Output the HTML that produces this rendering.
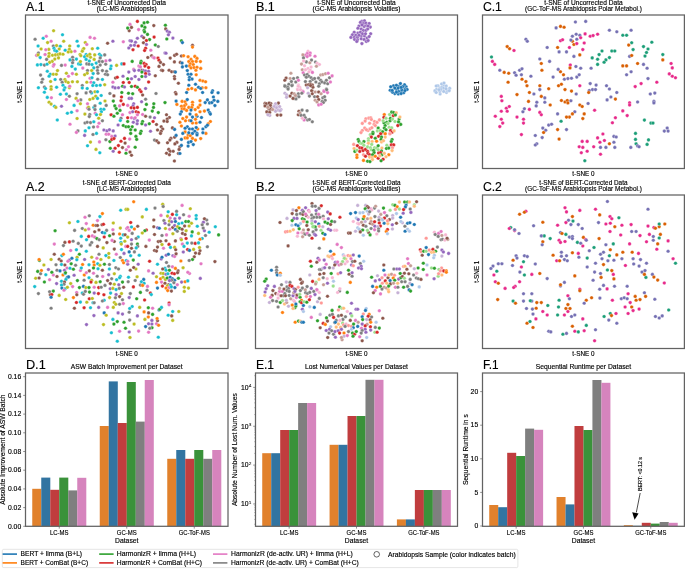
<!DOCTYPE html><html><head><meta charset="utf-8"><style>
html,body{margin:0;padding:0;background:#fff;}
svg{display:block;font-family:"Liberation Sans", sans-serif;will-change:transform;}
</style></head><body>
<svg width="685" height="569" viewBox="0 0 685 569">
<rect width="685" height="569" fill="#fff"/>
<g stroke="#fff" stroke-width="0.3">
<circle cx="53.6" cy="30.7" r="1.78" fill="#bcbd22"/>
<circle cx="62.5" cy="34.8" r="1.78" fill="#17becf"/>
<circle cx="35.1" cy="39.3" r="1.78" fill="#7f7f7f"/>
<circle cx="43.2" cy="38.3" r="1.78" fill="#17becf"/>
<circle cx="46.3" cy="36.3" r="1.78" fill="#e377c2"/>
<circle cx="51.1" cy="41.2" r="1.78" fill="#e377c2"/>
<circle cx="47.6" cy="42.6" r="1.78" fill="#bcbd22"/>
<circle cx="63.7" cy="41.2" r="1.78" fill="#bcbd22"/>
<circle cx="77.1" cy="41.2" r="1.78" fill="#17becf"/>
<circle cx="85.3" cy="42.6" r="1.78" fill="#bcbd22"/>
<circle cx="86.8" cy="44.5" r="1.78" fill="#e377c2"/>
<circle cx="90.1" cy="37.4" r="1.78" fill="#e377c2"/>
<circle cx="94.5" cy="38.3" r="1.78" fill="#e377c2"/>
<circle cx="107.6" cy="43.3" r="1.78" fill="#8c564b"/>
<circle cx="112.9" cy="41.2" r="1.78" fill="#9467bd"/>
<circle cx="123.3" cy="41.8" r="1.78" fill="#e377c2"/>
<circle cx="38.1" cy="46.0" r="1.78" fill="#17becf"/>
<circle cx="41.1" cy="49.0" r="1.78" fill="#bcbd22"/>
<circle cx="53.3" cy="46.0" r="1.78" fill="#7f7f7f"/>
<circle cx="56.6" cy="45.6" r="1.78" fill="#bcbd22"/>
<circle cx="60.3" cy="46.3" r="1.78" fill="#17becf"/>
<circle cx="54.0" cy="48.2" r="1.78" fill="#17becf"/>
<circle cx="48.8" cy="49.4" r="1.78" fill="#bcbd22"/>
<circle cx="45.8" cy="49.7" r="1.78" fill="#e377c2"/>
<circle cx="59.2" cy="49.0" r="1.78" fill="#bcbd22"/>
<circle cx="54.8" cy="50.5" r="1.78" fill="#17becf"/>
<circle cx="56.6" cy="51.2" r="1.78" fill="#17becf"/>
<circle cx="65.2" cy="50.2" r="1.78" fill="#17becf"/>
<circle cx="69.7" cy="46.0" r="1.78" fill="#bcbd22"/>
<circle cx="69.4" cy="49.3" r="1.78" fill="#bcbd22"/>
<circle cx="71.2" cy="51.7" r="1.78" fill="#bcbd22"/>
<circle cx="68.2" cy="52.0" r="1.78" fill="#bcbd22"/>
<circle cx="74.9" cy="51.2" r="1.78" fill="#e377c2"/>
<circle cx="78.3" cy="46.0" r="1.78" fill="#17becf"/>
<circle cx="82.8" cy="49.7" r="1.78" fill="#bcbd22"/>
<circle cx="83.8" cy="48.5" r="1.78" fill="#bcbd22"/>
<circle cx="82.3" cy="51.2" r="1.78" fill="#bcbd22"/>
<circle cx="92.3" cy="48.7" r="1.78" fill="#bcbd22"/>
<circle cx="97.7" cy="48.2" r="1.78" fill="#17becf"/>
<circle cx="38.4" cy="53.0" r="1.78" fill="#7f7f7f"/>
<circle cx="36.6" cy="55.4" r="1.78" fill="#e377c2"/>
<circle cx="38.1" cy="54.9" r="1.78" fill="#bcbd22"/>
<circle cx="40.2" cy="57.6" r="1.78" fill="#17becf"/>
<circle cx="45.1" cy="54.5" r="1.78" fill="#e377c2"/>
<circle cx="49.1" cy="53.5" r="1.78" fill="#bcbd22"/>
<circle cx="48.8" cy="56.4" r="1.78" fill="#bcbd22"/>
<circle cx="52.5" cy="55.2" r="1.78" fill="#bcbd22"/>
<circle cx="55.5" cy="54.9" r="1.78" fill="#bcbd22"/>
<circle cx="58.1" cy="54.5" r="1.78" fill="#bcbd22"/>
<circle cx="60.0" cy="53.9" r="1.78" fill="#bcbd22"/>
<circle cx="63.0" cy="54.2" r="1.78" fill="#bcbd22"/>
<circle cx="58.5" cy="57.9" r="1.78" fill="#bcbd22"/>
<circle cx="54.8" cy="59.1" r="1.78" fill="#bcbd22"/>
<circle cx="46.6" cy="59.4" r="1.78" fill="#7f7f7f"/>
<circle cx="52.2" cy="61.4" r="1.78" fill="#bcbd22"/>
<circle cx="49.6" cy="62.4" r="1.78" fill="#bcbd22"/>
<circle cx="80.1" cy="54.5" r="1.78" fill="#bcbd22"/>
<circle cx="80.8" cy="55.7" r="1.78" fill="#bcbd22"/>
<circle cx="86.1" cy="54.5" r="1.78" fill="#17becf"/>
<circle cx="84.6" cy="56.7" r="1.78" fill="#17becf"/>
<circle cx="87.5" cy="55.7" r="1.78" fill="#bcbd22"/>
<circle cx="90.5" cy="57.2" r="1.78" fill="#bcbd22"/>
<circle cx="89.8" cy="54.2" r="1.78" fill="#bcbd22"/>
<circle cx="94.7" cy="54.9" r="1.78" fill="#bcbd22"/>
<circle cx="99.5" cy="54.2" r="1.78" fill="#17becf"/>
<circle cx="100.9" cy="55.7" r="1.78" fill="#17becf"/>
<circle cx="104.7" cy="54.9" r="1.78" fill="#7f7f7f"/>
<circle cx="100.2" cy="57.9" r="1.78" fill="#7f7f7f"/>
<circle cx="72.6" cy="57.2" r="1.78" fill="#7f7f7f"/>
<circle cx="70.0" cy="59.9" r="1.78" fill="#17becf"/>
<circle cx="72.9" cy="60.2" r="1.78" fill="#7f7f7f"/>
<circle cx="76.4" cy="59.1" r="1.78" fill="#17becf"/>
<circle cx="72.6" cy="62.7" r="1.78" fill="#7f7f7f"/>
<circle cx="78.6" cy="63.9" r="1.78" fill="#17becf"/>
<circle cx="80.4" cy="64.3" r="1.78" fill="#17becf"/>
<circle cx="80.4" cy="61.6" r="1.78" fill="#bcbd22"/>
<circle cx="86.1" cy="59.4" r="1.78" fill="#17becf"/>
<circle cx="89.3" cy="61.1" r="1.78" fill="#17becf"/>
<circle cx="94.2" cy="59.4" r="1.78" fill="#bcbd22"/>
<circle cx="86.8" cy="63.9" r="1.78" fill="#7f7f7f"/>
<circle cx="89.0" cy="64.3" r="1.78" fill="#7f7f7f"/>
<circle cx="92.0" cy="64.6" r="1.78" fill="#17becf"/>
<circle cx="96.2" cy="63.1" r="1.78" fill="#17becf"/>
<circle cx="99.2" cy="61.4" r="1.78" fill="#7f7f7f"/>
<circle cx="102.4" cy="61.6" r="1.78" fill="#7f7f7f"/>
<circle cx="105.9" cy="60.9" r="1.78" fill="#e377c2"/>
<circle cx="109.9" cy="60.2" r="1.78" fill="#9467bd"/>
<circle cx="105.7" cy="64.2" r="1.78" fill="#7f7f7f"/>
<circle cx="100.2" cy="65.1" r="1.78" fill="#7f7f7f"/>
<circle cx="111.1" cy="66.1" r="1.78" fill="#17becf"/>
<circle cx="116.6" cy="65.4" r="1.78" fill="#bcbd22"/>
<circle cx="121.8" cy="63.9" r="1.78" fill="#17becf"/>
<circle cx="124.0" cy="63.9" r="1.78" fill="#d62728"/>
<circle cx="37.4" cy="64.9" r="1.78" fill="#17becf"/>
<circle cx="40.9" cy="64.6" r="1.78" fill="#17becf"/>
<circle cx="44.4" cy="65.1" r="1.78" fill="#7f7f7f"/>
<circle cx="47.0" cy="64.2" r="1.78" fill="#17becf"/>
<circle cx="53.3" cy="66.1" r="1.78" fill="#e377c2"/>
<circle cx="54.0" cy="64.6" r="1.78" fill="#e377c2"/>
<circle cx="61.5" cy="65.4" r="1.78" fill="#7f7f7f"/>
<circle cx="65.2" cy="65.1" r="1.78" fill="#e377c2"/>
<circle cx="71.9" cy="66.4" r="1.78" fill="#17becf"/>
<circle cx="75.3" cy="69.1" r="1.78" fill="#17becf"/>
<circle cx="82.8" cy="68.1" r="1.78" fill="#e377c2"/>
<circle cx="93.8" cy="67.9" r="1.78" fill="#17becf"/>
<circle cx="97.5" cy="67.3" r="1.78" fill="#7f7f7f"/>
<circle cx="110.6" cy="68.8" r="1.78" fill="#17becf"/>
<circle cx="47.3" cy="71.3" r="1.78" fill="#17becf"/>
<circle cx="50.3" cy="74.3" r="1.78" fill="#17becf"/>
<circle cx="49.1" cy="76.2" r="1.78" fill="#17becf"/>
<circle cx="53.3" cy="74.3" r="1.78" fill="#bcbd22"/>
<circle cx="56.3" cy="74.3" r="1.78" fill="#bcbd22"/>
<circle cx="57.5" cy="70.6" r="1.78" fill="#bcbd22"/>
<circle cx="40.6" cy="75.1" r="1.78" fill="#7f7f7f"/>
<circle cx="42.6" cy="79.2" r="1.78" fill="#7f7f7f"/>
<circle cx="41.7" cy="82.2" r="1.78" fill="#7f7f7f"/>
<circle cx="66.4" cy="73.3" r="1.78" fill="#bcbd22"/>
<circle cx="68.5" cy="76.2" r="1.78" fill="#e377c2"/>
<circle cx="72.4" cy="73.6" r="1.78" fill="#e377c2"/>
<circle cx="76.4" cy="74.3" r="1.78" fill="#bcbd22"/>
<circle cx="87.5" cy="70.6" r="1.78" fill="#7f7f7f"/>
<circle cx="91.7" cy="70.6" r="1.78" fill="#bcbd22"/>
<circle cx="87.2" cy="73.3" r="1.78" fill="#bcbd22"/>
<circle cx="84.6" cy="74.8" r="1.78" fill="#bcbd22"/>
<circle cx="93.2" cy="73.6" r="1.78" fill="#17becf"/>
<circle cx="97.5" cy="70.6" r="1.78" fill="#7f7f7f"/>
<circle cx="102.4" cy="70.6" r="1.78" fill="#7f7f7f"/>
<circle cx="106.6" cy="71.3" r="1.78" fill="#7f7f7f"/>
<circle cx="105.4" cy="74.3" r="1.78" fill="#7f7f7f"/>
<circle cx="107.6" cy="74.8" r="1.78" fill="#7f7f7f"/>
<circle cx="98.0" cy="73.3" r="1.78" fill="#7f7f7f"/>
<circle cx="115.5" cy="78.0" r="1.78" fill="#8c564b"/>
<circle cx="117.3" cy="77.3" r="1.78" fill="#d62728"/>
<circle cx="123.0" cy="76.2" r="1.78" fill="#9467bd"/>
<circle cx="50.6" cy="81.5" r="1.78" fill="#bcbd22"/>
<circle cx="55.1" cy="79.5" r="1.78" fill="#17becf"/>
<circle cx="60.7" cy="79.5" r="1.78" fill="#7f7f7f"/>
<circle cx="62.2" cy="82.2" r="1.78" fill="#7f7f7f"/>
<circle cx="64.9" cy="79.5" r="1.78" fill="#bcbd22"/>
<circle cx="65.9" cy="81.5" r="1.78" fill="#bcbd22"/>
<circle cx="68.2" cy="82.5" r="1.78" fill="#bcbd22"/>
<circle cx="72.4" cy="81.8" r="1.78" fill="#bcbd22"/>
<circle cx="77.4" cy="81.8" r="1.78" fill="#bcbd22"/>
<circle cx="86.8" cy="82.2" r="1.78" fill="#bcbd22"/>
<circle cx="90.1" cy="78.3" r="1.78" fill="#e377c2"/>
<circle cx="92.0" cy="77.7" r="1.78" fill="#17becf"/>
<circle cx="97.7" cy="79.2" r="1.78" fill="#7f7f7f"/>
<circle cx="102.4" cy="79.5" r="1.78" fill="#17becf"/>
<circle cx="91.0" cy="82.2" r="1.78" fill="#e377c2"/>
<circle cx="93.8" cy="82.8" r="1.78" fill="#17becf"/>
<circle cx="96.5" cy="85.5" r="1.78" fill="#17becf"/>
<circle cx="100.2" cy="85.2" r="1.78" fill="#17becf"/>
<circle cx="104.7" cy="84.7" r="1.78" fill="#bcbd22"/>
<circle cx="112.9" cy="82.2" r="1.78" fill="#e377c2"/>
<circle cx="123.3" cy="82.5" r="1.78" fill="#d62728"/>
<circle cx="38.4" cy="87.7" r="1.78" fill="#17becf"/>
<circle cx="44.4" cy="87.0" r="1.78" fill="#7f7f7f"/>
<circle cx="45.5" cy="88.5" r="1.78" fill="#17becf"/>
<circle cx="51.1" cy="86.7" r="1.78" fill="#bcbd22"/>
<circle cx="51.1" cy="89.2" r="1.78" fill="#bcbd22"/>
<circle cx="56.6" cy="87.3" r="1.78" fill="#17becf"/>
<circle cx="63.0" cy="85.2" r="1.78" fill="#17becf"/>
<circle cx="64.9" cy="87.7" r="1.78" fill="#17becf"/>
<circle cx="64.0" cy="89.9" r="1.78" fill="#17becf"/>
<circle cx="69.4" cy="87.7" r="1.78" fill="#bcbd22"/>
<circle cx="69.7" cy="86.2" r="1.78" fill="#e377c2"/>
<circle cx="82.3" cy="85.5" r="1.78" fill="#7f7f7f"/>
<circle cx="82.3" cy="88.0" r="1.78" fill="#17becf"/>
<circle cx="87.2" cy="88.5" r="1.78" fill="#17becf"/>
<circle cx="92.8" cy="85.5" r="1.78" fill="#17becf"/>
<circle cx="112.9" cy="87.0" r="1.78" fill="#9467bd"/>
<circle cx="115.1" cy="87.9" r="1.78" fill="#9467bd"/>
<circle cx="118.5" cy="87.7" r="1.78" fill="#9467bd"/>
<circle cx="122.5" cy="86.2" r="1.78" fill="#2ca02c"/>
<circle cx="124.5" cy="87.0" r="1.78" fill="#9467bd"/>
<circle cx="44.4" cy="92.2" r="1.78" fill="#17becf"/>
<circle cx="47.3" cy="97.4" r="1.78" fill="#17becf"/>
<circle cx="51.4" cy="97.7" r="1.78" fill="#e377c2"/>
<circle cx="49.1" cy="102.2" r="1.78" fill="#bcbd22"/>
<circle cx="51.1" cy="104.1" r="1.78" fill="#bcbd22"/>
<circle cx="54.5" cy="106.3" r="1.78" fill="#17becf"/>
<circle cx="55.8" cy="107.4" r="1.78" fill="#bcbd22"/>
<circle cx="61.5" cy="106.3" r="1.78" fill="#9467bd"/>
<circle cx="60.4" cy="94.3" r="1.78" fill="#17becf"/>
<circle cx="66.4" cy="94.0" r="1.78" fill="#17becf"/>
<circle cx="69.4" cy="96.2" r="1.78" fill="#7f7f7f"/>
<circle cx="77.1" cy="93.7" r="1.78" fill="#7f7f7f"/>
<circle cx="66.4" cy="99.5" r="1.78" fill="#e377c2"/>
<circle cx="76.1" cy="98.4" r="1.78" fill="#bcbd22"/>
<circle cx="80.8" cy="99.9" r="1.78" fill="#7f7f7f"/>
<circle cx="77.9" cy="100.7" r="1.78" fill="#e377c2"/>
<circle cx="80.4" cy="103.7" r="1.78" fill="#bcbd22"/>
<circle cx="74.1" cy="105.4" r="1.78" fill="#17becf"/>
<circle cx="67.4" cy="113.3" r="1.78" fill="#17becf"/>
<circle cx="71.5" cy="112.3" r="1.78" fill="#17becf"/>
<circle cx="77.1" cy="110.8" r="1.78" fill="#e377c2"/>
<circle cx="77.1" cy="118.5" r="1.78" fill="#bcbd22"/>
<circle cx="57.3" cy="120.0" r="1.78" fill="#17becf"/>
<circle cx="86.1" cy="92.9" r="1.78" fill="#7f7f7f"/>
<circle cx="91.6" cy="92.9" r="1.78" fill="#17becf"/>
<circle cx="95.0" cy="91.7" r="1.78" fill="#bcbd22"/>
<circle cx="97.5" cy="91.7" r="1.78" fill="#17becf"/>
<circle cx="90.5" cy="91.7" r="1.78" fill="#7f7f7f"/>
<circle cx="95.7" cy="96.2" r="1.78" fill="#bcbd22"/>
<circle cx="93.0" cy="98.4" r="1.78" fill="#bcbd22"/>
<circle cx="89.8" cy="99.5" r="1.78" fill="#bcbd22"/>
<circle cx="97.5" cy="98.4" r="1.78" fill="#17becf"/>
<circle cx="101.2" cy="95.5" r="1.78" fill="#17becf"/>
<circle cx="109.9" cy="93.5" r="1.78" fill="#7f7f7f"/>
<circle cx="113.9" cy="95.9" r="1.78" fill="#8c564b"/>
<circle cx="87.5" cy="103.7" r="1.78" fill="#e377c2"/>
<circle cx="100.2" cy="103.2" r="1.78" fill="#17becf"/>
<circle cx="106.2" cy="105.4" r="1.78" fill="#7f7f7f"/>
<circle cx="105.0" cy="101.0" r="1.78" fill="#bcbd22"/>
<circle cx="87.5" cy="108.1" r="1.78" fill="#e377c2"/>
<circle cx="88.6" cy="107.4" r="1.78" fill="#bcbd22"/>
<circle cx="89.0" cy="109.3" r="1.78" fill="#7f7f7f"/>
<circle cx="93.9" cy="107.4" r="1.78" fill="#17becf"/>
<circle cx="95.0" cy="105.9" r="1.78" fill="#7f7f7f"/>
<circle cx="95.0" cy="109.6" r="1.78" fill="#7f7f7f"/>
<circle cx="100.9" cy="109.3" r="1.78" fill="#17becf"/>
<circle cx="103.9" cy="109.3" r="1.78" fill="#17becf"/>
<circle cx="101.4" cy="111.8" r="1.78" fill="#17becf"/>
<circle cx="84.9" cy="114.1" r="1.78" fill="#bcbd22"/>
<circle cx="89.8" cy="114.5" r="1.78" fill="#7f7f7f"/>
<circle cx="89.3" cy="116.6" r="1.78" fill="#7f7f7f"/>
<circle cx="95.3" cy="113.3" r="1.78" fill="#e377c2"/>
<circle cx="96.5" cy="114.8" r="1.78" fill="#17becf"/>
<circle cx="100.5" cy="114.5" r="1.78" fill="#bcbd22"/>
<circle cx="98.7" cy="118.2" r="1.78" fill="#bcbd22"/>
<circle cx="70.0" cy="124.2" r="1.78" fill="#e377c2"/>
<circle cx="85.0" cy="123.0" r="1.78" fill="#7f7f7f"/>
<circle cx="87.2" cy="122.3" r="1.78" fill="#7f7f7f"/>
<circle cx="90.5" cy="122.6" r="1.78" fill="#7f7f7f"/>
<circle cx="93.8" cy="121.8" r="1.78" fill="#17becf"/>
<circle cx="99.0" cy="123.3" r="1.78" fill="#e377c2"/>
<circle cx="102.4" cy="120.8" r="1.78" fill="#7f7f7f"/>
<circle cx="89.0" cy="127.8" r="1.78" fill="#17becf"/>
<circle cx="93.5" cy="127.0" r="1.78" fill="#7f7f7f"/>
<circle cx="97.7" cy="126.7" r="1.78" fill="#e377c2"/>
<circle cx="77.9" cy="130.9" r="1.78" fill="#7f7f7f"/>
<circle cx="76.4" cy="132.4" r="1.78" fill="#e377c2"/>
<circle cx="84.6" cy="135.4" r="1.78" fill="#9467bd"/>
<circle cx="85.3" cy="130.9" r="1.78" fill="#17becf"/>
<circle cx="93.0" cy="134.5" r="1.78" fill="#7f7f7f"/>
<circle cx="96.5" cy="133.4" r="1.78" fill="#17becf"/>
<circle cx="90.5" cy="142.1" r="1.78" fill="#bcbd22"/>
<circle cx="87.5" cy="145.8" r="1.78" fill="#17becf"/>
<circle cx="99.5" cy="141.9" r="1.78" fill="#e377c2"/>
<circle cx="96.0" cy="149.4" r="1.78" fill="#bcbd22"/>
<circle cx="99.8" cy="152.8" r="1.78" fill="#17becf"/>
<circle cx="103.9" cy="130.0" r="1.78" fill="#9467bd"/>
<circle cx="106.9" cy="130.9" r="1.78" fill="#9467bd"/>
<circle cx="109.4" cy="129.7" r="1.78" fill="#9467bd"/>
<circle cx="113.2" cy="130.9" r="1.78" fill="#9467bd"/>
<circle cx="106.2" cy="134.2" r="1.78" fill="#e377c2"/>
<circle cx="108.7" cy="134.2" r="1.78" fill="#e377c2"/>
<circle cx="111.8" cy="136.4" r="1.78" fill="#e377c2"/>
<circle cx="115.1" cy="136.0" r="1.78" fill="#9467bd"/>
<circle cx="105.9" cy="139.7" r="1.78" fill="#7f7f7f"/>
<circle cx="109.9" cy="141.6" r="1.78" fill="#2ca02c"/>
<circle cx="111.8" cy="139.4" r="1.78" fill="#d62728"/>
<circle cx="114.0" cy="138.6" r="1.78" fill="#d62728"/>
<circle cx="113.3" cy="101.1" r="1.78" fill="#2ca02c"/>
<circle cx="114.8" cy="105.9" r="1.78" fill="#2ca02c"/>
<circle cx="116.1" cy="108.6" r="1.78" fill="#2ca02c"/>
<circle cx="120.0" cy="110.4" r="1.78" fill="#2ca02c"/>
<circle cx="117.3" cy="113.3" r="1.78" fill="#2ca02c"/>
<circle cx="111.1" cy="114.8" r="1.78" fill="#d62728"/>
<circle cx="113.9" cy="116.3" r="1.78" fill="#2ca02c"/>
<circle cx="122.5" cy="114.8" r="1.78" fill="#e377c2"/>
<circle cx="121.0" cy="118.2" r="1.78" fill="#7f7f7f"/>
<circle cx="123.3" cy="104.4" r="1.78" fill="#d62728"/>
<circle cx="121.0" cy="100.7" r="1.78" fill="#d62728"/>
<circle cx="119.6" cy="105.9" r="1.78" fill="#e377c2"/>
<circle cx="118.1" cy="125.0" r="1.78" fill="#9467bd"/>
<circle cx="123.3" cy="125.5" r="1.78" fill="#2ca02c"/>
<circle cx="126.0" cy="126.7" r="1.78" fill="#2ca02c"/>
<circle cx="120.3" cy="120.5" r="1.78" fill="#17becf"/>
<circle cx="124.5" cy="138.4" r="1.78" fill="#d62728"/>
<circle cx="121.0" cy="141.2" r="1.78" fill="#d62728"/>
<circle cx="125.1" cy="143.1" r="1.78" fill="#8c564b"/>
<circle cx="118.4" cy="145.6" r="1.78" fill="#d62728"/>
<circle cx="115.1" cy="148.3" r="1.78" fill="#d62728"/>
<circle cx="122.5" cy="147.6" r="1.78" fill="#8c564b"/>
<circle cx="110.3" cy="148.3" r="1.78" fill="#2ca02c"/>
<circle cx="113.2" cy="151.3" r="1.78" fill="#9467bd"/>
<circle cx="119.3" cy="152.3" r="1.78" fill="#d62728"/>
<circle cx="126.0" cy="153.2" r="1.78" fill="#2ca02c"/>
<circle cx="126.3" cy="149.8" r="1.78" fill="#e377c2"/>
<circle cx="121.8" cy="92.5" r="1.78" fill="#2ca02c"/>
<circle cx="121.5" cy="97.0" r="1.78" fill="#d62728"/>
<circle cx="137.4" cy="21.4" r="1.78" fill="#d62728"/>
<circle cx="144.1" cy="22.9" r="1.78" fill="#2ca02c"/>
<circle cx="147.5" cy="22.2" r="1.78" fill="#2ca02c"/>
<circle cx="141.9" cy="25.9" r="1.78" fill="#2ca02c"/>
<circle cx="144.9" cy="27.4" r="1.78" fill="#2ca02c"/>
<circle cx="144.1" cy="30.4" r="1.78" fill="#2ca02c"/>
<circle cx="144.6" cy="31.9" r="1.78" fill="#2ca02c"/>
<circle cx="153.8" cy="25.6" r="1.78" fill="#8c564b"/>
<circle cx="130.0" cy="24.4" r="1.78" fill="#e377c2"/>
<circle cx="131.5" cy="27.4" r="1.78" fill="#8c564b"/>
<circle cx="129.2" cy="30.7" r="1.78" fill="#8c564b"/>
<circle cx="127.7" cy="28.1" r="1.78" fill="#2ca02c"/>
<circle cx="138.6" cy="29.6" r="1.78" fill="#e377c2"/>
<circle cx="165.4" cy="25.2" r="1.78" fill="#2ca02c"/>
<circle cx="165.7" cy="28.9" r="1.78" fill="#8c564b"/>
<circle cx="167.2" cy="31.1" r="1.78" fill="#9467bd"/>
<circle cx="169.4" cy="32.2" r="1.78" fill="#9467bd"/>
<circle cx="168.4" cy="34.8" r="1.78" fill="#9467bd"/>
<circle cx="172.9" cy="38.1" r="1.78" fill="#9467bd"/>
<circle cx="166.8" cy="39.0" r="1.78" fill="#2ca02c"/>
<circle cx="181.4" cy="40.8" r="1.78" fill="#2ca02c"/>
<circle cx="182.4" cy="42.6" r="1.78" fill="#1f77b4"/>
<circle cx="147.5" cy="34.4" r="1.78" fill="#2ca02c"/>
<circle cx="141.9" cy="36.3" r="1.78" fill="#9467bd"/>
<circle cx="143.7" cy="37.8" r="1.78" fill="#8c564b"/>
<circle cx="137.4" cy="38.3" r="1.78" fill="#9467bd"/>
<circle cx="154.1" cy="37.1" r="1.78" fill="#d62728"/>
<circle cx="149.6" cy="39.6" r="1.78" fill="#2ca02c"/>
<circle cx="146.4" cy="40.5" r="1.78" fill="#d62728"/>
<circle cx="130.0" cy="40.8" r="1.78" fill="#9467bd"/>
<circle cx="131.5" cy="41.1" r="1.78" fill="#9467bd"/>
<circle cx="135.5" cy="42.3" r="1.78" fill="#9467bd"/>
<circle cx="143.4" cy="42.7" r="1.78" fill="#8c564b"/>
<circle cx="134.4" cy="45.3" r="1.78" fill="#9467bd"/>
<circle cx="130.7" cy="45.6" r="1.78" fill="#9467bd"/>
<circle cx="128.8" cy="48.0" r="1.78" fill="#9467bd"/>
<circle cx="133.0" cy="49.7" r="1.78" fill="#d62728"/>
<circle cx="138.2" cy="46.0" r="1.78" fill="#d62728"/>
<circle cx="146.4" cy="44.5" r="1.78" fill="#9467bd"/>
<circle cx="155.3" cy="45.0" r="1.78" fill="#2ca02c"/>
<circle cx="158.3" cy="46.5" r="1.78" fill="#7f7f7f"/>
<circle cx="145.6" cy="48.2" r="1.78" fill="#d62728"/>
<circle cx="144.6" cy="50.5" r="1.78" fill="#d62728"/>
<circle cx="150.8" cy="50.2" r="1.78" fill="#e377c2"/>
<circle cx="192.5" cy="45.3" r="1.78" fill="#8c564b"/>
<circle cx="192.5" cy="47.1" r="1.78" fill="#ff7f0e"/>
<circle cx="165.0" cy="53.0" r="1.78" fill="#9467bd"/>
<circle cx="166.0" cy="53.2" r="1.78" fill="#9467bd"/>
<circle cx="151.6" cy="55.7" r="1.78" fill="#8c564b"/>
<circle cx="147.8" cy="57.5" r="1.78" fill="#8c564b"/>
<circle cx="153.1" cy="57.2" r="1.78" fill="#e377c2"/>
<circle cx="154.2" cy="57.9" r="1.78" fill="#e377c2"/>
<circle cx="158.0" cy="58.1" r="1.78" fill="#d62728"/>
<circle cx="159.0" cy="60.2" r="1.78" fill="#d62728"/>
<circle cx="160.5" cy="62.4" r="1.78" fill="#8c564b"/>
<circle cx="163.5" cy="64.6" r="1.78" fill="#8c564b"/>
<circle cx="159.0" cy="66.4" r="1.78" fill="#8c564b"/>
<circle cx="170.2" cy="58.1" r="1.78" fill="#8c564b"/>
<circle cx="174.6" cy="55.4" r="1.78" fill="#8c564b"/>
<circle cx="176.6" cy="54.2" r="1.78" fill="#8c564b"/>
<circle cx="181.4" cy="56.0" r="1.78" fill="#8c564b"/>
<circle cx="174.4" cy="61.9" r="1.78" fill="#8c564b"/>
<circle cx="180.3" cy="62.4" r="1.78" fill="#8c564b"/>
<circle cx="161.5" cy="70.3" r="1.78" fill="#8c564b"/>
<circle cx="162.7" cy="70.6" r="1.78" fill="#8c564b"/>
<circle cx="169.1" cy="70.3" r="1.78" fill="#8c564b"/>
<circle cx="171.7" cy="71.8" r="1.78" fill="#8c564b"/>
<circle cx="174.4" cy="71.8" r="1.78" fill="#8c564b"/>
<circle cx="175.4" cy="72.1" r="1.78" fill="#1f77b4"/>
<circle cx="155.3" cy="75.8" r="1.78" fill="#8c564b"/>
<circle cx="174.4" cy="76.5" r="1.78" fill="#8c564b"/>
<circle cx="174.6" cy="78.8" r="1.78" fill="#8c564b"/>
<circle cx="178.4" cy="83.2" r="1.78" fill="#8c564b"/>
<circle cx="132.2" cy="61.4" r="1.78" fill="#2ca02c"/>
<circle cx="141.1" cy="61.4" r="1.78" fill="#2ca02c"/>
<circle cx="140.7" cy="63.1" r="1.78" fill="#2ca02c"/>
<circle cx="144.1" cy="63.4" r="1.78" fill="#d62728"/>
<circle cx="146.1" cy="64.6" r="1.78" fill="#d62728"/>
<circle cx="148.6" cy="67.6" r="1.78" fill="#d62728"/>
<circle cx="144.9" cy="66.1" r="1.78" fill="#d62728"/>
<circle cx="138.9" cy="66.1" r="1.78" fill="#e377c2"/>
<circle cx="140.4" cy="66.9" r="1.78" fill="#e377c2"/>
<circle cx="141.9" cy="70.3" r="1.78" fill="#8c564b"/>
<circle cx="138.9" cy="70.3" r="1.78" fill="#9467bd"/>
<circle cx="143.4" cy="70.6" r="1.78" fill="#9467bd"/>
<circle cx="141.9" cy="72.1" r="1.78" fill="#2ca02c"/>
<circle cx="145.6" cy="71.0" r="1.78" fill="#9467bd"/>
<circle cx="148.6" cy="71.3" r="1.78" fill="#9467bd"/>
<circle cx="149.3" cy="74.3" r="1.78" fill="#9467bd"/>
<circle cx="133.7" cy="69.4" r="1.78" fill="#e377c2"/>
<circle cx="134.4" cy="70.6" r="1.78" fill="#9467bd"/>
<circle cx="128.8" cy="72.1" r="1.78" fill="#9467bd"/>
<circle cx="145.6" cy="73.6" r="1.78" fill="#d62728"/>
<circle cx="141.9" cy="76.5" r="1.78" fill="#2ca02c"/>
<circle cx="145.6" cy="76.5" r="1.78" fill="#9467bd"/>
<circle cx="135.2" cy="76.5" r="1.78" fill="#9467bd"/>
<circle cx="138.9" cy="79.5" r="1.78" fill="#9467bd"/>
<circle cx="131.5" cy="78.8" r="1.78" fill="#9467bd"/>
<circle cx="127.7" cy="78.8" r="1.78" fill="#2ca02c"/>
<circle cx="129.2" cy="82.5" r="1.78" fill="#d62728"/>
<circle cx="148.6" cy="82.0" r="1.78" fill="#d62728"/>
<circle cx="131.5" cy="86.5" r="1.78" fill="#2ca02c"/>
<circle cx="135.2" cy="86.2" r="1.78" fill="#d62728"/>
<circle cx="137.4" cy="87.3" r="1.78" fill="#2ca02c"/>
<circle cx="139.7" cy="89.9" r="1.78" fill="#d62728"/>
<circle cx="145.6" cy="88.5" r="1.78" fill="#9467bd"/>
<circle cx="183.6" cy="55.7" r="1.78" fill="#ff7f0e"/>
<circle cx="188.1" cy="56.7" r="1.78" fill="#ff7f0e"/>
<circle cx="194.8" cy="56.4" r="1.78" fill="#ff7f0e"/>
<circle cx="197.0" cy="58.4" r="1.78" fill="#ff7f0e"/>
<circle cx="191.0" cy="59.4" r="1.78" fill="#ff7f0e"/>
<circle cx="188.8" cy="61.6" r="1.78" fill="#ff7f0e"/>
<circle cx="192.5" cy="61.6" r="1.78" fill="#ff7f0e"/>
<circle cx="196.2" cy="61.4" r="1.78" fill="#ff7f0e"/>
<circle cx="200.4" cy="61.6" r="1.78" fill="#ff7f0e"/>
<circle cx="190.3" cy="63.9" r="1.78" fill="#ff7f0e"/>
<circle cx="193.3" cy="64.6" r="1.78" fill="#ff7f0e"/>
<circle cx="189.5" cy="66.1" r="1.78" fill="#ff7f0e"/>
<circle cx="191.0" cy="67.9" r="1.78" fill="#ff7f0e"/>
<circle cx="194.0" cy="67.6" r="1.78" fill="#ff7f0e"/>
<circle cx="197.0" cy="67.3" r="1.78" fill="#ff7f0e"/>
<circle cx="200.7" cy="68.4" r="1.78" fill="#ff7f0e"/>
<circle cx="195.9" cy="70.3" r="1.78" fill="#ff7f0e"/>
<circle cx="196.2" cy="74.8" r="1.78" fill="#ff7f0e"/>
<circle cx="200.0" cy="80.3" r="1.78" fill="#ff7f0e"/>
<circle cx="202.9" cy="81.0" r="1.78" fill="#ff7f0e"/>
<circle cx="205.6" cy="81.8" r="1.78" fill="#ff7f0e"/>
<circle cx="202.2" cy="87.7" r="1.78" fill="#ff7f0e"/>
<circle cx="205.9" cy="87.7" r="1.78" fill="#ff7f0e"/>
<circle cx="188.1" cy="89.2" r="1.78" fill="#ff7f0e"/>
<circle cx="191.8" cy="88.5" r="1.78" fill="#ff7f0e"/>
<circle cx="195.5" cy="89.9" r="1.78" fill="#ff7f0e"/>
<circle cx="182.1" cy="63.1" r="1.78" fill="#1f77b4"/>
<circle cx="182.4" cy="66.9" r="1.78" fill="#1f77b4"/>
<circle cx="186.3" cy="66.1" r="1.78" fill="#1f77b4"/>
<circle cx="187.3" cy="70.6" r="1.78" fill="#1f77b4"/>
<circle cx="188.1" cy="74.3" r="1.78" fill="#1f77b4"/>
<circle cx="191.0" cy="74.3" r="1.78" fill="#1f77b4"/>
<circle cx="189.5" cy="77.3" r="1.78" fill="#1f77b4"/>
<circle cx="192.1" cy="79.1" r="1.78" fill="#1f77b4"/>
<circle cx="189.2" cy="79.8" r="1.78" fill="#1f77b4"/>
<circle cx="188.8" cy="85.2" r="1.78" fill="#1f77b4"/>
<circle cx="195.5" cy="84.3" r="1.78" fill="#1f77b4"/>
<circle cx="198.5" cy="87.3" r="1.78" fill="#1f77b4"/>
<circle cx="200.7" cy="88.5" r="1.78" fill="#1f77b4"/>
<circle cx="212.6" cy="90.7" r="1.78" fill="#1f77b4"/>
<circle cx="128.5" cy="93.2" r="1.78" fill="#2ca02c"/>
<circle cx="132.7" cy="93.7" r="1.78" fill="#2ca02c"/>
<circle cx="141.1" cy="91.7" r="1.78" fill="#d62728"/>
<circle cx="142.6" cy="95.0" r="1.78" fill="#8c564b"/>
<circle cx="156.0" cy="93.5" r="1.78" fill="#7f7f7f"/>
<circle cx="175.4" cy="92.5" r="1.78" fill="#8c564b"/>
<circle cx="176.1" cy="94.0" r="1.78" fill="#8c564b"/>
<circle cx="129.2" cy="98.4" r="1.78" fill="#9467bd"/>
<circle cx="131.5" cy="98.4" r="1.78" fill="#9467bd"/>
<circle cx="145.6" cy="99.2" r="1.78" fill="#7f7f7f"/>
<circle cx="141.6" cy="101.7" r="1.78" fill="#9467bd"/>
<circle cx="133.7" cy="103.7" r="1.78" fill="#9467bd"/>
<circle cx="133.0" cy="105.9" r="1.78" fill="#9467bd"/>
<circle cx="146.4" cy="104.4" r="1.78" fill="#2ca02c"/>
<circle cx="153.8" cy="103.7" r="1.78" fill="#2ca02c"/>
<circle cx="153.5" cy="107.4" r="1.78" fill="#2ca02c"/>
<circle cx="144.9" cy="109.6" r="1.78" fill="#2ca02c"/>
<circle cx="152.3" cy="111.1" r="1.78" fill="#2ca02c"/>
<circle cx="158.3" cy="112.6" r="1.78" fill="#2ca02c"/>
<circle cx="165.0" cy="102.6" r="1.78" fill="#2ca02c"/>
<circle cx="127.7" cy="105.4" r="1.78" fill="#e377c2"/>
<circle cx="131.2" cy="107.7" r="1.78" fill="#d62728"/>
<circle cx="134.1" cy="108.1" r="1.78" fill="#d62728"/>
<circle cx="137.4" cy="107.4" r="1.78" fill="#d62728"/>
<circle cx="130.0" cy="112.6" r="1.78" fill="#e377c2"/>
<circle cx="132.7" cy="111.8" r="1.78" fill="#9467bd"/>
<circle cx="136.2" cy="111.8" r="1.78" fill="#d62728"/>
<circle cx="138.2" cy="112.6" r="1.78" fill="#d62728"/>
<circle cx="137.4" cy="114.8" r="1.78" fill="#e377c2"/>
<circle cx="142.6" cy="114.5" r="1.78" fill="#e377c2"/>
<circle cx="127.7" cy="117.8" r="1.78" fill="#d62728"/>
<circle cx="131.5" cy="117.8" r="1.78" fill="#e377c2"/>
<circle cx="134.4" cy="118.5" r="1.78" fill="#9467bd"/>
<circle cx="135.2" cy="117.8" r="1.78" fill="#e377c2"/>
<circle cx="145.6" cy="116.3" r="1.78" fill="#8c564b"/>
<circle cx="150.1" cy="117.1" r="1.78" fill="#7f7f7f"/>
<circle cx="154.5" cy="117.8" r="1.78" fill="#9467bd"/>
<circle cx="153.1" cy="121.5" r="1.78" fill="#d62728"/>
<circle cx="156.5" cy="124.5" r="1.78" fill="#8c564b"/>
<circle cx="145.6" cy="125.0" r="1.78" fill="#9467bd"/>
<circle cx="149.3" cy="123.8" r="1.78" fill="#2ca02c"/>
<circle cx="133.3" cy="122.3" r="1.78" fill="#9467bd"/>
<circle cx="137.4" cy="120.8" r="1.78" fill="#9467bd"/>
<circle cx="137.1" cy="123.8" r="1.78" fill="#9467bd"/>
<circle cx="142.6" cy="121.5" r="1.78" fill="#2ca02c"/>
<circle cx="141.9" cy="123.8" r="1.78" fill="#2ca02c"/>
<circle cx="127.7" cy="121.5" r="1.78" fill="#2ca02c"/>
<circle cx="128.5" cy="126.7" r="1.78" fill="#2ca02c"/>
<circle cx="132.2" cy="126.7" r="1.78" fill="#2ca02c"/>
<circle cx="130.7" cy="129.7" r="1.78" fill="#2ca02c"/>
<circle cx="135.2" cy="130.0" r="1.78" fill="#2ca02c"/>
<circle cx="130.7" cy="133.4" r="1.78" fill="#2ca02c"/>
<circle cx="141.1" cy="131.2" r="1.78" fill="#2ca02c"/>
<circle cx="140.4" cy="133.4" r="1.78" fill="#2ca02c"/>
<circle cx="150.5" cy="131.2" r="1.78" fill="#9467bd"/>
<circle cx="135.9" cy="136.4" r="1.78" fill="#2ca02c"/>
<circle cx="136.7" cy="139.4" r="1.78" fill="#2ca02c"/>
<circle cx="129.7" cy="139.1" r="1.78" fill="#e377c2"/>
<circle cx="128.5" cy="146.8" r="1.78" fill="#e377c2"/>
<circle cx="135.2" cy="147.3" r="1.78" fill="#2ca02c"/>
<circle cx="130.0" cy="152.1" r="1.78" fill="#8c564b"/>
<circle cx="131.5" cy="155.3" r="1.78" fill="#8c564b"/>
<circle cx="154.5" cy="140.1" r="1.78" fill="#7f7f7f"/>
<circle cx="156.8" cy="140.9" r="1.78" fill="#8c564b"/>
<circle cx="158.6" cy="142.7" r="1.78" fill="#8c564b"/>
<circle cx="166.5" cy="114.8" r="1.78" fill="#8c564b"/>
<circle cx="169.4" cy="117.5" r="1.78" fill="#8c564b"/>
<circle cx="167.2" cy="119.0" r="1.78" fill="#8c564b"/>
<circle cx="163.9" cy="121.1" r="1.78" fill="#8c564b"/>
<circle cx="167.2" cy="121.5" r="1.78" fill="#8c564b"/>
<circle cx="161.2" cy="126.7" r="1.78" fill="#8c564b"/>
<circle cx="162.7" cy="129.0" r="1.78" fill="#8c564b"/>
<circle cx="157.5" cy="130.0" r="1.78" fill="#8c564b"/>
<circle cx="161.2" cy="131.2" r="1.78" fill="#8c564b"/>
<circle cx="160.5" cy="133.4" r="1.78" fill="#8c564b"/>
<circle cx="172.4" cy="127.9" r="1.78" fill="#8c564b"/>
<circle cx="174.6" cy="129.4" r="1.78" fill="#1f77b4"/>
<circle cx="174.6" cy="137.2" r="1.78" fill="#8c564b"/>
<circle cx="170.9" cy="138.4" r="1.78" fill="#8c564b"/>
<circle cx="169.9" cy="140.1" r="1.78" fill="#8c564b"/>
<circle cx="167.5" cy="142.8" r="1.78" fill="#8c564b"/>
<circle cx="176.9" cy="142.4" r="1.78" fill="#8c564b"/>
<circle cx="174.9" cy="143.9" r="1.78" fill="#8c564b"/>
<circle cx="179.9" cy="146.8" r="1.78" fill="#8c564b"/>
<circle cx="179.1" cy="149.4" r="1.78" fill="#8c564b"/>
<circle cx="168.7" cy="149.4" r="1.78" fill="#8c564b"/>
<circle cx="170.2" cy="151.3" r="1.78" fill="#8c564b"/>
<circle cx="173.2" cy="151.3" r="1.78" fill="#8c564b"/>
<circle cx="166.5" cy="153.2" r="1.78" fill="#8c564b"/>
<circle cx="169.4" cy="154.7" r="1.78" fill="#8c564b"/>
<circle cx="178.4" cy="153.5" r="1.78" fill="#8c564b"/>
<circle cx="179.9" cy="153.5" r="1.78" fill="#1f77b4"/>
<circle cx="174.4" cy="161.0" r="1.78" fill="#8c564b"/>
<circle cx="176.9" cy="104.4" r="1.78" fill="#ff7f0e"/>
<circle cx="182.1" cy="101.4" r="1.78" fill="#ff7f0e"/>
<circle cx="185.1" cy="101.7" r="1.78" fill="#ff7f0e"/>
<circle cx="185.8" cy="104.4" r="1.78" fill="#ff7f0e"/>
<circle cx="184.3" cy="105.9" r="1.78" fill="#ff7f0e"/>
<circle cx="181.4" cy="106.2" r="1.78" fill="#ff7f0e"/>
<circle cx="182.1" cy="108.9" r="1.78" fill="#ff7f0e"/>
<circle cx="184.3" cy="108.9" r="1.78" fill="#ff7f0e"/>
<circle cx="186.6" cy="110.4" r="1.78" fill="#ff7f0e"/>
<circle cx="188.8" cy="107.4" r="1.78" fill="#ff7f0e"/>
<circle cx="192.5" cy="102.2" r="1.78" fill="#ff7f0e"/>
<circle cx="192.5" cy="105.1" r="1.78" fill="#ff7f0e"/>
<circle cx="191.8" cy="107.4" r="1.78" fill="#ff7f0e"/>
<circle cx="195.2" cy="109.6" r="1.78" fill="#ff7f0e"/>
<circle cx="198.2" cy="107.4" r="1.78" fill="#ff7f0e"/>
<circle cx="200.0" cy="111.8" r="1.78" fill="#ff7f0e"/>
<circle cx="204.4" cy="111.1" r="1.78" fill="#ff7f0e"/>
<circle cx="200.0" cy="100.7" r="1.78" fill="#ff7f0e"/>
<circle cx="200.0" cy="105.1" r="1.78" fill="#ff7f0e"/>
<circle cx="176.1" cy="101.1" r="1.78" fill="#1f77b4"/>
<circle cx="181.4" cy="111.8" r="1.78" fill="#1f77b4"/>
<circle cx="180.3" cy="114.1" r="1.78" fill="#1f77b4"/>
<circle cx="187.3" cy="99.6" r="1.78" fill="#1f77b4"/>
<circle cx="191.0" cy="110.1" r="1.78" fill="#1f77b4"/>
<circle cx="190.0" cy="114.1" r="1.78" fill="#1f77b4"/>
<circle cx="192.5" cy="117.1" r="1.78" fill="#1f77b4"/>
<circle cx="197.0" cy="116.3" r="1.78" fill="#1f77b4"/>
<circle cx="201.5" cy="117.5" r="1.78" fill="#1f77b4"/>
<circle cx="208.2" cy="110.1" r="1.78" fill="#1f77b4"/>
<circle cx="209.6" cy="112.6" r="1.78" fill="#1f77b4"/>
<circle cx="210.4" cy="114.1" r="1.78" fill="#1f77b4"/>
<circle cx="205.2" cy="102.6" r="1.78" fill="#1f77b4"/>
<circle cx="207.4" cy="99.9" r="1.78" fill="#1f77b4"/>
<circle cx="209.6" cy="102.9" r="1.78" fill="#1f77b4"/>
<circle cx="211.9" cy="102.6" r="1.78" fill="#1f77b4"/>
<circle cx="213.4" cy="97.0" r="1.78" fill="#1f77b4"/>
<circle cx="214.9" cy="105.6" r="1.78" fill="#1f77b4"/>
<circle cx="214.1" cy="100.2" r="1.78" fill="#1f77b4"/>
<circle cx="217.8" cy="101.4" r="1.78" fill="#1f77b4"/>
<circle cx="211.9" cy="92.5" r="1.78" fill="#1f77b4"/>
<circle cx="218.1" cy="92.8" r="1.78" fill="#1f77b4"/>
<circle cx="202.6" cy="92.5" r="1.78" fill="#1f77b4"/>
<circle cx="186.6" cy="92.5" r="1.78" fill="#1f77b4"/>
<circle cx="186.6" cy="117.1" r="1.78" fill="#ff7f0e"/>
<circle cx="182.8" cy="118.5" r="1.78" fill="#ff7f0e"/>
<circle cx="179.9" cy="122.3" r="1.78" fill="#ff7f0e"/>
<circle cx="185.5" cy="120.8" r="1.78" fill="#ff7f0e"/>
<circle cx="181.4" cy="126.0" r="1.78" fill="#ff7f0e"/>
<circle cx="189.5" cy="120.5" r="1.78" fill="#ff7f0e"/>
<circle cx="196.2" cy="114.8" r="1.78" fill="#ff7f0e"/>
<circle cx="195.5" cy="119.3" r="1.78" fill="#ff7f0e"/>
<circle cx="192.5" cy="123.0" r="1.78" fill="#ff7f0e"/>
<circle cx="196.2" cy="123.0" r="1.78" fill="#ff7f0e"/>
<circle cx="210.4" cy="121.5" r="1.78" fill="#ff7f0e"/>
<circle cx="208.2" cy="123.8" r="1.78" fill="#ff7f0e"/>
<circle cx="197.7" cy="129.0" r="1.78" fill="#ff7f0e"/>
<circle cx="200.7" cy="138.6" r="1.78" fill="#ff7f0e"/>
<circle cx="205.9" cy="133.4" r="1.78" fill="#ff7f0e"/>
<circle cx="185.1" cy="131.9" r="1.78" fill="#ff7f0e"/>
<circle cx="188.1" cy="134.9" r="1.78" fill="#ff7f0e"/>
<circle cx="185.1" cy="137.9" r="1.78" fill="#ff7f0e"/>
<circle cx="190.3" cy="135.7" r="1.78" fill="#ff7f0e"/>
<circle cx="192.5" cy="138.4" r="1.78" fill="#ff7f0e"/>
<circle cx="195.5" cy="140.1" r="1.78" fill="#ff7f0e"/>
<circle cx="187.3" cy="137.9" r="1.78" fill="#ff7f0e"/>
<circle cx="187.3" cy="126.7" r="1.78" fill="#1f77b4"/>
<circle cx="189.5" cy="129.0" r="1.78" fill="#1f77b4"/>
<circle cx="192.5" cy="129.0" r="1.78" fill="#1f77b4"/>
<circle cx="196.2" cy="127.5" r="1.78" fill="#1f77b4"/>
<circle cx="194.8" cy="131.2" r="1.78" fill="#1f77b4"/>
<circle cx="192.5" cy="133.4" r="1.78" fill="#1f77b4"/>
<circle cx="197.0" cy="133.4" r="1.78" fill="#1f77b4"/>
<circle cx="188.8" cy="132.7" r="1.78" fill="#1f77b4"/>
<circle cx="182.8" cy="133.4" r="1.78" fill="#1f77b4"/>
<circle cx="181.4" cy="139.4" r="1.78" fill="#1f77b4"/>
<circle cx="185.1" cy="128.2" r="1.78" fill="#1f77b4"/>
<circle cx="176.1" cy="135.4" r="1.78" fill="#1f77b4"/>
<circle cx="188.5" cy="142.4" r="1.78" fill="#1f77b4"/>
<circle cx="191.0" cy="141.6" r="1.78" fill="#1f77b4"/>
<circle cx="193.3" cy="144.6" r="1.78" fill="#1f77b4"/>
<circle cx="188.1" cy="146.1" r="1.78" fill="#1f77b4"/>
<circle cx="181.4" cy="145.4" r="1.78" fill="#1f77b4"/>
<circle cx="191.0" cy="120.8" r="1.78" fill="#1f77b4"/>
<circle cx="200.0" cy="122.3" r="1.78" fill="#1f77b4"/>
<circle cx="202.9" cy="129.0" r="1.78" fill="#1f77b4"/>
<circle cx="205.9" cy="126.7" r="1.78" fill="#1f77b4"/>
<circle cx="202.9" cy="132.7" r="1.78" fill="#1f77b4"/>
<circle cx="207.4" cy="125.2" r="1.78" fill="#1f77b4"/>
<circle cx="197.0" cy="134.9" r="1.78" fill="#1f77b4"/>
</g>
<rect x="25.50" y="15.00" width="202.50" height="153.50" fill="none" stroke="#626262" stroke-width="1.25"/>
<text x="126.75" y="4.85" font-size="6.3" text-anchor="middle" fill="#000" stroke="#000" stroke-width="0.14" textLength="78.61" lengthAdjust="spacingAndGlyphs">t-SNE of Uncorrected Data</text>
<text x="126.75" y="11.40" font-size="6.3" text-anchor="middle" fill="#000" stroke="#000" stroke-width="0.14" textLength="59.8" lengthAdjust="spacingAndGlyphs">(LC-MS Arabidopsis)</text>
<text x="126.75" y="175.70" font-size="6.3" text-anchor="middle" fill="#000" stroke="#000" stroke-width="0.14" textLength="22.18" lengthAdjust="spacingAndGlyphs">t-SNE 0</text>
<text x="22.00" y="91.75" font-size="6.3" text-anchor="middle" fill="#000" stroke="#000" stroke-width="0.14" textLength="22.18" lengthAdjust="spacingAndGlyphs" transform="rotate(-90 22.00 91.75)">t-SNE 1</text>
<g stroke="#fff" stroke-width="0.3">
<circle cx="401.3" cy="91.7" r="1.78" fill="#1f77b4"/>
<circle cx="398.3" cy="93.9" r="1.78" fill="#1f77b4"/>
<circle cx="398.4" cy="86.2" r="1.78" fill="#1f77b4"/>
<circle cx="400.4" cy="83.6" r="1.78" fill="#1f77b4"/>
<circle cx="394.8" cy="93.6" r="1.78" fill="#1f77b4"/>
<circle cx="392.5" cy="92.3" r="1.78" fill="#1f77b4"/>
<circle cx="393.5" cy="85.9" r="1.78" fill="#1f77b4"/>
<circle cx="406.1" cy="86.7" r="1.78" fill="#1f77b4"/>
<circle cx="396.4" cy="85.3" r="1.78" fill="#1f77b4"/>
<circle cx="390.7" cy="86.8" r="1.78" fill="#1f77b4"/>
<circle cx="405.1" cy="88.8" r="1.78" fill="#1f77b4"/>
<circle cx="398.6" cy="91.3" r="1.78" fill="#1f77b4"/>
<circle cx="403.7" cy="92.8" r="1.78" fill="#1f77b4"/>
<circle cx="396.2" cy="89.3" r="1.78" fill="#1f77b4"/>
<circle cx="401.1" cy="93.6" r="1.78" fill="#1f77b4"/>
<circle cx="407.1" cy="89.5" r="1.78" fill="#1f77b4"/>
<circle cx="398.2" cy="88.1" r="1.78" fill="#1f77b4"/>
<circle cx="404.5" cy="84.7" r="1.78" fill="#1f77b4"/>
<circle cx="396.4" cy="92.1" r="1.78" fill="#1f77b4"/>
<circle cx="402.9" cy="86.6" r="1.78" fill="#1f77b4"/>
<circle cx="401.8" cy="89.9" r="1.78" fill="#1f77b4"/>
<circle cx="405.0" cy="90.6" r="1.78" fill="#1f77b4"/>
<circle cx="394.8" cy="88.0" r="1.78" fill="#1f77b4"/>
<circle cx="390.2" cy="90.2" r="1.78" fill="#1f77b4"/>
<circle cx="401.1" cy="87.4" r="1.78" fill="#1f77b4"/>
<circle cx="392.2" cy="90.4" r="1.78" fill="#1f77b4"/>
<circle cx="440.0" cy="87.7" r="1.78" fill="#aec7e8"/>
<circle cx="440.1" cy="94.0" r="1.78" fill="#aec7e8"/>
<circle cx="443.5" cy="85.6" r="1.78" fill="#aec7e8"/>
<circle cx="441.9" cy="87.5" r="1.78" fill="#aec7e8"/>
<circle cx="449.7" cy="88.4" r="1.78" fill="#aec7e8"/>
<circle cx="441.6" cy="84.0" r="1.78" fill="#aec7e8"/>
<circle cx="446.5" cy="92.4" r="1.78" fill="#aec7e8"/>
<circle cx="437.9" cy="85.7" r="1.78" fill="#aec7e8"/>
<circle cx="443.7" cy="88.2" r="1.78" fill="#aec7e8"/>
<circle cx="443.7" cy="91.4" r="1.78" fill="#aec7e8"/>
<circle cx="446.2" cy="86.1" r="1.78" fill="#aec7e8"/>
<circle cx="439.8" cy="91.4" r="1.78" fill="#aec7e8"/>
<circle cx="440.8" cy="89.4" r="1.78" fill="#aec7e8"/>
<circle cx="447.4" cy="90.8" r="1.78" fill="#aec7e8"/>
<circle cx="436.5" cy="89.5" r="1.78" fill="#aec7e8"/>
<circle cx="436.2" cy="86.0" r="1.78" fill="#aec7e8"/>
<circle cx="444.0" cy="83.0" r="1.78" fill="#aec7e8"/>
<circle cx="439.0" cy="89.7" r="1.78" fill="#aec7e8"/>
<circle cx="434.9" cy="90.9" r="1.78" fill="#aec7e8"/>
<circle cx="446.0" cy="88.7" r="1.78" fill="#aec7e8"/>
<circle cx="449.2" cy="90.7" r="1.78" fill="#aec7e8"/>
<circle cx="436.2" cy="92.5" r="1.78" fill="#aec7e8"/>
<circle cx="271.5" cy="106.7" r="1.78" fill="#c49c94"/>
<circle cx="268.7" cy="108.6" r="1.78" fill="#8c564b"/>
<circle cx="268.2" cy="112.2" r="1.78" fill="#8c564b"/>
<circle cx="267.8" cy="107.1" r="1.78" fill="#8c564b"/>
<circle cx="265.0" cy="103.4" r="1.78" fill="#8c564b"/>
<circle cx="266.4" cy="104.3" r="1.78" fill="#8c564b"/>
<circle cx="270.4" cy="109.6" r="1.78" fill="#8c564b"/>
<circle cx="270.2" cy="105.0" r="1.78" fill="#8c564b"/>
<circle cx="270.8" cy="103.5" r="1.78" fill="#8c564b"/>
<circle cx="274.1" cy="107.0" r="1.78" fill="#c5b0d5"/>
<circle cx="276.4" cy="106.1" r="1.78" fill="#c5b0d5"/>
<circle cx="275.8" cy="110.3" r="1.78" fill="#c5b0d5"/>
<circle cx="274.8" cy="105.4" r="1.78" fill="#c5b0d5"/>
<circle cx="281.0" cy="109.5" r="1.78" fill="#c5b0d5"/>
<circle cx="361.9" cy="21.3" r="1.78" fill="#9467bd"/>
<circle cx="364.5" cy="20.9" r="1.78" fill="#9467bd"/>
<circle cx="360.4" cy="22.4" r="1.78" fill="#9467bd"/>
<circle cx="363.4" cy="23.5" r="1.78" fill="#9467bd"/>
<circle cx="365.9" cy="23.1" r="1.78" fill="#9467bd"/>
<circle cx="369.2" cy="23.5" r="1.78" fill="#9467bd"/>
<circle cx="359.0" cy="26.0" r="1.78" fill="#9467bd"/>
<circle cx="364.1" cy="26.4" r="1.78" fill="#9467bd"/>
<circle cx="366.6" cy="25.7" r="1.78" fill="#9467bd"/>
<circle cx="370.3" cy="27.1" r="1.78" fill="#9467bd"/>
<circle cx="361.2" cy="29.0" r="1.78" fill="#9467bd"/>
<circle cx="363.4" cy="30.4" r="1.78" fill="#9467bd"/>
<circle cx="365.9" cy="30.4" r="1.78" fill="#9467bd"/>
<circle cx="367.7" cy="29.0" r="1.78" fill="#9467bd"/>
<circle cx="357.9" cy="28.2" r="1.78" fill="#9467bd"/>
<circle cx="354.2" cy="32.2" r="1.78" fill="#9467bd"/>
<circle cx="357.9" cy="33.0" r="1.78" fill="#9467bd"/>
<circle cx="360.4" cy="32.2" r="1.78" fill="#9467bd"/>
<circle cx="352.4" cy="34.8" r="1.78" fill="#9467bd"/>
<circle cx="355.7" cy="35.2" r="1.78" fill="#9467bd"/>
<circle cx="350.9" cy="37.4" r="1.78" fill="#9467bd"/>
<circle cx="354.2" cy="37.4" r="1.78" fill="#9467bd"/>
<circle cx="357.5" cy="37.4" r="1.78" fill="#9467bd"/>
<circle cx="361.2" cy="35.9" r="1.78" fill="#9467bd"/>
<circle cx="364.5" cy="35.9" r="1.78" fill="#9467bd"/>
<circle cx="367.0" cy="38.1" r="1.78" fill="#9467bd"/>
<circle cx="370.7" cy="33.7" r="1.78" fill="#9467bd"/>
<circle cx="369.2" cy="36.6" r="1.78" fill="#9467bd"/>
<circle cx="354.6" cy="39.5" r="1.78" fill="#9467bd"/>
<circle cx="357.5" cy="39.9" r="1.78" fill="#9467bd"/>
<circle cx="361.2" cy="38.8" r="1.78" fill="#9467bd"/>
<circle cx="364.1" cy="39.5" r="1.78" fill="#9467bd"/>
<circle cx="366.3" cy="41.4" r="1.78" fill="#9467bd"/>
<circle cx="368.1" cy="40.6" r="1.78" fill="#9467bd"/>
<circle cx="361.9" cy="43.6" r="1.78" fill="#9467bd"/>
<circle cx="356.8" cy="41.4" r="1.78" fill="#9467bd"/>
<circle cx="359.0" cy="35.2" r="1.78" fill="#9467bd"/>
<circle cx="362.6" cy="33.7" r="1.78" fill="#9467bd"/>
<circle cx="365.5" cy="33.7" r="1.78" fill="#9467bd"/>
<circle cx="361.9" cy="24.9" r="1.78" fill="#9467bd"/>
<circle cx="368.1" cy="26.0" r="1.78" fill="#9467bd"/>
<circle cx="308.0" cy="51.4" r="1.78" fill="#f7b6d2"/>
<circle cx="310.2" cy="53.1" r="1.78" fill="#e377c2"/>
<circle cx="307.2" cy="53.6" r="1.78" fill="#e377c2"/>
<circle cx="309.8" cy="55.3" r="1.78" fill="#e377c2"/>
<circle cx="305.4" cy="55.3" r="1.78" fill="#e377c2"/>
<circle cx="302.9" cy="54.9" r="1.78" fill="#c49c94"/>
<circle cx="303.5" cy="57.9" r="1.78" fill="#7f7f7f"/>
<circle cx="307.2" cy="56.6" r="1.78" fill="#e377c2"/>
<circle cx="315.0" cy="56.2" r="1.78" fill="#e377c2"/>
<circle cx="311.5" cy="60.1" r="1.78" fill="#7f7f7f"/>
<circle cx="306.3" cy="61.9" r="1.78" fill="#7f7f7f"/>
<circle cx="315.5" cy="62.1" r="1.78" fill="#7f7f7f"/>
<circle cx="303.6" cy="61.0" r="1.78" fill="#f7b6d2"/>
<circle cx="309.8" cy="62.8" r="1.78" fill="#c49c94"/>
<circle cx="301.5" cy="64.1" r="1.78" fill="#c49c94"/>
<circle cx="317.2" cy="63.2" r="1.78" fill="#f7b6d2"/>
<circle cx="319.4" cy="64.5" r="1.78" fill="#f7b6d2"/>
<circle cx="316.4" cy="66.3" r="1.78" fill="#c49c94"/>
<circle cx="304.5" cy="65.8" r="1.78" fill="#f7b6d2"/>
<circle cx="311.1" cy="67.1" r="1.78" fill="#f7b6d2"/>
<circle cx="308.0" cy="68.5" r="1.78" fill="#f7b6d2"/>
<circle cx="302.3" cy="69.8" r="1.78" fill="#c49c94"/>
<circle cx="305.4" cy="69.8" r="1.78" fill="#f7b6d2"/>
<circle cx="310.2" cy="70.2" r="1.78" fill="#f7b6d2"/>
<circle cx="303.2" cy="72.8" r="1.78" fill="#e377c2"/>
<circle cx="312.4" cy="72.4" r="1.78" fill="#e377c2"/>
<circle cx="308.9" cy="72.0" r="1.78" fill="#f7b6d2"/>
<circle cx="304.5" cy="75.0" r="1.78" fill="#7f7f7f"/>
<circle cx="307.2" cy="74.6" r="1.78" fill="#7f7f7f"/>
<circle cx="308.9" cy="76.3" r="1.78" fill="#7f7f7f"/>
<circle cx="306.3" cy="77.2" r="1.78" fill="#7f7f7f"/>
<circle cx="311.1" cy="77.7" r="1.78" fill="#7f7f7f"/>
<circle cx="312.8" cy="79.4" r="1.78" fill="#7f7f7f"/>
<circle cx="314.6" cy="78.5" r="1.78" fill="#7f7f7f"/>
<circle cx="305.4" cy="81.6" r="1.78" fill="#7f7f7f"/>
<circle cx="310.2" cy="81.6" r="1.78" fill="#7f7f7f"/>
<circle cx="315.9" cy="82.0" r="1.78" fill="#7f7f7f"/>
<circle cx="318.5" cy="78.1" r="1.78" fill="#7f7f7f"/>
<circle cx="320.7" cy="80.3" r="1.78" fill="#7f7f7f"/>
<circle cx="319.4" cy="83.8" r="1.78" fill="#7f7f7f"/>
<circle cx="322.0" cy="82.0" r="1.78" fill="#7f7f7f"/>
<circle cx="324.7" cy="82.9" r="1.78" fill="#7f7f7f"/>
<circle cx="326.4" cy="80.3" r="1.78" fill="#7f7f7f"/>
<circle cx="327.7" cy="83.8" r="1.78" fill="#7f7f7f"/>
<circle cx="329.5" cy="77.7" r="1.78" fill="#7f7f7f"/>
<circle cx="320.7" cy="75.0" r="1.78" fill="#c49c94"/>
<circle cx="322.9" cy="74.6" r="1.78" fill="#c49c94"/>
<circle cx="325.5" cy="73.7" r="1.78" fill="#c49c94"/>
<circle cx="328.2" cy="73.3" r="1.78" fill="#e377c2"/>
<circle cx="332.1" cy="75.9" r="1.78" fill="#e377c2"/>
<circle cx="330.4" cy="82.0" r="1.78" fill="#e377c2"/>
<circle cx="306.3" cy="85.1" r="1.78" fill="#8c564b"/>
<circle cx="308.5" cy="84.7" r="1.78" fill="#8c564b"/>
<circle cx="310.7" cy="84.2" r="1.78" fill="#8c564b"/>
<circle cx="312.4" cy="85.1" r="1.78" fill="#8c564b"/>
<circle cx="307.6" cy="87.7" r="1.78" fill="#c5b0d5"/>
<circle cx="326.4" cy="89.0" r="1.78" fill="#7f7f7f"/>
<circle cx="323.8" cy="90.8" r="1.78" fill="#e377c2"/>
<circle cx="312.0" cy="90.8" r="1.78" fill="#8c564b"/>
<circle cx="290.9" cy="73.3" r="1.78" fill="#c49c94"/>
<circle cx="286.1" cy="78.1" r="1.78" fill="#8c564b"/>
<circle cx="284.8" cy="80.3" r="1.78" fill="#8c564b"/>
<circle cx="290.1" cy="78.5" r="1.78" fill="#c49c94"/>
<circle cx="293.6" cy="78.5" r="1.78" fill="#7f7f7f"/>
<circle cx="297.5" cy="77.7" r="1.78" fill="#7f7f7f"/>
<circle cx="291.4" cy="81.6" r="1.78" fill="#7f7f7f"/>
<circle cx="295.8" cy="82.0" r="1.78" fill="#7f7f7f"/>
<circle cx="284.8" cy="85.5" r="1.78" fill="#7f7f7f"/>
<circle cx="288.8" cy="84.2" r="1.78" fill="#7f7f7f"/>
<circle cx="292.3" cy="85.1" r="1.78" fill="#7f7f7f"/>
<circle cx="287.9" cy="88.2" r="1.78" fill="#7f7f7f"/>
<circle cx="286.6" cy="86.9" r="1.78" fill="#7f7f7f"/>
<circle cx="298.4" cy="80.3" r="1.78" fill="#e377c2"/>
<circle cx="298.4" cy="85.1" r="1.78" fill="#f7b6d2"/>
<circle cx="299.7" cy="87.3" r="1.78" fill="#f7b6d2"/>
<circle cx="297.5" cy="89.0" r="1.78" fill="#f7b6d2"/>
<circle cx="302.8" cy="91.2" r="1.78" fill="#e377c2"/>
<circle cx="284.9" cy="86.2" r="1.78" fill="#7f7f7f"/>
<circle cx="287.8" cy="87.3" r="1.78" fill="#7f7f7f"/>
<circle cx="288.1" cy="89.1" r="1.78" fill="#7f7f7f"/>
<circle cx="291.9" cy="85.6" r="1.78" fill="#7f7f7f"/>
<circle cx="298.3" cy="86.2" r="1.78" fill="#f7b6d2"/>
<circle cx="297.7" cy="89.7" r="1.78" fill="#f7b6d2"/>
<circle cx="300.6" cy="89.7" r="1.78" fill="#f7b6d2"/>
<circle cx="303.0" cy="92.0" r="1.78" fill="#e377c2"/>
<circle cx="284.9" cy="93.2" r="1.78" fill="#c5b0d5"/>
<circle cx="286.6" cy="94.9" r="1.78" fill="#c5b0d5"/>
<circle cx="286.6" cy="97.3" r="1.78" fill="#c5b0d5"/>
<circle cx="291.9" cy="93.2" r="1.78" fill="#8c564b"/>
<circle cx="290.1" cy="96.1" r="1.78" fill="#8c564b"/>
<circle cx="294.2" cy="93.8" r="1.78" fill="#c49c94"/>
<circle cx="298.3" cy="93.8" r="1.78" fill="#7f7f7f"/>
<circle cx="301.8" cy="93.2" r="1.78" fill="#7f7f7f"/>
<circle cx="296.5" cy="96.1" r="1.78" fill="#7f7f7f"/>
<circle cx="298.9" cy="96.7" r="1.78" fill="#7f7f7f"/>
<circle cx="294.2" cy="98.4" r="1.78" fill="#7f7f7f"/>
<circle cx="296.0" cy="99.0" r="1.78" fill="#7f7f7f"/>
<circle cx="293.0" cy="98.4" r="1.78" fill="#8c564b"/>
<circle cx="295.4" cy="95.5" r="1.78" fill="#c49c94"/>
<circle cx="308.2" cy="93.2" r="1.78" fill="#c5b0d5"/>
<circle cx="311.7" cy="90.8" r="1.78" fill="#8c564b"/>
<circle cx="312.3" cy="93.8" r="1.78" fill="#8c564b"/>
<circle cx="309.4" cy="96.1" r="1.78" fill="#7f7f7f"/>
<circle cx="315.2" cy="92.0" r="1.78" fill="#c49c94"/>
<circle cx="318.7" cy="92.0" r="1.78" fill="#8c564b"/>
<circle cx="321.1" cy="93.8" r="1.78" fill="#c49c94"/>
<circle cx="324.0" cy="91.4" r="1.78" fill="#e377c2"/>
<circle cx="327.5" cy="92.6" r="1.78" fill="#e377c2"/>
<circle cx="326.7" cy="89.7" r="1.78" fill="#7f7f7f"/>
<circle cx="314.6" cy="96.7" r="1.78" fill="#7f7f7f"/>
<circle cx="317.6" cy="96.7" r="1.78" fill="#8c564b"/>
<circle cx="315.2" cy="100.2" r="1.78" fill="#c49c94"/>
<circle cx="318.7" cy="99.6" r="1.78" fill="#8c564b"/>
<circle cx="322.8" cy="97.8" r="1.78" fill="#7f7f7f"/>
<circle cx="324.6" cy="96.7" r="1.78" fill="#7f7f7f"/>
<circle cx="325.2" cy="100.2" r="1.78" fill="#7f7f7f"/>
<circle cx="322.2" cy="101.4" r="1.78" fill="#7f7f7f"/>
<circle cx="323.4" cy="102.5" r="1.78" fill="#7f7f7f"/>
<circle cx="318.7" cy="104.9" r="1.78" fill="#e377c2"/>
<circle cx="321.1" cy="104.3" r="1.78" fill="#e377c2"/>
<circle cx="317.0" cy="101.9" r="1.78" fill="#c49c94"/>
<circle cx="312.9" cy="87.3" r="1.78" fill="#8c564b"/>
<circle cx="310.6" cy="85.6" r="1.78" fill="#8c564b"/>
<circle cx="318.7" cy="86.2" r="1.78" fill="#7f7f7f"/>
<circle cx="266.2" cy="103.7" r="1.78" fill="#8c564b"/>
<circle cx="269.1" cy="103.1" r="1.78" fill="#8c564b"/>
<circle cx="270.3" cy="105.4" r="1.78" fill="#8c564b"/>
<circle cx="265.0" cy="106.0" r="1.78" fill="#8c564b"/>
<circle cx="267.9" cy="107.2" r="1.78" fill="#c49c94"/>
<circle cx="271.4" cy="108.9" r="1.78" fill="#8c564b"/>
<circle cx="266.8" cy="111.9" r="1.78" fill="#8c564b"/>
<circle cx="269.7" cy="112.4" r="1.78" fill="#8c564b"/>
<circle cx="278.4" cy="103.1" r="1.78" fill="#8c564b"/>
<circle cx="275.5" cy="103.7" r="1.78" fill="#c5b0d5"/>
<circle cx="274.4" cy="106.6" r="1.78" fill="#c5b0d5"/>
<circle cx="276.7" cy="107.8" r="1.78" fill="#c5b0d5"/>
<circle cx="279.6" cy="106.6" r="1.78" fill="#c5b0d5"/>
<circle cx="278.4" cy="110.1" r="1.78" fill="#c5b0d5"/>
<circle cx="275.5" cy="111.3" r="1.78" fill="#c5b0d5"/>
<circle cx="280.2" cy="110.7" r="1.78" fill="#c5b0d5"/>
<circle cx="269.7" cy="115.4" r="1.78" fill="#c5b0d5"/>
<circle cx="267.9" cy="114.8" r="1.78" fill="#c5b0d5"/>
<circle cx="277.3" cy="115.1" r="1.78" fill="#8c564b"/>
<circle cx="280.8" cy="115.1" r="1.78" fill="#8c564b"/>
<circle cx="272.6" cy="109.5" r="1.78" fill="#c49c94"/>
<circle cx="298.9" cy="111.3" r="1.78" fill="#8c564b"/>
<circle cx="298.3" cy="114.8" r="1.78" fill="#8c564b"/>
<circle cx="300.0" cy="113.0" r="1.78" fill="#c49c94"/>
<circle cx="302.1" cy="110.1" r="1.78" fill="#7f7f7f"/>
<circle cx="307.1" cy="110.7" r="1.78" fill="#7f7f7f"/>
<circle cx="301.2" cy="115.4" r="1.78" fill="#7f7f7f"/>
<circle cx="304.1" cy="115.4" r="1.78" fill="#7f7f7f"/>
<circle cx="305.3" cy="117.7" r="1.78" fill="#7f7f7f"/>
<circle cx="307.6" cy="120.0" r="1.78" fill="#7f7f7f"/>
<circle cx="309.4" cy="119.5" r="1.78" fill="#7f7f7f"/>
<circle cx="312.3" cy="121.8" r="1.78" fill="#7f7f7f"/>
<circle cx="304.1" cy="120.0" r="1.78" fill="#e377c2"/>
<circle cx="302.4" cy="118.3" r="1.78" fill="#f7b6d2"/>
<circle cx="365.9" cy="118.7" r="1.78" fill="#ff9896"/>
<circle cx="368.8" cy="118.1" r="1.78" fill="#ff9896"/>
<circle cx="370.8" cy="117.9" r="1.78" fill="#ff9896"/>
<circle cx="371.4" cy="119.5" r="1.78" fill="#ff9896"/>
<circle cx="365.1" cy="121.1" r="1.78" fill="#ff9896"/>
<circle cx="362.3" cy="123.4" r="1.78" fill="#ff9896"/>
<circle cx="369.6" cy="123.2" r="1.78" fill="#ff9896"/>
<circle cx="374.5" cy="121.5" r="1.78" fill="#ff9896"/>
<circle cx="377.0" cy="122.4" r="1.78" fill="#ff9896"/>
<circle cx="379.4" cy="119.9" r="1.78" fill="#ff9896"/>
<circle cx="374.1" cy="124.4" r="1.78" fill="#ff9896"/>
<circle cx="375.3" cy="125.6" r="1.78" fill="#ff9896"/>
<circle cx="364.7" cy="128.1" r="1.78" fill="#ff9896"/>
<circle cx="362.3" cy="130.5" r="1.78" fill="#ff9896"/>
<circle cx="361.0" cy="132.6" r="1.78" fill="#ff9896"/>
<circle cx="368.0" cy="130.5" r="1.78" fill="#ff9896"/>
<circle cx="370.0" cy="128.9" r="1.78" fill="#ff9896"/>
<circle cx="371.9" cy="127.7" r="1.78" fill="#ff9896"/>
<circle cx="366.4" cy="129.7" r="1.78" fill="#ff9896"/>
<circle cx="384.3" cy="114.6" r="1.78" fill="#ff7f0e"/>
<circle cx="383.9" cy="117.4" r="1.78" fill="#d62728"/>
<circle cx="386.0" cy="118.3" r="1.78" fill="#98df8a"/>
<circle cx="383.9" cy="122.8" r="1.78" fill="#2ca02c"/>
<circle cx="386.8" cy="122.4" r="1.78" fill="#2ca02c"/>
<circle cx="383.1" cy="120.7" r="1.78" fill="#98df8a"/>
<circle cx="385.2" cy="125.6" r="1.78" fill="#2ca02c"/>
<circle cx="384.3" cy="128.1" r="1.78" fill="#2ca02c"/>
<circle cx="388.0" cy="123.6" r="1.78" fill="#98df8a"/>
<circle cx="390.1" cy="120.7" r="1.78" fill="#2ca02c"/>
<circle cx="390.5" cy="118.3" r="1.78" fill="#2ca02c"/>
<circle cx="389.6" cy="114.6" r="1.78" fill="#98df8a"/>
<circle cx="391.7" cy="112.1" r="1.78" fill="#2ca02c"/>
<circle cx="393.7" cy="112.5" r="1.78" fill="#2ca02c"/>
<circle cx="396.2" cy="112.9" r="1.78" fill="#ffbb78"/>
<circle cx="393.3" cy="115.8" r="1.78" fill="#d62728"/>
<circle cx="395.4" cy="115.0" r="1.78" fill="#2ca02c"/>
<circle cx="392.5" cy="119.1" r="1.78" fill="#98df8a"/>
<circle cx="395.0" cy="121.5" r="1.78" fill="#98df8a"/>
<circle cx="399.1" cy="119.1" r="1.78" fill="#2ca02c"/>
<circle cx="398.6" cy="121.9" r="1.78" fill="#2ca02c"/>
<circle cx="400.7" cy="124.4" r="1.78" fill="#2ca02c"/>
<circle cx="397.8" cy="125.6" r="1.78" fill="#d62728"/>
<circle cx="399.9" cy="117.0" r="1.78" fill="#ffbb78"/>
<circle cx="389.2" cy="127.3" r="1.78" fill="#98df8a"/>
<circle cx="391.7" cy="127.9" r="1.78" fill="#98df8a"/>
<circle cx="390.5" cy="130.5" r="1.78" fill="#d62728"/>
<circle cx="392.1" cy="132.2" r="1.78" fill="#d62728"/>
<circle cx="394.1" cy="130.9" r="1.78" fill="#ffbb78"/>
<circle cx="389.6" cy="133.8" r="1.78" fill="#ff9896"/>
<circle cx="378.2" cy="128.1" r="1.78" fill="#2ca02c"/>
<circle cx="377.4" cy="130.9" r="1.78" fill="#98df8a"/>
<circle cx="380.2" cy="130.5" r="1.78" fill="#98df8a"/>
<circle cx="372.9" cy="132.2" r="1.78" fill="#2ca02c"/>
<circle cx="382.7" cy="131.8" r="1.78" fill="#2ca02c"/>
<circle cx="380.7" cy="133.8" r="1.78" fill="#d62728"/>
<circle cx="385.2" cy="133.8" r="1.78" fill="#ff7f0e"/>
<circle cx="370.4" cy="135.0" r="1.78" fill="#98df8a"/>
<circle cx="386.0" cy="129.7" r="1.78" fill="#2ca02c"/>
<circle cx="370.4" cy="134.6" r="1.78" fill="#98df8a"/>
<circle cx="372.9" cy="133.8" r="1.78" fill="#2ca02c"/>
<circle cx="380.7" cy="133.8" r="1.78" fill="#d62728"/>
<circle cx="385.2" cy="133.8" r="1.78" fill="#ff7f0e"/>
<circle cx="390.1" cy="133.8" r="1.78" fill="#ff9896"/>
<circle cx="371.3" cy="137.1" r="1.78" fill="#d62728"/>
<circle cx="375.3" cy="138.3" r="1.78" fill="#2ca02c"/>
<circle cx="378.6" cy="136.3" r="1.78" fill="#d62728"/>
<circle cx="381.5" cy="137.1" r="1.78" fill="#2ca02c"/>
<circle cx="381.1" cy="139.5" r="1.78" fill="#2ca02c"/>
<circle cx="385.2" cy="137.1" r="1.78" fill="#ffbb78"/>
<circle cx="368.4" cy="138.7" r="1.78" fill="#98df8a"/>
<circle cx="368.4" cy="140.8" r="1.78" fill="#98df8a"/>
<circle cx="376.6" cy="141.2" r="1.78" fill="#ff7f0e"/>
<circle cx="372.1" cy="141.6" r="1.78" fill="#ffbb78"/>
<circle cx="381.5" cy="142.0" r="1.78" fill="#ffbb78"/>
<circle cx="383.5" cy="140.8" r="1.78" fill="#ffbb78"/>
<circle cx="358.2" cy="139.5" r="1.78" fill="#2ca02c"/>
<circle cx="359.0" cy="141.6" r="1.78" fill="#2ca02c"/>
<circle cx="363.9" cy="141.6" r="1.78" fill="#2ca02c"/>
<circle cx="360.6" cy="143.2" r="1.78" fill="#98df8a"/>
<circle cx="362.3" cy="143.6" r="1.78" fill="#98df8a"/>
<circle cx="363.9" cy="145.3" r="1.78" fill="#98df8a"/>
<circle cx="368.4" cy="143.2" r="1.78" fill="#ffbb78"/>
<circle cx="371.7" cy="144.4" r="1.78" fill="#98df8a"/>
<circle cx="353.7" cy="144.4" r="1.78" fill="#ff9896"/>
<circle cx="357.4" cy="145.7" r="1.78" fill="#d62728"/>
<circle cx="359.8" cy="147.7" r="1.78" fill="#d62728"/>
<circle cx="361.9" cy="148.1" r="1.78" fill="#d62728"/>
<circle cx="354.1" cy="148.5" r="1.78" fill="#ffbb78"/>
<circle cx="354.9" cy="151.4" r="1.78" fill="#2ca02c"/>
<circle cx="356.9" cy="150.2" r="1.78" fill="#98df8a"/>
<circle cx="359.8" cy="151.4" r="1.78" fill="#d62728"/>
<circle cx="363.1" cy="150.6" r="1.78" fill="#d62728"/>
<circle cx="365.5" cy="149.4" r="1.78" fill="#d62728"/>
<circle cx="367.6" cy="151.4" r="1.78" fill="#d62728"/>
<circle cx="368.0" cy="153.4" r="1.78" fill="#d62728"/>
<circle cx="369.6" cy="154.7" r="1.78" fill="#d62728"/>
<circle cx="367.6" cy="146.9" r="1.78" fill="#98df8a"/>
<circle cx="370.4" cy="147.7" r="1.78" fill="#98df8a"/>
<circle cx="371.3" cy="149.8" r="1.78" fill="#98df8a"/>
<circle cx="374.5" cy="147.7" r="1.78" fill="#98df8a"/>
<circle cx="376.6" cy="148.1" r="1.78" fill="#98df8a"/>
<circle cx="378.2" cy="149.8" r="1.78" fill="#98df8a"/>
<circle cx="378.2" cy="145.7" r="1.78" fill="#2ca02c"/>
<circle cx="373.7" cy="150.6" r="1.78" fill="#2ca02c"/>
<circle cx="374.1" cy="152.6" r="1.78" fill="#2ca02c"/>
<circle cx="372.5" cy="154.7" r="1.78" fill="#2ca02c"/>
<circle cx="381.9" cy="148.1" r="1.78" fill="#ffbb78"/>
<circle cx="381.5" cy="151.0" r="1.78" fill="#2ca02c"/>
<circle cx="378.6" cy="153.0" r="1.78" fill="#d62728"/>
<circle cx="380.7" cy="152.6" r="1.78" fill="#d62728"/>
<circle cx="381.9" cy="154.7" r="1.78" fill="#2ca02c"/>
<circle cx="384.3" cy="153.4" r="1.78" fill="#ffbb78"/>
<circle cx="388.8" cy="154.7" r="1.78" fill="#ff7f0e"/>
<circle cx="386.0" cy="156.7" r="1.78" fill="#ffbb78"/>
<circle cx="363.5" cy="154.7" r="1.78" fill="#ff9896"/>
<circle cx="365.5" cy="156.3" r="1.78" fill="#d62728"/>
<circle cx="356.9" cy="155.1" r="1.78" fill="#ff7f0e"/>
<circle cx="356.9" cy="157.5" r="1.78" fill="#ff7f0e"/>
<circle cx="369.6" cy="157.1" r="1.78" fill="#ffbb78"/>
<circle cx="372.1" cy="157.5" r="1.78" fill="#ffbb78"/>
<circle cx="375.3" cy="156.3" r="1.78" fill="#ff7f0e"/>
<circle cx="378.2" cy="158.3" r="1.78" fill="#d62728"/>
<circle cx="383.1" cy="159.2" r="1.78" fill="#d62728"/>
<circle cx="381.1" cy="160.8" r="1.78" fill="#2ca02c"/>
<circle cx="363.5" cy="160.4" r="1.78" fill="#ff7f0e"/>
<circle cx="367.6" cy="161.2" r="1.78" fill="#2ca02c"/>
<circle cx="370.0" cy="161.6" r="1.78" fill="#2ca02c"/>
<circle cx="372.5" cy="159.6" r="1.78" fill="#ffbb78"/>
<circle cx="379.8" cy="155.9" r="1.78" fill="#ffbb78"/>
<circle cx="392.1" cy="139.5" r="1.78" fill="#2ca02c"/>
<circle cx="391.3" cy="141.6" r="1.78" fill="#2ca02c"/>
<circle cx="386.8" cy="145.3" r="1.78" fill="#98df8a"/>
<circle cx="386.4" cy="148.5" r="1.78" fill="#2ca02c"/>
<circle cx="388.8" cy="148.1" r="1.78" fill="#2ca02c"/>
<circle cx="391.3" cy="144.9" r="1.78" fill="#d62728"/>
<circle cx="393.7" cy="144.9" r="1.78" fill="#d62728"/>
<circle cx="392.5" cy="147.7" r="1.78" fill="#ff9896"/>
<circle cx="392.1" cy="150.6" r="1.78" fill="#ffbb78"/>
</g>
<rect x="255.50" y="15.00" width="202.00" height="153.50" fill="none" stroke="#626262" stroke-width="1.25"/>
<text x="356.50" y="4.85" font-size="6.3" text-anchor="middle" fill="#000" stroke="#000" stroke-width="0.14" textLength="78.61" lengthAdjust="spacingAndGlyphs">t-SNE of Uncorrected Data</text>
<text x="356.50" y="11.40" font-size="6.3" text-anchor="middle" fill="#000" stroke="#000" stroke-width="0.14" textLength="87.98" lengthAdjust="spacingAndGlyphs">(GC-MS Arabidopsis Volatiles)</text>
<text x="356.50" y="175.70" font-size="6.3" text-anchor="middle" fill="#000" stroke="#000" stroke-width="0.14" textLength="22.18" lengthAdjust="spacingAndGlyphs">t-SNE 0</text>
<text x="252.00" y="91.75" font-size="6.3" text-anchor="middle" fill="#000" stroke="#000" stroke-width="0.14" textLength="22.18" lengthAdjust="spacingAndGlyphs" transform="rotate(-90 252.00 91.75)">t-SNE 1</text>
<g stroke="#fff" stroke-width="0.3">
<circle cx="575.4" cy="22.0" r="1.78" fill="#7570b3"/>
<circle cx="585.7" cy="21.4" r="1.78" fill="#7570b3"/>
<circle cx="556.1" cy="27.9" r="1.78" fill="#7570b3"/>
<circle cx="560.5" cy="26.4" r="1.78" fill="#d95f02"/>
<circle cx="564.1" cy="27.3" r="1.78" fill="#d95f02"/>
<circle cx="609.4" cy="30.3" r="1.78" fill="#7570b3"/>
<circle cx="616.8" cy="31.8" r="1.78" fill="#7570b3"/>
<circle cx="622.8" cy="35.3" r="1.78" fill="#1b9e77"/>
<circle cx="626.6" cy="35.3" r="1.78" fill="#1b9e77"/>
<circle cx="631.1" cy="30.3" r="1.78" fill="#7570b3"/>
<circle cx="525.9" cy="39.2" r="1.78" fill="#7570b3"/>
<circle cx="527.3" cy="41.3" r="1.78" fill="#7570b3"/>
<circle cx="507.2" cy="46.6" r="1.78" fill="#d95f02"/>
<circle cx="509.6" cy="48.7" r="1.78" fill="#d95f02"/>
<circle cx="514.0" cy="50.5" r="1.78" fill="#e7298a"/>
<circle cx="572.4" cy="36.2" r="1.78" fill="#7570b3"/>
<circle cx="576.2" cy="34.2" r="1.78" fill="#7570b3"/>
<circle cx="579.8" cy="35.3" r="1.78" fill="#7570b3"/>
<circle cx="585.1" cy="33.9" r="1.78" fill="#e7298a"/>
<circle cx="590.2" cy="36.2" r="1.78" fill="#e7298a"/>
<circle cx="593.1" cy="35.6" r="1.78" fill="#e7298a"/>
<circle cx="597.6" cy="34.2" r="1.78" fill="#e7298a"/>
<circle cx="560.5" cy="40.7" r="1.78" fill="#e7298a"/>
<circle cx="562.6" cy="39.8" r="1.78" fill="#e7298a"/>
<circle cx="572.4" cy="41.3" r="1.78" fill="#d95f02"/>
<circle cx="573.9" cy="44.5" r="1.78" fill="#d95f02"/>
<circle cx="576.8" cy="39.2" r="1.78" fill="#7570b3"/>
<circle cx="576.8" cy="43.6" r="1.78" fill="#e7298a"/>
<circle cx="580.7" cy="37.7" r="1.78" fill="#e7298a"/>
<circle cx="584.2" cy="43.0" r="1.78" fill="#e7298a"/>
<circle cx="570.9" cy="40.1" r="1.78" fill="#7570b3"/>
<circle cx="547.2" cy="47.5" r="1.78" fill="#7570b3"/>
<circle cx="557.6" cy="47.5" r="1.78" fill="#d95f02"/>
<circle cx="569.4" cy="47.5" r="1.78" fill="#e7298a"/>
<circle cx="559.1" cy="51.9" r="1.78" fill="#7570b3"/>
<circle cx="566.5" cy="51.9" r="1.78" fill="#7570b3"/>
<circle cx="582.8" cy="49.6" r="1.78" fill="#e7298a"/>
<circle cx="579.8" cy="54.9" r="1.78" fill="#d95f02"/>
<circle cx="573.9" cy="56.4" r="1.78" fill="#7570b3"/>
<circle cx="628.7" cy="45.1" r="1.78" fill="#d95f02"/>
<circle cx="631.7" cy="42.7" r="1.78" fill="#1b9e77"/>
<circle cx="633.1" cy="49.6" r="1.78" fill="#1b9e77"/>
<circle cx="643.5" cy="46.6" r="1.78" fill="#1b9e77"/>
<circle cx="648.0" cy="49.0" r="1.78" fill="#1b9e77"/>
<circle cx="651.8" cy="42.2" r="1.78" fill="#1b9e77"/>
<circle cx="646.5" cy="52.5" r="1.78" fill="#1b9e77"/>
<circle cx="645.0" cy="56.1" r="1.78" fill="#1b9e77"/>
<circle cx="602.0" cy="51.0" r="1.78" fill="#1b9e77"/>
<circle cx="599.1" cy="54.6" r="1.78" fill="#1b9e77"/>
<circle cx="597.6" cy="59.3" r="1.78" fill="#1b9e77"/>
<circle cx="592.2" cy="57.9" r="1.78" fill="#1b9e77"/>
<circle cx="605.9" cy="59.9" r="1.78" fill="#1b9e77"/>
<circle cx="609.4" cy="57.6" r="1.78" fill="#1b9e77"/>
<circle cx="604.1" cy="62.3" r="1.78" fill="#1b9e77"/>
<circle cx="597.6" cy="64.4" r="1.78" fill="#1b9e77"/>
<circle cx="611.8" cy="51.0" r="1.78" fill="#1b9e77"/>
<circle cx="614.8" cy="51.0" r="1.78" fill="#1b9e77"/>
<circle cx="629.6" cy="56.4" r="1.78" fill="#7570b3"/>
<circle cx="631.7" cy="55.5" r="1.78" fill="#d95f02"/>
<circle cx="662.8" cy="54.6" r="1.78" fill="#1b9e77"/>
<circle cx="662.8" cy="59.9" r="1.78" fill="#d95f02"/>
<circle cx="491.5" cy="57.0" r="1.78" fill="#1b9e77"/>
<circle cx="492.4" cy="61.4" r="1.78" fill="#e7298a"/>
<circle cx="494.7" cy="64.4" r="1.78" fill="#e7298a"/>
<circle cx="539.8" cy="59.0" r="1.78" fill="#7570b3"/>
<circle cx="541.3" cy="63.5" r="1.78" fill="#d95f02"/>
<circle cx="549.6" cy="61.4" r="1.78" fill="#7570b3"/>
<circle cx="541.9" cy="70.3" r="1.78" fill="#d95f02"/>
<circle cx="570.3" cy="65.0" r="1.78" fill="#e7298a"/>
<circle cx="570.0" cy="67.9" r="1.78" fill="#d95f02"/>
<circle cx="575.9" cy="66.5" r="1.78" fill="#7570b3"/>
<circle cx="580.7" cy="68.2" r="1.78" fill="#7570b3"/>
<circle cx="591.1" cy="68.2" r="1.78" fill="#7570b3"/>
<circle cx="622.8" cy="65.9" r="1.78" fill="#d95f02"/>
<circle cx="626.6" cy="65.9" r="1.78" fill="#d95f02"/>
<circle cx="637.6" cy="63.5" r="1.78" fill="#d95f02"/>
<circle cx="643.5" cy="64.4" r="1.78" fill="#7570b3"/>
<circle cx="647.1" cy="68.2" r="1.78" fill="#7570b3"/>
<circle cx="631.1" cy="71.8" r="1.78" fill="#7570b3"/>
<circle cx="626.6" cy="74.8" r="1.78" fill="#7570b3"/>
<circle cx="671.1" cy="63.5" r="1.78" fill="#e7298a"/>
<circle cx="672.3" cy="67.9" r="1.78" fill="#e7298a"/>
<circle cx="669.3" cy="73.9" r="1.78" fill="#e7298a"/>
<circle cx="672.3" cy="76.2" r="1.78" fill="#e7298a"/>
<circle cx="675.5" cy="77.7" r="1.78" fill="#e7298a"/>
<circle cx="499.8" cy="70.3" r="1.78" fill="#7570b3"/>
<circle cx="504.2" cy="72.4" r="1.78" fill="#d95f02"/>
<circle cx="508.7" cy="73.3" r="1.78" fill="#d95f02"/>
<circle cx="514.6" cy="72.7" r="1.78" fill="#7570b3"/>
<circle cx="516.1" cy="75.3" r="1.78" fill="#7570b3"/>
<circle cx="519.6" cy="70.3" r="1.78" fill="#7570b3"/>
<circle cx="522.0" cy="68.8" r="1.78" fill="#7570b3"/>
<circle cx="521.4" cy="74.8" r="1.78" fill="#7570b3"/>
<circle cx="530.9" cy="76.2" r="1.78" fill="#7570b3"/>
<circle cx="558.2" cy="69.4" r="1.78" fill="#7570b3"/>
<circle cx="560.5" cy="71.8" r="1.78" fill="#d95f02"/>
<circle cx="563.5" cy="74.8" r="1.78" fill="#d95f02"/>
<circle cx="553.1" cy="77.1" r="1.78" fill="#7570b3"/>
<circle cx="564.4" cy="79.2" r="1.78" fill="#7570b3"/>
<circle cx="567.9" cy="78.6" r="1.78" fill="#7570b3"/>
<circle cx="571.5" cy="78.3" r="1.78" fill="#7570b3"/>
<circle cx="576.8" cy="77.1" r="1.78" fill="#7570b3"/>
<circle cx="579.2" cy="74.8" r="1.78" fill="#7570b3"/>
<circle cx="508.1" cy="82.2" r="1.78" fill="#d95f02"/>
<circle cx="522.0" cy="79.2" r="1.78" fill="#d95f02"/>
<circle cx="525.9" cy="81.6" r="1.78" fill="#d95f02"/>
<circle cx="527.0" cy="85.7" r="1.78" fill="#d95f02"/>
<circle cx="539.8" cy="85.7" r="1.78" fill="#d95f02"/>
<circle cx="539.8" cy="89.6" r="1.78" fill="#7570b3"/>
<circle cx="548.7" cy="88.7" r="1.78" fill="#d95f02"/>
<circle cx="558.5" cy="85.7" r="1.78" fill="#d95f02"/>
<circle cx="561.4" cy="84.2" r="1.78" fill="#d95f02"/>
<circle cx="565.0" cy="89.6" r="1.78" fill="#d95f02"/>
<circle cx="571.5" cy="91.1" r="1.78" fill="#d95f02"/>
<circle cx="579.8" cy="85.7" r="1.78" fill="#e7298a"/>
<circle cx="590.2" cy="83.6" r="1.78" fill="#7570b3"/>
<circle cx="596.1" cy="85.1" r="1.78" fill="#7570b3"/>
<circle cx="589.3" cy="90.5" r="1.78" fill="#7570b3"/>
<circle cx="592.5" cy="89.6" r="1.78" fill="#7570b3"/>
<circle cx="595.5" cy="89.6" r="1.78" fill="#7570b3"/>
<circle cx="588.7" cy="92.5" r="1.78" fill="#d95f02"/>
<circle cx="606.5" cy="85.7" r="1.78" fill="#7570b3"/>
<circle cx="609.4" cy="89.0" r="1.78" fill="#7570b3"/>
<circle cx="616.8" cy="92.5" r="1.78" fill="#7570b3"/>
<circle cx="610.9" cy="97.0" r="1.78" fill="#7570b3"/>
<circle cx="607.1" cy="99.9" r="1.78" fill="#7570b3"/>
<circle cx="615.4" cy="99.1" r="1.78" fill="#d95f02"/>
<circle cx="635.2" cy="86.6" r="1.78" fill="#e7298a"/>
<circle cx="641.1" cy="83.6" r="1.78" fill="#e7298a"/>
<circle cx="656.8" cy="82.2" r="1.78" fill="#e7298a"/>
<circle cx="648.0" cy="78.6" r="1.78" fill="#7570b3"/>
<circle cx="650.3" cy="94.0" r="1.78" fill="#7570b3"/>
<circle cx="654.8" cy="93.1" r="1.78" fill="#7570b3"/>
<circle cx="653.9" cy="101.4" r="1.78" fill="#7570b3"/>
<circle cx="653.9" cy="102.9" r="1.78" fill="#7570b3"/>
<circle cx="637.6" cy="102.0" r="1.78" fill="#7570b3"/>
<circle cx="501.3" cy="96.4" r="1.78" fill="#e7298a"/>
<circle cx="501.9" cy="100.8" r="1.78" fill="#e7298a"/>
<circle cx="517.0" cy="94.6" r="1.78" fill="#d95f02"/>
<circle cx="529.4" cy="92.5" r="1.78" fill="#d95f02"/>
<circle cx="533.9" cy="94.0" r="1.78" fill="#7570b3"/>
<circle cx="541.3" cy="96.4" r="1.78" fill="#d95f02"/>
<circle cx="544.8" cy="97.9" r="1.78" fill="#7570b3"/>
<circle cx="544.8" cy="102.3" r="1.78" fill="#7570b3"/>
<circle cx="550.2" cy="105.0" r="1.78" fill="#d95f02"/>
<circle cx="528.5" cy="101.4" r="1.78" fill="#d95f02"/>
<circle cx="536.8" cy="102.3" r="1.78" fill="#7570b3"/>
<circle cx="536.2" cy="105.9" r="1.78" fill="#7570b3"/>
<circle cx="561.4" cy="100.5" r="1.78" fill="#d95f02"/>
<circle cx="565.0" cy="102.0" r="1.78" fill="#d95f02"/>
<circle cx="567.3" cy="100.5" r="1.78" fill="#d95f02"/>
<circle cx="567.9" cy="102.9" r="1.78" fill="#d95f02"/>
<circle cx="570.9" cy="100.8" r="1.78" fill="#7570b3"/>
<circle cx="576.2" cy="94.0" r="1.78" fill="#7570b3"/>
<circle cx="579.8" cy="105.0" r="1.78" fill="#d95f02"/>
<circle cx="582.2" cy="106.5" r="1.78" fill="#d95f02"/>
<circle cx="588.1" cy="103.5" r="1.78" fill="#7570b3"/>
<circle cx="501.3" cy="111.2" r="1.78" fill="#e7298a"/>
<circle cx="506.3" cy="108.2" r="1.78" fill="#e7298a"/>
<circle cx="509.3" cy="106.5" r="1.78" fill="#e7298a"/>
<circle cx="507.2" cy="111.2" r="1.78" fill="#e7298a"/>
<circle cx="524.4" cy="108.8" r="1.78" fill="#7570b3"/>
<circle cx="529.4" cy="109.4" r="1.78" fill="#e7298a"/>
<circle cx="522.9" cy="111.8" r="1.78" fill="#7570b3"/>
<circle cx="539.8" cy="112.4" r="1.78" fill="#e7298a"/>
<circle cx="541.3" cy="114.8" r="1.78" fill="#e7298a"/>
<circle cx="584.2" cy="113.9" r="1.78" fill="#d95f02"/>
<circle cx="574.8" cy="111.8" r="1.78" fill="#7570b3"/>
<circle cx="572.4" cy="113.9" r="1.78" fill="#d95f02"/>
<circle cx="569.4" cy="117.1" r="1.78" fill="#d95f02"/>
<circle cx="566.5" cy="117.1" r="1.78" fill="#d95f02"/>
<circle cx="557.6" cy="113.9" r="1.78" fill="#7570b3"/>
<circle cx="594.6" cy="110.3" r="1.78" fill="#e7298a"/>
<circle cx="629.6" cy="102.9" r="1.78" fill="#e7298a"/>
<circle cx="629.6" cy="105.0" r="1.78" fill="#e7298a"/>
<circle cx="622.8" cy="110.9" r="1.78" fill="#e7298a"/>
<circle cx="627.2" cy="115.6" r="1.78" fill="#e7298a"/>
<circle cx="615.4" cy="117.7" r="1.78" fill="#e7298a"/>
<circle cx="612.4" cy="122.8" r="1.78" fill="#e7298a"/>
<circle cx="495.3" cy="116.2" r="1.78" fill="#e7298a"/>
<circle cx="501.3" cy="119.2" r="1.78" fill="#e7298a"/>
<circle cx="502.7" cy="123.1" r="1.78" fill="#e7298a"/>
<circle cx="499.8" cy="126.6" r="1.78" fill="#e7298a"/>
<circle cx="517.0" cy="117.1" r="1.78" fill="#e7298a"/>
<circle cx="523.5" cy="119.2" r="1.78" fill="#e7298a"/>
<circle cx="523.5" cy="123.1" r="1.78" fill="#e7298a"/>
<circle cx="521.4" cy="134.6" r="1.78" fill="#e7298a"/>
<circle cx="561.1" cy="121.3" r="1.78" fill="#1b9e77"/>
<circle cx="582.8" cy="118.6" r="1.78" fill="#d95f02"/>
<circle cx="566.5" cy="129.6" r="1.78" fill="#7570b3"/>
<circle cx="557.6" cy="129.6" r="1.78" fill="#d95f02"/>
<circle cx="542.8" cy="128.1" r="1.78" fill="#7570b3"/>
<circle cx="545.7" cy="130.2" r="1.78" fill="#7570b3"/>
<circle cx="548.7" cy="125.1" r="1.78" fill="#7570b3"/>
<circle cx="551.6" cy="124.2" r="1.78" fill="#7570b3"/>
<circle cx="543.6" cy="132.5" r="1.78" fill="#d95f02"/>
<circle cx="535.3" cy="135.5" r="1.78" fill="#7570b3"/>
<circle cx="542.2" cy="137.6" r="1.78" fill="#7570b3"/>
<circle cx="536.8" cy="143.8" r="1.78" fill="#7570b3"/>
<circle cx="535.3" cy="145.0" r="1.78" fill="#7570b3"/>
<circle cx="644.4" cy="120.1" r="1.78" fill="#1b9e77"/>
<circle cx="650.9" cy="123.1" r="1.78" fill="#1b9e77"/>
<circle cx="653.0" cy="123.1" r="1.78" fill="#1b9e77"/>
<circle cx="664.3" cy="131.1" r="1.78" fill="#7570b3"/>
<circle cx="667.2" cy="128.1" r="1.78" fill="#7570b3"/>
<circle cx="668.1" cy="131.1" r="1.78" fill="#7570b3"/>
<circle cx="559.1" cy="139.1" r="1.78" fill="#d95f02"/>
<circle cx="635.5" cy="133.4" r="1.78" fill="#1b9e77"/>
<circle cx="635.5" cy="139.4" r="1.78" fill="#1b9e77"/>
<circle cx="636.1" cy="143.8" r="1.78" fill="#1b9e77"/>
<circle cx="647.1" cy="144.4" r="1.78" fill="#1b9e77"/>
<circle cx="648.5" cy="139.9" r="1.78" fill="#1b9e77"/>
<circle cx="613.9" cy="136.4" r="1.78" fill="#7570b3"/>
<circle cx="616.2" cy="137.0" r="1.78" fill="#7570b3"/>
<circle cx="613.9" cy="142.3" r="1.78" fill="#7570b3"/>
<circle cx="609.4" cy="143.8" r="1.78" fill="#d95f02"/>
<circle cx="614.8" cy="147.4" r="1.78" fill="#7570b3"/>
<circle cx="582.2" cy="141.4" r="1.78" fill="#e7298a"/>
<circle cx="587.2" cy="141.4" r="1.78" fill="#e7298a"/>
<circle cx="579.2" cy="146.8" r="1.78" fill="#e7298a"/>
<circle cx="582.8" cy="147.4" r="1.78" fill="#e7298a"/>
<circle cx="581.3" cy="152.7" r="1.78" fill="#e7298a"/>
<circle cx="587.2" cy="151.2" r="1.78" fill="#e7298a"/>
<circle cx="593.7" cy="146.8" r="1.78" fill="#e7298a"/>
<circle cx="597.6" cy="137.9" r="1.78" fill="#e7298a"/>
<circle cx="602.9" cy="134.0" r="1.78" fill="#e7298a"/>
<circle cx="604.4" cy="140.5" r="1.78" fill="#e7298a"/>
<circle cx="599.9" cy="142.3" r="1.78" fill="#e7298a"/>
<circle cx="600.5" cy="154.2" r="1.78" fill="#e7298a"/>
<circle cx="600.5" cy="147.4" r="1.78" fill="#7570b3"/>
<circle cx="605.9" cy="147.4" r="1.78" fill="#7570b3"/>
<circle cx="630.8" cy="147.4" r="1.78" fill="#7570b3"/>
<circle cx="637.6" cy="145.9" r="1.78" fill="#7570b3"/>
<circle cx="639.1" cy="146.8" r="1.78" fill="#7570b3"/>
<circle cx="584.8" cy="160.7" r="1.78" fill="#1b9e77"/>
</g>
<rect x="482.50" y="15.00" width="201.90" height="153.50" fill="none" stroke="#626262" stroke-width="1.25"/>
<text x="583.45" y="4.85" font-size="6.3" text-anchor="middle" fill="#000" stroke="#000" stroke-width="0.14" textLength="78.61" lengthAdjust="spacingAndGlyphs">t-SNE of Uncorrected Data</text>
<text x="583.45" y="11.40" font-size="6.3" text-anchor="middle" fill="#000" stroke="#000" stroke-width="0.14" textLength="116.76" lengthAdjust="spacingAndGlyphs">(GC-ToF-MS Arabidopsis Polar Metabol.)</text>
<text x="583.45" y="175.70" font-size="6.3" text-anchor="middle" fill="#000" stroke="#000" stroke-width="0.14" textLength="22.18" lengthAdjust="spacingAndGlyphs">t-SNE 0</text>
<text x="479.00" y="91.75" font-size="6.3" text-anchor="middle" fill="#000" stroke="#000" stroke-width="0.14" textLength="22.18" lengthAdjust="spacingAndGlyphs" transform="rotate(-90 479.00 91.75)">t-SNE 1</text>
<g stroke="#fff" stroke-width="0.3">
<circle cx="120.7" cy="210.3" r="1.78" fill="#17becf"/>
<circle cx="126.0" cy="209.4" r="1.78" fill="#bcbd22"/>
<circle cx="102.4" cy="213.6" r="1.78" fill="#ff7f0e"/>
<circle cx="89.3" cy="215.8" r="1.78" fill="#7f7f7f"/>
<circle cx="85.0" cy="217.3" r="1.78" fill="#e377c2"/>
<circle cx="99.9" cy="216.6" r="1.78" fill="#17becf"/>
<circle cx="97.5" cy="220.6" r="1.78" fill="#e377c2"/>
<circle cx="69.4" cy="222.8" r="1.78" fill="#bcbd22"/>
<circle cx="77.9" cy="221.5" r="1.78" fill="#17becf"/>
<circle cx="86.3" cy="223.6" r="1.78" fill="#e377c2"/>
<circle cx="55.1" cy="230.7" r="1.78" fill="#2ca02c"/>
<circle cx="74.6" cy="230.4" r="1.78" fill="#7f7f7f"/>
<circle cx="82.3" cy="228.5" r="1.78" fill="#7f7f7f"/>
<circle cx="85.3" cy="230.0" r="1.78" fill="#bcbd22"/>
<circle cx="88.7" cy="229.0" r="1.78" fill="#e377c2"/>
<circle cx="93.2" cy="225.2" r="1.78" fill="#ff7f0e"/>
<circle cx="96.0" cy="225.5" r="1.78" fill="#8c564b"/>
<circle cx="97.5" cy="225.5" r="1.78" fill="#8c564b"/>
<circle cx="102.0" cy="224.8" r="1.78" fill="#8c564b"/>
<circle cx="103.5" cy="224.3" r="1.78" fill="#d62728"/>
<circle cx="113.3" cy="223.0" r="1.78" fill="#bcbd22"/>
<circle cx="120.3" cy="228.1" r="1.78" fill="#bcbd22"/>
<circle cx="126.7" cy="228.5" r="1.78" fill="#e377c2"/>
<circle cx="106.6" cy="230.4" r="1.78" fill="#7f7f7f"/>
<circle cx="102.4" cy="232.5" r="1.78" fill="#1f77b4"/>
<circle cx="104.7" cy="233.0" r="1.78" fill="#17becf"/>
<circle cx="94.7" cy="231.8" r="1.78" fill="#8c564b"/>
<circle cx="99.0" cy="230.0" r="1.78" fill="#8c564b"/>
<circle cx="109.6" cy="235.7" r="1.78" fill="#2ca02c"/>
<circle cx="104.2" cy="237.0" r="1.78" fill="#d62728"/>
<circle cx="112.9" cy="229.7" r="1.78" fill="#e377c2"/>
<circle cx="113.3" cy="234.0" r="1.78" fill="#8c564b"/>
<circle cx="119.6" cy="234.0" r="1.78" fill="#ff7f0e"/>
<circle cx="123.3" cy="234.9" r="1.78" fill="#17becf"/>
<circle cx="125.1" cy="234.8" r="1.78" fill="#8c564b"/>
<circle cx="120.7" cy="238.2" r="1.78" fill="#17becf"/>
<circle cx="124.8" cy="241.2" r="1.78" fill="#bcbd22"/>
<circle cx="81.3" cy="236.4" r="1.78" fill="#17becf"/>
<circle cx="88.7" cy="236.4" r="1.78" fill="#d62728"/>
<circle cx="92.3" cy="235.9" r="1.78" fill="#e377c2"/>
<circle cx="94.7" cy="237.1" r="1.78" fill="#e377c2"/>
<circle cx="96.9" cy="238.6" r="1.78" fill="#2ca02c"/>
<circle cx="99.2" cy="239.7" r="1.78" fill="#7f7f7f"/>
<circle cx="86.5" cy="239.7" r="1.78" fill="#17becf"/>
<circle cx="54.3" cy="244.1" r="1.78" fill="#e377c2"/>
<circle cx="64.9" cy="242.4" r="1.78" fill="#8c564b"/>
<circle cx="69.4" cy="241.9" r="1.78" fill="#d62728"/>
<circle cx="73.1" cy="241.2" r="1.78" fill="#7f7f7f"/>
<circle cx="63.4" cy="245.6" r="1.78" fill="#7f7f7f"/>
<circle cx="78.3" cy="243.4" r="1.78" fill="#7f7f7f"/>
<circle cx="81.3" cy="246.1" r="1.78" fill="#7f7f7f"/>
<circle cx="91.7" cy="242.6" r="1.78" fill="#7f7f7f"/>
<circle cx="90.1" cy="244.9" r="1.78" fill="#7f7f7f"/>
<circle cx="97.5" cy="246.4" r="1.78" fill="#8c564b"/>
<circle cx="103.2" cy="247.9" r="1.78" fill="#bcbd22"/>
<circle cx="106.9" cy="242.6" r="1.78" fill="#8c564b"/>
<circle cx="114.3" cy="241.5" r="1.78" fill="#8c564b"/>
<circle cx="112.1" cy="240.4" r="1.78" fill="#e377c2"/>
<circle cx="121.0" cy="242.6" r="1.78" fill="#17becf"/>
<circle cx="121.3" cy="244.1" r="1.78" fill="#bcbd22"/>
<circle cx="125.8" cy="246.4" r="1.78" fill="#e377c2"/>
<circle cx="70.7" cy="250.5" r="1.78" fill="#e377c2"/>
<circle cx="76.4" cy="249.8" r="1.78" fill="#17becf"/>
<circle cx="86.3" cy="251.3" r="1.78" fill="#17becf"/>
<circle cx="114.3" cy="249.1" r="1.78" fill="#8c564b"/>
<circle cx="121.5" cy="249.6" r="1.78" fill="#17becf"/>
<circle cx="54.3" cy="254.3" r="1.78" fill="#8c564b"/>
<circle cx="61.9" cy="255.6" r="1.78" fill="#17becf"/>
<circle cx="63.4" cy="254.3" r="1.78" fill="#ff7f0e"/>
<circle cx="79.4" cy="254.3" r="1.78" fill="#2ca02c"/>
<circle cx="77.1" cy="257.2" r="1.78" fill="#bcbd22"/>
<circle cx="99.0" cy="254.3" r="1.78" fill="#7f7f7f"/>
<circle cx="108.8" cy="253.5" r="1.78" fill="#bcbd22"/>
<circle cx="116.3" cy="254.3" r="1.78" fill="#e377c2"/>
<circle cx="124.0" cy="253.4" r="1.78" fill="#9467bd"/>
<circle cx="120.3" cy="257.5" r="1.78" fill="#7f7f7f"/>
<circle cx="108.8" cy="257.5" r="1.78" fill="#bcbd22"/>
<circle cx="105.9" cy="255.6" r="1.78" fill="#17becf"/>
<circle cx="91.7" cy="257.2" r="1.78" fill="#bcbd22"/>
<circle cx="96.9" cy="258.3" r="1.78" fill="#e377c2"/>
<circle cx="100.9" cy="259.5" r="1.78" fill="#bcbd22"/>
<circle cx="84.6" cy="259.5" r="1.78" fill="#9467bd"/>
<circle cx="76.8" cy="259.8" r="1.78" fill="#17becf"/>
<circle cx="39.4" cy="260.5" r="1.78" fill="#2ca02c"/>
<circle cx="39.1" cy="259.5" r="1.78" fill="#ff7f0e"/>
<circle cx="51.1" cy="259.5" r="1.78" fill="#bcbd22"/>
<circle cx="59.2" cy="259.3" r="1.78" fill="#8c564b"/>
<circle cx="61.2" cy="261.0" r="1.78" fill="#8c564b"/>
<circle cx="69.4" cy="260.1" r="1.78" fill="#9467bd"/>
<circle cx="71.9" cy="258.3" r="1.78" fill="#1f77b4"/>
<circle cx="67.9" cy="261.3" r="1.78" fill="#e377c2"/>
<circle cx="43.9" cy="265.0" r="1.78" fill="#bcbd22"/>
<circle cx="56.0" cy="264.7" r="1.78" fill="#7f7f7f"/>
<circle cx="61.5" cy="264.5" r="1.78" fill="#17becf"/>
<circle cx="64.9" cy="265.0" r="1.78" fill="#8c564b"/>
<circle cx="71.2" cy="263.8" r="1.78" fill="#2ca02c"/>
<circle cx="75.6" cy="265.3" r="1.78" fill="#7f7f7f"/>
<circle cx="82.6" cy="264.5" r="1.78" fill="#ff7f0e"/>
<circle cx="89.0" cy="264.7" r="1.78" fill="#17becf"/>
<circle cx="93.8" cy="262.0" r="1.78" fill="#ff7f0e"/>
<circle cx="94.2" cy="265.0" r="1.78" fill="#ff7f0e"/>
<circle cx="97.7" cy="263.8" r="1.78" fill="#17becf"/>
<circle cx="99.9" cy="265.3" r="1.78" fill="#bcbd22"/>
<circle cx="104.4" cy="264.2" r="1.78" fill="#2ca02c"/>
<circle cx="109.4" cy="264.5" r="1.78" fill="#7f7f7f"/>
<circle cx="113.9" cy="260.5" r="1.78" fill="#17becf"/>
<circle cx="122.5" cy="260.5" r="1.78" fill="#ff7f0e"/>
<circle cx="123.6" cy="262.8" r="1.78" fill="#ff7f0e"/>
<circle cx="126.3" cy="260.5" r="1.78" fill="#17becf"/>
<circle cx="37.7" cy="271.4" r="1.78" fill="#2ca02c"/>
<circle cx="41.4" cy="270.5" r="1.78" fill="#ff7f0e"/>
<circle cx="48.4" cy="269.5" r="1.78" fill="#9467bd"/>
<circle cx="57.0" cy="270.2" r="1.78" fill="#7f7f7f"/>
<circle cx="60.0" cy="270.9" r="1.78" fill="#1f77b4"/>
<circle cx="64.5" cy="270.2" r="1.78" fill="#9467bd"/>
<circle cx="67.0" cy="268.0" r="1.78" fill="#e377c2"/>
<circle cx="70.0" cy="268.3" r="1.78" fill="#17becf"/>
<circle cx="73.4" cy="269.2" r="1.78" fill="#2ca02c"/>
<circle cx="80.5" cy="270.5" r="1.78" fill="#e377c2"/>
<circle cx="81.3" cy="268.0" r="1.78" fill="#17becf"/>
<circle cx="93.5" cy="268.0" r="1.78" fill="#2ca02c"/>
<circle cx="98.0" cy="268.7" r="1.78" fill="#17becf"/>
<circle cx="102.4" cy="270.2" r="1.78" fill="#8c564b"/>
<circle cx="109.4" cy="269.0" r="1.78" fill="#17becf"/>
<circle cx="115.8" cy="267.7" r="1.78" fill="#7f7f7f"/>
<circle cx="118.5" cy="269.0" r="1.78" fill="#7f7f7f"/>
<circle cx="89.3" cy="270.9" r="1.78" fill="#8c564b"/>
<circle cx="40.6" cy="273.8" r="1.78" fill="#7f7f7f"/>
<circle cx="45.8" cy="274.7" r="1.78" fill="#17becf"/>
<circle cx="53.3" cy="275.0" r="1.78" fill="#e377c2"/>
<circle cx="35.7" cy="278.3" r="1.78" fill="#bcbd22"/>
<circle cx="39.1" cy="278.0" r="1.78" fill="#8c564b"/>
<circle cx="49.6" cy="279.7" r="1.78" fill="#e377c2"/>
<circle cx="44.4" cy="282.0" r="1.78" fill="#2ca02c"/>
<circle cx="57.0" cy="276.5" r="1.78" fill="#8c564b"/>
<circle cx="63.0" cy="275.0" r="1.78" fill="#ff7f0e"/>
<circle cx="65.2" cy="273.5" r="1.78" fill="#17becf"/>
<circle cx="67.4" cy="277.2" r="1.78" fill="#1f77b4"/>
<circle cx="68.6" cy="276.9" r="1.78" fill="#1f77b4"/>
<circle cx="65.9" cy="279.4" r="1.78" fill="#17becf"/>
<circle cx="61.5" cy="281.2" r="1.78" fill="#17becf"/>
<circle cx="64.5" cy="282.1" r="1.78" fill="#8c564b"/>
<circle cx="64.0" cy="284.2" r="1.78" fill="#7f7f7f"/>
<circle cx="70.7" cy="283.6" r="1.78" fill="#bcbd22"/>
<circle cx="56.6" cy="283.6" r="1.78" fill="#9467bd"/>
<circle cx="65.5" cy="272.7" r="1.78" fill="#2ca02c"/>
<circle cx="51.8" cy="272.3" r="1.78" fill="#2ca02c"/>
<circle cx="74.1" cy="275.3" r="1.78" fill="#9467bd"/>
<circle cx="84.3" cy="275.0" r="1.78" fill="#ff7f0e"/>
<circle cx="86.3" cy="272.7" r="1.78" fill="#e377c2"/>
<circle cx="93.5" cy="273.2" r="1.78" fill="#e377c2"/>
<circle cx="89.0" cy="277.7" r="1.78" fill="#17becf"/>
<circle cx="91.6" cy="280.2" r="1.78" fill="#bcbd22"/>
<circle cx="84.1" cy="280.2" r="1.78" fill="#7f7f7f"/>
<circle cx="77.4" cy="280.6" r="1.78" fill="#2ca02c"/>
<circle cx="97.2" cy="276.2" r="1.78" fill="#7f7f7f"/>
<circle cx="102.7" cy="276.5" r="1.78" fill="#e377c2"/>
<circle cx="100.2" cy="281.7" r="1.78" fill="#2ca02c"/>
<circle cx="91.0" cy="282.1" r="1.78" fill="#d62728"/>
<circle cx="96.0" cy="282.4" r="1.78" fill="#bcbd22"/>
<circle cx="108.7" cy="274.7" r="1.78" fill="#9467bd"/>
<circle cx="114.3" cy="273.8" r="1.78" fill="#bcbd22"/>
<circle cx="120.3" cy="276.2" r="1.78" fill="#17becf"/>
<circle cx="119.6" cy="277.7" r="1.78" fill="#17becf"/>
<circle cx="111.7" cy="278.7" r="1.78" fill="#7f7f7f"/>
<circle cx="107.6" cy="280.6" r="1.78" fill="#8c564b"/>
<circle cx="116.6" cy="279.7" r="1.78" fill="#17becf"/>
<circle cx="110.3" cy="283.6" r="1.78" fill="#8c564b"/>
<circle cx="114.3" cy="284.2" r="1.78" fill="#bcbd22"/>
<circle cx="118.8" cy="284.7" r="1.78" fill="#9467bd"/>
<circle cx="122.5" cy="282.1" r="1.78" fill="#2ca02c"/>
<circle cx="34.7" cy="286.6" r="1.78" fill="#17becf"/>
<circle cx="61.5" cy="285.1" r="1.78" fill="#17becf"/>
<circle cx="61.9" cy="288.1" r="1.78" fill="#1f77b4"/>
<circle cx="65.2" cy="288.7" r="1.78" fill="#17becf"/>
<circle cx="67.4" cy="287.3" r="1.78" fill="#bcbd22"/>
<circle cx="64.0" cy="290.2" r="1.78" fill="#e377c2"/>
<circle cx="72.6" cy="286.6" r="1.78" fill="#e377c2"/>
<circle cx="79.4" cy="287.6" r="1.78" fill="#2ca02c"/>
<circle cx="83.4" cy="286.4" r="1.78" fill="#1f77b4"/>
<circle cx="85.8" cy="287.6" r="1.78" fill="#bcbd22"/>
<circle cx="89.0" cy="287.6" r="1.78" fill="#2ca02c"/>
<circle cx="94.2" cy="287.3" r="1.78" fill="#e377c2"/>
<circle cx="98.7" cy="287.6" r="1.78" fill="#d62728"/>
<circle cx="101.2" cy="287.2" r="1.78" fill="#7f7f7f"/>
<circle cx="105.0" cy="285.4" r="1.78" fill="#7f7f7f"/>
<circle cx="110.2" cy="288.7" r="1.78" fill="#9467bd"/>
<circle cx="112.9" cy="288.4" r="1.78" fill="#bcbd22"/>
<circle cx="116.1" cy="289.6" r="1.78" fill="#17becf"/>
<circle cx="119.3" cy="288.4" r="1.78" fill="#7f7f7f"/>
<circle cx="123.6" cy="287.3" r="1.78" fill="#8c564b"/>
<circle cx="49.6" cy="291.7" r="1.78" fill="#7f7f7f"/>
<circle cx="53.3" cy="291.1" r="1.78" fill="#2ca02c"/>
<circle cx="50.3" cy="294.8" r="1.78" fill="#8c564b"/>
<circle cx="51.8" cy="294.6" r="1.78" fill="#d62728"/>
<circle cx="38.4" cy="293.6" r="1.78" fill="#7f7f7f"/>
<circle cx="51.1" cy="297.3" r="1.78" fill="#1f77b4"/>
<circle cx="59.2" cy="295.4" r="1.78" fill="#bcbd22"/>
<circle cx="76.7" cy="292.5" r="1.78" fill="#e377c2"/>
<circle cx="76.8" cy="294.8" r="1.78" fill="#8c564b"/>
<circle cx="82.3" cy="293.1" r="1.78" fill="#17becf"/>
<circle cx="83.5" cy="294.3" r="1.78" fill="#7f7f7f"/>
<circle cx="85.3" cy="291.4" r="1.78" fill="#7f7f7f"/>
<circle cx="89.5" cy="292.1" r="1.78" fill="#2ca02c"/>
<circle cx="94.2" cy="293.1" r="1.78" fill="#9467bd"/>
<circle cx="98.4" cy="293.6" r="1.78" fill="#d62728"/>
<circle cx="103.9" cy="294.8" r="1.78" fill="#d62728"/>
<circle cx="110.6" cy="293.1" r="1.78" fill="#17becf"/>
<circle cx="116.1" cy="294.6" r="1.78" fill="#9467bd"/>
<circle cx="121.5" cy="293.6" r="1.78" fill="#bcbd22"/>
<circle cx="109.6" cy="297.6" r="1.78" fill="#bcbd22"/>
<circle cx="115.4" cy="297.8" r="1.78" fill="#7f7f7f"/>
<circle cx="119.6" cy="296.6" r="1.78" fill="#8c564b"/>
<circle cx="122.5" cy="299.8" r="1.78" fill="#7f7f7f"/>
<circle cx="73.4" cy="297.6" r="1.78" fill="#ff7f0e"/>
<circle cx="65.7" cy="299.5" r="1.78" fill="#bcbd22"/>
<circle cx="76.4" cy="302.5" r="1.78" fill="#d62728"/>
<circle cx="80.4" cy="302.1" r="1.78" fill="#17becf"/>
<circle cx="86.8" cy="302.2" r="1.78" fill="#bcbd22"/>
<circle cx="89.3" cy="298.8" r="1.78" fill="#d62728"/>
<circle cx="92.3" cy="298.5" r="1.78" fill="#bcbd22"/>
<circle cx="93.0" cy="302.8" r="1.78" fill="#17becf"/>
<circle cx="94.2" cy="302.8" r="1.78" fill="#7f7f7f"/>
<circle cx="104.2" cy="300.3" r="1.78" fill="#17becf"/>
<circle cx="102.4" cy="301.0" r="1.78" fill="#7f7f7f"/>
<circle cx="114.3" cy="302.5" r="1.78" fill="#bcbd22"/>
<circle cx="115.8" cy="304.3" r="1.78" fill="#bcbd22"/>
<circle cx="119.6" cy="304.3" r="1.78" fill="#7f7f7f"/>
<circle cx="123.3" cy="303.6" r="1.78" fill="#e377c2"/>
<circle cx="51.1" cy="308.2" r="1.78" fill="#7f7f7f"/>
<circle cx="74.4" cy="308.2" r="1.78" fill="#8c564b"/>
<circle cx="84.1" cy="307.7" r="1.78" fill="#d62728"/>
<circle cx="90.5" cy="307.7" r="1.78" fill="#17becf"/>
<circle cx="98.7" cy="307.4" r="1.78" fill="#9467bd"/>
<circle cx="107.6" cy="307.4" r="1.78" fill="#e377c2"/>
<circle cx="113.3" cy="307.4" r="1.78" fill="#bcbd22"/>
<circle cx="104.2" cy="312.9" r="1.78" fill="#1f77b4"/>
<circle cx="106.2" cy="315.2" r="1.78" fill="#bcbd22"/>
<circle cx="93.9" cy="315.6" r="1.78" fill="#9467bd"/>
<circle cx="118.1" cy="312.9" r="1.78" fill="#9467bd"/>
<circle cx="122.5" cy="314.1" r="1.78" fill="#9467bd"/>
<circle cx="112.9" cy="319.4" r="1.78" fill="#17becf"/>
<circle cx="117.3" cy="321.6" r="1.78" fill="#2ca02c"/>
<circle cx="113.9" cy="324.1" r="1.78" fill="#2ca02c"/>
<circle cx="124.0" cy="322.3" r="1.78" fill="#2ca02c"/>
<circle cx="125.5" cy="328.3" r="1.78" fill="#2ca02c"/>
<circle cx="86.5" cy="324.6" r="1.78" fill="#9467bd"/>
<circle cx="103.5" cy="324.6" r="1.78" fill="#bcbd22"/>
<circle cx="111.4" cy="332.8" r="1.78" fill="#17becf"/>
<circle cx="119.6" cy="331.3" r="1.78" fill="#e377c2"/>
<circle cx="117.3" cy="341.2" r="1.78" fill="#17becf"/>
<circle cx="133.7" cy="201.7" r="1.78" fill="#ff7f0e"/>
<circle cx="146.4" cy="209.4" r="1.78" fill="#17becf"/>
<circle cx="127.7" cy="209.4" r="1.78" fill="#bcbd22"/>
<circle cx="155.0" cy="208.1" r="1.78" fill="#7f7f7f"/>
<circle cx="162.7" cy="204.2" r="1.78" fill="#bcbd22"/>
<circle cx="163.2" cy="206.5" r="1.78" fill="#7f7f7f"/>
<circle cx="182.1" cy="205.4" r="1.78" fill="#e377c2"/>
<circle cx="190.3" cy="208.7" r="1.78" fill="#bcbd22"/>
<circle cx="142.3" cy="216.9" r="1.78" fill="#bcbd22"/>
<circle cx="168.2" cy="211.8" r="1.78" fill="#17becf"/>
<circle cx="172.4" cy="214.4" r="1.78" fill="#d62728"/>
<circle cx="176.6" cy="211.4" r="1.78" fill="#7f7f7f"/>
<circle cx="176.6" cy="214.8" r="1.78" fill="#17becf"/>
<circle cx="183.6" cy="214.8" r="1.78" fill="#7f7f7f"/>
<circle cx="161.0" cy="215.4" r="1.78" fill="#e377c2"/>
<circle cx="167.5" cy="216.1" r="1.78" fill="#bcbd22"/>
<circle cx="189.2" cy="216.3" r="1.78" fill="#e377c2"/>
<circle cx="196.2" cy="215.5" r="1.78" fill="#17becf"/>
<circle cx="196.2" cy="218.8" r="1.78" fill="#17becf"/>
<circle cx="130.7" cy="222.5" r="1.78" fill="#d62728"/>
<circle cx="131.5" cy="227.0" r="1.78" fill="#17becf"/>
<circle cx="137.7" cy="226.3" r="1.78" fill="#8c564b"/>
<circle cx="127.7" cy="227.5" r="1.78" fill="#e377c2"/>
<circle cx="129.2" cy="230.4" r="1.78" fill="#e377c2"/>
<circle cx="134.4" cy="229.0" r="1.78" fill="#ff7f0e"/>
<circle cx="132.2" cy="233.4" r="1.78" fill="#7f7f7f"/>
<circle cx="146.4" cy="230.0" r="1.78" fill="#d62728"/>
<circle cx="144.9" cy="230.7" r="1.78" fill="#2ca02c"/>
<circle cx="142.3" cy="233.0" r="1.78" fill="#bcbd22"/>
<circle cx="153.8" cy="220.0" r="1.78" fill="#8c564b"/>
<circle cx="153.8" cy="226.7" r="1.78" fill="#8c564b"/>
<circle cx="157.5" cy="227.8" r="1.78" fill="#9467bd"/>
<circle cx="159.3" cy="228.2" r="1.78" fill="#1f77b4"/>
<circle cx="154.5" cy="234.5" r="1.78" fill="#8c564b"/>
<circle cx="165.4" cy="228.5" r="1.78" fill="#bcbd22"/>
<circle cx="163.9" cy="220.6" r="1.78" fill="#7f7f7f"/>
<circle cx="165.0" cy="223.3" r="1.78" fill="#9467bd"/>
<circle cx="170.2" cy="218.1" r="1.78" fill="#e377c2"/>
<circle cx="169.4" cy="221.1" r="1.78" fill="#bcbd22"/>
<circle cx="171.7" cy="221.8" r="1.78" fill="#9467bd"/>
<circle cx="174.9" cy="218.8" r="1.78" fill="#9467bd"/>
<circle cx="175.4" cy="221.5" r="1.78" fill="#1f77b4"/>
<circle cx="179.6" cy="218.1" r="1.78" fill="#9467bd"/>
<circle cx="178.7" cy="223.7" r="1.78" fill="#17becf"/>
<circle cx="182.1" cy="223.0" r="1.78" fill="#17becf"/>
<circle cx="185.8" cy="221.5" r="1.78" fill="#2ca02c"/>
<circle cx="188.5" cy="221.5" r="1.78" fill="#2ca02c"/>
<circle cx="191.5" cy="223.3" r="1.78" fill="#bcbd22"/>
<circle cx="184.6" cy="226.0" r="1.78" fill="#8c564b"/>
<circle cx="189.1" cy="226.0" r="1.78" fill="#bcbd22"/>
<circle cx="169.0" cy="224.8" r="1.78" fill="#7f7f7f"/>
<circle cx="172.7" cy="227.5" r="1.78" fill="#8c564b"/>
<circle cx="174.6" cy="225.5" r="1.78" fill="#9467bd"/>
<circle cx="177.6" cy="226.7" r="1.78" fill="#bcbd22"/>
<circle cx="179.6" cy="228.2" r="1.78" fill="#2ca02c"/>
<circle cx="175.4" cy="229.5" r="1.78" fill="#1f77b4"/>
<circle cx="169.7" cy="229.2" r="1.78" fill="#e377c2"/>
<circle cx="182.1" cy="229.2" r="1.78" fill="#8c564b"/>
<circle cx="186.1" cy="230.7" r="1.78" fill="#bcbd22"/>
<circle cx="172.9" cy="233.7" r="1.78" fill="#bcbd22"/>
<circle cx="182.5" cy="233.4" r="1.78" fill="#8c564b"/>
<circle cx="185.1" cy="234.5" r="1.78" fill="#8c564b"/>
<circle cx="177.3" cy="231.2" r="1.78" fill="#7f7f7f"/>
<circle cx="191.5" cy="235.9" r="1.78" fill="#17becf"/>
<circle cx="192.2" cy="231.9" r="1.78" fill="#2ca02c"/>
<circle cx="198.5" cy="233.4" r="1.78" fill="#bcbd22"/>
<circle cx="204.4" cy="230.7" r="1.78" fill="#9467bd"/>
<circle cx="209.2" cy="232.2" r="1.78" fill="#17becf"/>
<circle cx="203.2" cy="228.1" r="1.78" fill="#7f7f7f"/>
<circle cx="206.7" cy="220.0" r="1.78" fill="#7f7f7f"/>
<circle cx="204.4" cy="218.8" r="1.78" fill="#8c564b"/>
<circle cx="207.4" cy="224.0" r="1.78" fill="#7f7f7f"/>
<circle cx="203.4" cy="222.2" r="1.78" fill="#9467bd"/>
<circle cx="202.2" cy="224.8" r="1.78" fill="#7f7f7f"/>
<circle cx="197.3" cy="226.3" r="1.78" fill="#17becf"/>
<circle cx="215.3" cy="226.7" r="1.78" fill="#17becf"/>
<circle cx="218.6" cy="234.9" r="1.78" fill="#2ca02c"/>
<circle cx="205.5" cy="235.5" r="1.78" fill="#7f7f7f"/>
<circle cx="202.2" cy="238.5" r="1.78" fill="#17becf"/>
<circle cx="200.0" cy="239.2" r="1.78" fill="#ff7f0e"/>
<circle cx="138.2" cy="237.0" r="1.78" fill="#17becf"/>
<circle cx="136.2" cy="238.5" r="1.78" fill="#7f7f7f"/>
<circle cx="131.5" cy="239.7" r="1.78" fill="#9467bd"/>
<circle cx="127.7" cy="237.1" r="1.78" fill="#bcbd22"/>
<circle cx="131.5" cy="244.1" r="1.78" fill="#7f7f7f"/>
<circle cx="137.4" cy="244.1" r="1.78" fill="#2ca02c"/>
<circle cx="137.7" cy="246.4" r="1.78" fill="#7f7f7f"/>
<circle cx="136.2" cy="247.9" r="1.78" fill="#17becf"/>
<circle cx="131.5" cy="248.3" r="1.78" fill="#8c564b"/>
<circle cx="127.7" cy="246.4" r="1.78" fill="#d62728"/>
<circle cx="129.2" cy="251.9" r="1.78" fill="#1f77b4"/>
<circle cx="134.4" cy="251.9" r="1.78" fill="#7f7f7f"/>
<circle cx="130.7" cy="255.8" r="1.78" fill="#17becf"/>
<circle cx="139.2" cy="255.3" r="1.78" fill="#17becf"/>
<circle cx="149.3" cy="240.1" r="1.78" fill="#e377c2"/>
<circle cx="145.9" cy="246.4" r="1.78" fill="#8c564b"/>
<circle cx="162.0" cy="235.5" r="1.78" fill="#7f7f7f"/>
<circle cx="166.5" cy="234.9" r="1.78" fill="#e377c2"/>
<circle cx="158.3" cy="241.6" r="1.78" fill="#8c564b"/>
<circle cx="160.5" cy="241.2" r="1.78" fill="#8c564b"/>
<circle cx="166.0" cy="240.7" r="1.78" fill="#8c564b"/>
<circle cx="162.0" cy="244.6" r="1.78" fill="#bcbd22"/>
<circle cx="157.5" cy="247.1" r="1.78" fill="#8c564b"/>
<circle cx="163.5" cy="248.2" r="1.78" fill="#e377c2"/>
<circle cx="154.5" cy="250.5" r="1.78" fill="#8c564b"/>
<circle cx="156.5" cy="251.1" r="1.78" fill="#8c564b"/>
<circle cx="169.0" cy="244.4" r="1.78" fill="#d62728"/>
<circle cx="170.5" cy="247.4" r="1.78" fill="#17becf"/>
<circle cx="175.4" cy="240.9" r="1.78" fill="#8c564b"/>
<circle cx="180.9" cy="238.5" r="1.78" fill="#e377c2"/>
<circle cx="181.4" cy="239.7" r="1.78" fill="#bcbd22"/>
<circle cx="186.1" cy="238.5" r="1.78" fill="#d62728"/>
<circle cx="182.4" cy="244.1" r="1.78" fill="#e377c2"/>
<circle cx="184.0" cy="246.4" r="1.78" fill="#17becf"/>
<circle cx="187.3" cy="243.1" r="1.78" fill="#17becf"/>
<circle cx="191.8" cy="243.1" r="1.78" fill="#7f7f7f"/>
<circle cx="195.2" cy="243.4" r="1.78" fill="#d62728"/>
<circle cx="198.5" cy="242.9" r="1.78" fill="#17becf"/>
<circle cx="174.6" cy="247.4" r="1.78" fill="#bcbd22"/>
<circle cx="207.4" cy="246.8" r="1.78" fill="#7f7f7f"/>
<circle cx="187.6" cy="249.6" r="1.78" fill="#d62728"/>
<circle cx="193.6" cy="249.4" r="1.78" fill="#bcbd22"/>
<circle cx="199.5" cy="247.6" r="1.78" fill="#bcbd22"/>
<circle cx="189.5" cy="250.4" r="1.78" fill="#1f77b4"/>
<circle cx="175.7" cy="249.8" r="1.78" fill="#8c564b"/>
<circle cx="183.3" cy="252.0" r="1.78" fill="#9467bd"/>
<circle cx="200.0" cy="250.8" r="1.78" fill="#8c564b"/>
<circle cx="199.2" cy="253.5" r="1.78" fill="#8c564b"/>
<circle cx="195.5" cy="253.1" r="1.78" fill="#8c564b"/>
<circle cx="194.3" cy="256.8" r="1.78" fill="#8c564b"/>
<circle cx="192.5" cy="259.5" r="1.78" fill="#2ca02c"/>
<circle cx="189.2" cy="260.5" r="1.78" fill="#7f7f7f"/>
<circle cx="166.2" cy="255.3" r="1.78" fill="#9467bd"/>
<circle cx="168.4" cy="254.3" r="1.78" fill="#1f77b4"/>
<circle cx="172.9" cy="255.8" r="1.78" fill="#9467bd"/>
<circle cx="174.6" cy="256.5" r="1.78" fill="#e377c2"/>
<circle cx="176.1" cy="253.8" r="1.78" fill="#8c564b"/>
<circle cx="161.2" cy="259.0" r="1.78" fill="#9467bd"/>
<circle cx="162.0" cy="257.2" r="1.78" fill="#1f77b4"/>
<circle cx="180.9" cy="261.0" r="1.78" fill="#ff7f0e"/>
<circle cx="149.6" cy="261.3" r="1.78" fill="#d62728"/>
<circle cx="133.3" cy="260.1" r="1.78" fill="#2ca02c"/>
<circle cx="138.2" cy="264.2" r="1.78" fill="#9467bd"/>
<circle cx="127.7" cy="264.2" r="1.78" fill="#9467bd"/>
<circle cx="127.7" cy="261.3" r="1.78" fill="#e377c2"/>
<circle cx="135.9" cy="269.0" r="1.78" fill="#bcbd22"/>
<circle cx="133.7" cy="267.5" r="1.78" fill="#8c564b"/>
<circle cx="130.3" cy="270.2" r="1.78" fill="#8c564b"/>
<circle cx="157.5" cy="264.2" r="1.78" fill="#17becf"/>
<circle cx="166.5" cy="262.5" r="1.78" fill="#7f7f7f"/>
<circle cx="201.0" cy="263.8" r="1.78" fill="#e377c2"/>
<circle cx="214.9" cy="261.6" r="1.78" fill="#8c564b"/>
<circle cx="183.1" cy="267.7" r="1.78" fill="#bcbd22"/>
<circle cx="165.0" cy="268.4" r="1.78" fill="#17becf"/>
<circle cx="166.0" cy="270.2" r="1.78" fill="#17becf"/>
<circle cx="168.7" cy="266.2" r="1.78" fill="#7f7f7f"/>
<circle cx="169.4" cy="270.2" r="1.78" fill="#2ca02c"/>
<circle cx="172.4" cy="266.8" r="1.78" fill="#e377c2"/>
<circle cx="175.4" cy="268.4" r="1.78" fill="#ff7f0e"/>
<circle cx="178.1" cy="270.9" r="1.78" fill="#8c564b"/>
<circle cx="162.7" cy="269.0" r="1.78" fill="#8c564b"/>
<circle cx="148.6" cy="270.9" r="1.78" fill="#e377c2"/>
<circle cx="128.5" cy="277.2" r="1.78" fill="#17becf"/>
<circle cx="128.2" cy="281.7" r="1.78" fill="#7f7f7f"/>
<circle cx="137.1" cy="276.8" r="1.78" fill="#bcbd22"/>
<circle cx="135.2" cy="280.5" r="1.78" fill="#7f7f7f"/>
<circle cx="143.7" cy="279.4" r="1.78" fill="#1f77b4"/>
<circle cx="141.4" cy="281.7" r="1.78" fill="#17becf"/>
<circle cx="144.1" cy="283.2" r="1.78" fill="#17becf"/>
<circle cx="140.4" cy="285.1" r="1.78" fill="#7f7f7f"/>
<circle cx="142.6" cy="285.4" r="1.78" fill="#ff7f0e"/>
<circle cx="133.4" cy="286.9" r="1.78" fill="#d62728"/>
<circle cx="147.5" cy="286.4" r="1.78" fill="#e377c2"/>
<circle cx="147.1" cy="290.3" r="1.78" fill="#7f7f7f"/>
<circle cx="150.4" cy="293.1" r="1.78" fill="#d62728"/>
<circle cx="151.3" cy="294.6" r="1.78" fill="#17becf"/>
<circle cx="140.4" cy="292.4" r="1.78" fill="#2ca02c"/>
<circle cx="130.3" cy="293.6" r="1.78" fill="#7f7f7f"/>
<circle cx="129.2" cy="297.6" r="1.78" fill="#9467bd"/>
<circle cx="136.7" cy="298.8" r="1.78" fill="#2ca02c"/>
<circle cx="144.6" cy="300.0" r="1.78" fill="#d62728"/>
<circle cx="156.5" cy="276.8" r="1.78" fill="#bcbd22"/>
<circle cx="156.5" cy="282.4" r="1.78" fill="#ff7f0e"/>
<circle cx="157.5" cy="288.1" r="1.78" fill="#1f77b4"/>
<circle cx="162.4" cy="286.1" r="1.78" fill="#d62728"/>
<circle cx="161.5" cy="282.1" r="1.78" fill="#e377c2"/>
<circle cx="165.0" cy="283.2" r="1.78" fill="#8c564b"/>
<circle cx="160.5" cy="278.7" r="1.78" fill="#ff7f0e"/>
<circle cx="161.0" cy="273.2" r="1.78" fill="#bcbd22"/>
<circle cx="163.2" cy="273.5" r="1.78" fill="#bcbd22"/>
<circle cx="166.0" cy="274.2" r="1.78" fill="#9467bd"/>
<circle cx="167.9" cy="273.8" r="1.78" fill="#17becf"/>
<circle cx="172.1" cy="273.2" r="1.78" fill="#d62728"/>
<circle cx="174.4" cy="273.8" r="1.78" fill="#d62728"/>
<circle cx="177.6" cy="272.7" r="1.78" fill="#8c564b"/>
<circle cx="163.0" cy="277.2" r="1.78" fill="#bcbd22"/>
<circle cx="165.4" cy="279.4" r="1.78" fill="#bcbd22"/>
<circle cx="167.2" cy="278.0" r="1.78" fill="#2ca02c"/>
<circle cx="170.2" cy="277.2" r="1.78" fill="#1f77b4"/>
<circle cx="172.4" cy="278.7" r="1.78" fill="#1f77b4"/>
<circle cx="174.6" cy="280.2" r="1.78" fill="#1f77b4"/>
<circle cx="171.7" cy="280.2" r="1.78" fill="#7f7f7f"/>
<circle cx="169.4" cy="280.6" r="1.78" fill="#9467bd"/>
<circle cx="173.9" cy="282.7" r="1.78" fill="#7f7f7f"/>
<circle cx="168.4" cy="284.7" r="1.78" fill="#8c564b"/>
<circle cx="167.5" cy="285.7" r="1.78" fill="#bcbd22"/>
<circle cx="170.5" cy="285.1" r="1.78" fill="#17becf"/>
<circle cx="169.1" cy="287.6" r="1.78" fill="#e377c2"/>
<circle cx="171.4" cy="286.9" r="1.78" fill="#17becf"/>
<circle cx="166.0" cy="288.1" r="1.78" fill="#ff7f0e"/>
<circle cx="167.7" cy="290.6" r="1.78" fill="#ff7f0e"/>
<circle cx="171.4" cy="291.1" r="1.78" fill="#8c564b"/>
<circle cx="174.9" cy="287.6" r="1.78" fill="#1f77b4"/>
<circle cx="177.3" cy="284.7" r="1.78" fill="#e377c2"/>
<circle cx="178.4" cy="278.3" r="1.78" fill="#2ca02c"/>
<circle cx="181.6" cy="282.1" r="1.78" fill="#9467bd"/>
<circle cx="185.1" cy="281.7" r="1.78" fill="#ff7f0e"/>
<circle cx="187.8" cy="280.9" r="1.78" fill="#17becf"/>
<circle cx="184.3" cy="287.2" r="1.78" fill="#bcbd22"/>
<circle cx="188.5" cy="288.1" r="1.78" fill="#bcbd22"/>
<circle cx="184.3" cy="291.4" r="1.78" fill="#bcbd22"/>
<circle cx="200.3" cy="278.4" r="1.78" fill="#9467bd"/>
<circle cx="189.5" cy="273.5" r="1.78" fill="#e377c2"/>
<circle cx="187.8" cy="272.3" r="1.78" fill="#e377c2"/>
<circle cx="153.1" cy="273.2" r="1.78" fill="#9467bd"/>
<circle cx="132.2" cy="306.5" r="1.78" fill="#17becf"/>
<circle cx="129.7" cy="308.5" r="1.78" fill="#17becf"/>
<circle cx="129.2" cy="312.2" r="1.78" fill="#7f7f7f"/>
<circle cx="139.7" cy="307.4" r="1.78" fill="#bcbd22"/>
<circle cx="148.3" cy="307.7" r="1.78" fill="#2ca02c"/>
<circle cx="152.6" cy="308.2" r="1.78" fill="#e377c2"/>
<circle cx="159.0" cy="310.0" r="1.78" fill="#1f77b4"/>
<circle cx="159.8" cy="309.2" r="1.78" fill="#2ca02c"/>
<circle cx="161.5" cy="307.4" r="1.78" fill="#17becf"/>
<circle cx="144.1" cy="311.9" r="1.78" fill="#ff7f0e"/>
<circle cx="148.6" cy="312.9" r="1.78" fill="#8c564b"/>
<circle cx="152.6" cy="314.4" r="1.78" fill="#2ca02c"/>
<circle cx="148.3" cy="317.0" r="1.78" fill="#ff7f0e"/>
<circle cx="144.9" cy="319.4" r="1.78" fill="#bcbd22"/>
<circle cx="137.4" cy="315.9" r="1.78" fill="#9467bd"/>
<circle cx="129.7" cy="320.1" r="1.78" fill="#7f7f7f"/>
<circle cx="134.1" cy="324.1" r="1.78" fill="#bcbd22"/>
<circle cx="151.9" cy="320.4" r="1.78" fill="#9467bd"/>
<circle cx="157.5" cy="320.8" r="1.78" fill="#8c564b"/>
<circle cx="157.1" cy="318.5" r="1.78" fill="#ff7f0e"/>
<circle cx="156.5" cy="323.7" r="1.78" fill="#e377c2"/>
<circle cx="158.6" cy="325.3" r="1.78" fill="#ff7f0e"/>
<circle cx="148.6" cy="323.8" r="1.78" fill="#9467bd"/>
<circle cx="151.9" cy="324.1" r="1.78" fill="#9467bd"/>
<circle cx="152.0" cy="327.8" r="1.78" fill="#2ca02c"/>
<circle cx="149.8" cy="328.3" r="1.78" fill="#7f7f7f"/>
<circle cx="145.6" cy="326.6" r="1.78" fill="#1f77b4"/>
<circle cx="129.2" cy="332.0" r="1.78" fill="#9467bd"/>
<circle cx="138.6" cy="331.1" r="1.78" fill="#e377c2"/>
<circle cx="148.6" cy="332.3" r="1.78" fill="#e377c2"/>
<circle cx="130.0" cy="337.5" r="1.78" fill="#bcbd22"/>
<circle cx="158.3" cy="337.2" r="1.78" fill="#17becf"/>
<circle cx="169.1" cy="303.0" r="1.78" fill="#d62728"/>
<circle cx="169.1" cy="304.8" r="1.78" fill="#e377c2"/>
<circle cx="172.7" cy="311.5" r="1.78" fill="#17becf"/>
<circle cx="178.8" cy="311.5" r="1.78" fill="#bcbd22"/>
<circle cx="168.2" cy="315.2" r="1.78" fill="#17becf"/>
<circle cx="171.7" cy="315.9" r="1.78" fill="#8c564b"/>
<circle cx="172.7" cy="320.4" r="1.78" fill="#bcbd22"/>
</g>
<rect x="25.50" y="195.00" width="202.50" height="153.50" fill="none" stroke="#626262" stroke-width="1.25"/>
<text x="126.75" y="184.85" font-size="6.3" text-anchor="middle" fill="#000" stroke="#000" stroke-width="0.14" textLength="88.16" lengthAdjust="spacingAndGlyphs">t-SNE of BERT-Corrected Data</text>
<text x="126.75" y="191.40" font-size="6.3" text-anchor="middle" fill="#000" stroke="#000" stroke-width="0.14" textLength="59.8" lengthAdjust="spacingAndGlyphs">(LC-MS Arabidopsis)</text>
<text x="126.75" y="355.70" font-size="6.3" text-anchor="middle" fill="#000" stroke="#000" stroke-width="0.14" textLength="22.18" lengthAdjust="spacingAndGlyphs">t-SNE 0</text>
<text x="22.00" y="271.75" font-size="6.3" text-anchor="middle" fill="#000" stroke="#000" stroke-width="0.14" textLength="22.18" lengthAdjust="spacingAndGlyphs" transform="rotate(-90 22.00 271.75)">t-SNE 1</text>
<g stroke="#fff" stroke-width="0.3">
<circle cx="312.0" cy="203.5" r="1.78" fill="#8c564b"/>
<circle cx="312.3" cy="206.2" r="1.78" fill="#7f7f7f"/>
<circle cx="315.3" cy="206.2" r="1.78" fill="#7f7f7f"/>
<circle cx="321.3" cy="205.7" r="1.78" fill="#d62728"/>
<circle cx="319.0" cy="208.4" r="1.78" fill="#7f7f7f"/>
<circle cx="298.9" cy="207.7" r="1.78" fill="#ff7f0e"/>
<circle cx="305.6" cy="207.7" r="1.78" fill="#9467bd"/>
<circle cx="293.0" cy="209.9" r="1.78" fill="#c5b0d5"/>
<circle cx="296.4" cy="210.6" r="1.78" fill="#8c564b"/>
<circle cx="302.4" cy="210.3" r="1.78" fill="#9467bd"/>
<circle cx="308.6" cy="210.6" r="1.78" fill="#e377c2"/>
<circle cx="309.4" cy="211.8" r="1.78" fill="#f7b6d2"/>
<circle cx="316.1" cy="210.6" r="1.78" fill="#9467bd"/>
<circle cx="327.7" cy="212.1" r="1.78" fill="#9467bd"/>
<circle cx="330.2" cy="213.9" r="1.78" fill="#d62728"/>
<circle cx="292.2" cy="213.6" r="1.78" fill="#8c564b"/>
<circle cx="296.7" cy="214.4" r="1.78" fill="#7f7f7f"/>
<circle cx="300.4" cy="213.6" r="1.78" fill="#7f7f7f"/>
<circle cx="302.9" cy="214.4" r="1.78" fill="#8c564b"/>
<circle cx="303.4" cy="211.7" r="1.78" fill="#7f7f7f"/>
<circle cx="306.4" cy="215.8" r="1.78" fill="#8c564b"/>
<circle cx="305.6" cy="214.1" r="1.78" fill="#e377c2"/>
<circle cx="311.6" cy="215.1" r="1.78" fill="#7f7f7f"/>
<circle cx="316.3" cy="214.1" r="1.78" fill="#7f7f7f"/>
<circle cx="318.7" cy="214.4" r="1.78" fill="#e377c2"/>
<circle cx="323.2" cy="216.3" r="1.78" fill="#7f7f7f"/>
<circle cx="319.8" cy="217.3" r="1.78" fill="#7f7f7f"/>
<circle cx="316.8" cy="217.3" r="1.78" fill="#7f7f7f"/>
<circle cx="287.0" cy="218.4" r="1.78" fill="#c5b0d5"/>
<circle cx="294.0" cy="218.4" r="1.78" fill="#9467bd"/>
<circle cx="297.0" cy="218.4" r="1.78" fill="#9467bd"/>
<circle cx="302.4" cy="218.8" r="1.78" fill="#2ca02c"/>
<circle cx="304.1" cy="219.6" r="1.78" fill="#2ca02c"/>
<circle cx="308.3" cy="217.3" r="1.78" fill="#f7b6d2"/>
<circle cx="312.0" cy="218.5" r="1.78" fill="#7f7f7f"/>
<circle cx="313.8" cy="217.3" r="1.78" fill="#7f7f7f"/>
<circle cx="323.5" cy="218.8" r="1.78" fill="#f7b6d2"/>
<circle cx="328.3" cy="218.8" r="1.78" fill="#9467bd"/>
<circle cx="331.7" cy="221.4" r="1.78" fill="#2ca02c"/>
<circle cx="334.7" cy="221.8" r="1.78" fill="#7f7f7f"/>
<circle cx="339.9" cy="217.3" r="1.78" fill="#d62728"/>
<circle cx="280.0" cy="222.5" r="1.78" fill="#8c564b"/>
<circle cx="292.2" cy="220.6" r="1.78" fill="#2ca02c"/>
<circle cx="303.4" cy="221.5" r="1.78" fill="#ff9896"/>
<circle cx="307.1" cy="222.1" r="1.78" fill="#2ca02c"/>
<circle cx="311.9" cy="221.1" r="1.78" fill="#c5b0d5"/>
<circle cx="315.3" cy="221.8" r="1.78" fill="#9467bd"/>
<circle cx="325.0" cy="222.1" r="1.78" fill="#2ca02c"/>
<circle cx="327.7" cy="223.3" r="1.78" fill="#2ca02c"/>
<circle cx="291.9" cy="225.2" r="1.78" fill="#aec7e8"/>
<circle cx="295.9" cy="224.8" r="1.78" fill="#1f77b4"/>
<circle cx="298.2" cy="225.8" r="1.78" fill="#1f77b4"/>
<circle cx="300.4" cy="223.6" r="1.78" fill="#aec7e8"/>
<circle cx="306.8" cy="225.5" r="1.78" fill="#8c564b"/>
<circle cx="311.9" cy="223.6" r="1.78" fill="#98df8a"/>
<circle cx="313.8" cy="226.6" r="1.78" fill="#2ca02c"/>
<circle cx="315.3" cy="227.0" r="1.78" fill="#2ca02c"/>
<circle cx="318.7" cy="224.0" r="1.78" fill="#1f77b4"/>
<circle cx="319.3" cy="226.3" r="1.78" fill="#ff9896"/>
<circle cx="322.8" cy="226.7" r="1.78" fill="#c5b0d5"/>
<circle cx="330.6" cy="224.5" r="1.78" fill="#8c564b"/>
<circle cx="285.5" cy="231.9" r="1.78" fill="#ff9896"/>
<circle cx="287.5" cy="231.5" r="1.78" fill="#ff9896"/>
<circle cx="290.0" cy="231.2" r="1.78" fill="#ffbb78"/>
<circle cx="293.3" cy="229.7" r="1.78" fill="#ffbb78"/>
<circle cx="299.2" cy="228.8" r="1.78" fill="#2ca02c"/>
<circle cx="303.4" cy="230.0" r="1.78" fill="#c49c94"/>
<circle cx="308.3" cy="229.7" r="1.78" fill="#8c564b"/>
<circle cx="312.8" cy="226.7" r="1.78" fill="#98df8a"/>
<circle cx="316.1" cy="229.7" r="1.78" fill="#7f7f7f"/>
<circle cx="321.0" cy="230.3" r="1.78" fill="#98df8a"/>
<circle cx="328.4" cy="229.2" r="1.78" fill="#9467bd"/>
<circle cx="330.6" cy="230.3" r="1.78" fill="#9467bd"/>
<circle cx="334.7" cy="230.3" r="1.78" fill="#f7b6d2"/>
<circle cx="336.6" cy="230.3" r="1.78" fill="#f7b6d2"/>
<circle cx="297.9" cy="233.0" r="1.78" fill="#e377c2"/>
<circle cx="301.9" cy="232.7" r="1.78" fill="#f7b6d2"/>
<circle cx="304.1" cy="233.4" r="1.78" fill="#c49c94"/>
<circle cx="305.3" cy="234.2" r="1.78" fill="#7f7f7f"/>
<circle cx="307.4" cy="233.4" r="1.78" fill="#e377c2"/>
<circle cx="309.4" cy="235.2" r="1.78" fill="#7f7f7f"/>
<circle cx="313.1" cy="231.9" r="1.78" fill="#7f7f7f"/>
<circle cx="314.6" cy="234.2" r="1.78" fill="#9467bd"/>
<circle cx="315.6" cy="235.2" r="1.78" fill="#9467bd"/>
<circle cx="322.8" cy="233.3" r="1.78" fill="#2ca02c"/>
<circle cx="325.0" cy="234.5" r="1.78" fill="#1f77b4"/>
<circle cx="297.4" cy="236.2" r="1.78" fill="#f7b6d2"/>
<circle cx="302.6" cy="236.7" r="1.78" fill="#c49c94"/>
<circle cx="312.0" cy="238.2" r="1.78" fill="#d62728"/>
<circle cx="323.8" cy="238.9" r="1.78" fill="#ff7f0e"/>
<circle cx="288.1" cy="245.9" r="1.78" fill="#8c564b"/>
<circle cx="319.3" cy="248.2" r="1.78" fill="#7f7f7f"/>
<circle cx="330.5" cy="251.3" r="1.78" fill="#1f77b4"/>
<circle cx="337.2" cy="244.4" r="1.78" fill="#e377c2"/>
<circle cx="341.4" cy="247.6" r="1.78" fill="#e377c2"/>
<circle cx="350.6" cy="213.6" r="1.78" fill="#1f77b4"/>
<circle cx="355.5" cy="212.6" r="1.78" fill="#1f77b4"/>
<circle cx="353.3" cy="221.5" r="1.78" fill="#f7b6d2"/>
<circle cx="355.5" cy="231.2" r="1.78" fill="#c5b0d5"/>
<circle cx="348.5" cy="233.1" r="1.78" fill="#8c564b"/>
<circle cx="350.3" cy="233.1" r="1.78" fill="#8c564b"/>
<circle cx="356.3" cy="218.1" r="1.78" fill="#aec7e8"/>
<circle cx="328.0" cy="256.1" r="1.78" fill="#ffbb78"/>
<circle cx="329.5" cy="256.8" r="1.78" fill="#ffbb78"/>
<circle cx="331.7" cy="256.1" r="1.78" fill="#ff9896"/>
<circle cx="333.9" cy="254.3" r="1.78" fill="#ff7f0e"/>
<circle cx="318.0" cy="258.3" r="1.78" fill="#9467bd"/>
<circle cx="319.3" cy="260.1" r="1.78" fill="#e377c2"/>
<circle cx="324.2" cy="260.1" r="1.78" fill="#9467bd"/>
<circle cx="310.4" cy="261.3" r="1.78" fill="#d62728"/>
<circle cx="316.8" cy="262.3" r="1.78" fill="#8c564b"/>
<circle cx="332.4" cy="258.6" r="1.78" fill="#f7b6d2"/>
<circle cx="335.4" cy="262.3" r="1.78" fill="#9467bd"/>
<circle cx="336.6" cy="263.2" r="1.78" fill="#9467bd"/>
<circle cx="337.6" cy="262.0" r="1.78" fill="#e377c2"/>
<circle cx="343.3" cy="254.9" r="1.78" fill="#aec7e8"/>
<circle cx="344.3" cy="256.3" r="1.78" fill="#f7b6d2"/>
<circle cx="348.1" cy="255.6" r="1.78" fill="#ff9896"/>
<circle cx="350.3" cy="256.1" r="1.78" fill="#ffbb78"/>
<circle cx="353.3" cy="255.0" r="1.78" fill="#9467bd"/>
<circle cx="345.8" cy="259.0" r="1.78" fill="#ffbb78"/>
<circle cx="344.3" cy="258.3" r="1.78" fill="#98df8a"/>
<circle cx="341.4" cy="263.8" r="1.78" fill="#f7b6d2"/>
<circle cx="345.1" cy="263.8" r="1.78" fill="#f7b6d2"/>
<circle cx="351.0" cy="258.7" r="1.78" fill="#e377c2"/>
<circle cx="352.5" cy="261.6" r="1.78" fill="#7f7f7f"/>
<circle cx="354.8" cy="261.3" r="1.78" fill="#8c564b"/>
<circle cx="347.3" cy="261.6" r="1.78" fill="#f7b6d2"/>
<circle cx="342.6" cy="261.6" r="1.78" fill="#98df8a"/>
<circle cx="311.3" cy="266.2" r="1.78" fill="#2ca02c"/>
<circle cx="326.2" cy="264.2" r="1.78" fill="#e377c2"/>
<circle cx="319.5" cy="269.5" r="1.78" fill="#7f7f7f"/>
<circle cx="321.0" cy="269.5" r="1.78" fill="#7f7f7f"/>
<circle cx="322.8" cy="268.3" r="1.78" fill="#c5b0d5"/>
<circle cx="324.7" cy="267.7" r="1.78" fill="#9467bd"/>
<circle cx="329.5" cy="267.7" r="1.78" fill="#7f7f7f"/>
<circle cx="333.2" cy="268.0" r="1.78" fill="#c5b0d5"/>
<circle cx="334.7" cy="265.0" r="1.78" fill="#8c564b"/>
<circle cx="339.1" cy="265.0" r="1.78" fill="#e377c2"/>
<circle cx="341.1" cy="264.2" r="1.78" fill="#c49c94"/>
<circle cx="351.5" cy="265.0" r="1.78" fill="#9467bd"/>
<circle cx="348.5" cy="270.2" r="1.78" fill="#2ca02c"/>
<circle cx="353.3" cy="265.7" r="1.78" fill="#ff9896"/>
<circle cx="271.4" cy="270.2" r="1.78" fill="#1f77b4"/>
<circle cx="276.6" cy="267.2" r="1.78" fill="#7f7f7f"/>
<circle cx="276.6" cy="270.2" r="1.78" fill="#7f7f7f"/>
<circle cx="357.7" cy="205.4" r="1.78" fill="#c5b0d5"/>
<circle cx="365.6" cy="205.4" r="1.78" fill="#c5b0d5"/>
<circle cx="367.4" cy="206.6" r="1.78" fill="#8c564b"/>
<circle cx="368.6" cy="207.7" r="1.78" fill="#8c564b"/>
<circle cx="371.1" cy="209.1" r="1.78" fill="#e377c2"/>
<circle cx="371.9" cy="209.9" r="1.78" fill="#f7b6d2"/>
<circle cx="374.6" cy="208.1" r="1.78" fill="#7f7f7f"/>
<circle cx="375.6" cy="206.2" r="1.78" fill="#c49c94"/>
<circle cx="365.2" cy="208.7" r="1.78" fill="#2ca02c"/>
<circle cx="360.0" cy="212.9" r="1.78" fill="#aec7e8"/>
<circle cx="363.0" cy="212.6" r="1.78" fill="#aec7e8"/>
<circle cx="367.1" cy="211.1" r="1.78" fill="#aec7e8"/>
<circle cx="368.6" cy="214.1" r="1.78" fill="#c5b0d5"/>
<circle cx="369.7" cy="211.8" r="1.78" fill="#7f7f7f"/>
<circle cx="378.6" cy="211.1" r="1.78" fill="#c5b0d5"/>
<circle cx="380.8" cy="214.4" r="1.78" fill="#c49c94"/>
<circle cx="384.5" cy="212.6" r="1.78" fill="#e377c2"/>
<circle cx="383.5" cy="208.1" r="1.78" fill="#2ca02c"/>
<circle cx="386.8" cy="215.8" r="1.78" fill="#7f7f7f"/>
<circle cx="392.7" cy="215.5" r="1.78" fill="#c5b0d5"/>
<circle cx="396.5" cy="213.6" r="1.78" fill="#aec7e8"/>
<circle cx="390.1" cy="210.3" r="1.78" fill="#98df8a"/>
<circle cx="392.7" cy="204.7" r="1.78" fill="#98df8a"/>
<circle cx="395.0" cy="205.4" r="1.78" fill="#2ca02c"/>
<circle cx="399.4" cy="202.1" r="1.78" fill="#ffbb78"/>
<circle cx="404.6" cy="202.0" r="1.78" fill="#2ca02c"/>
<circle cx="407.6" cy="202.0" r="1.78" fill="#2ca02c"/>
<circle cx="409.4" cy="202.0" r="1.78" fill="#ffbb78"/>
<circle cx="416.6" cy="201.7" r="1.78" fill="#8c564b"/>
<circle cx="414.3" cy="204.7" r="1.78" fill="#98df8a"/>
<circle cx="414.3" cy="206.2" r="1.78" fill="#ffbb78"/>
<circle cx="406.1" cy="205.1" r="1.78" fill="#1f77b4"/>
<circle cx="405.4" cy="206.9" r="1.78" fill="#1f77b4"/>
<circle cx="397.2" cy="206.9" r="1.78" fill="#ff7f0e"/>
<circle cx="395.4" cy="209.4" r="1.78" fill="#ff9896"/>
<circle cx="399.4" cy="209.1" r="1.78" fill="#98df8a"/>
<circle cx="403.6" cy="209.6" r="1.78" fill="#d62728"/>
<circle cx="410.2" cy="209.1" r="1.78" fill="#7f7f7f"/>
<circle cx="403.2" cy="213.2" r="1.78" fill="#9467bd"/>
<circle cx="410.9" cy="212.4" r="1.78" fill="#9467bd"/>
<circle cx="400.6" cy="217.3" r="1.78" fill="#1f77b4"/>
<circle cx="358.2" cy="219.6" r="1.78" fill="#9467bd"/>
<circle cx="363.3" cy="218.8" r="1.78" fill="#2ca02c"/>
<circle cx="364.1" cy="216.6" r="1.78" fill="#ff7f0e"/>
<circle cx="367.4" cy="218.8" r="1.78" fill="#c49c94"/>
<circle cx="370.8" cy="218.4" r="1.78" fill="#ffbb78"/>
<circle cx="374.9" cy="216.6" r="1.78" fill="#7f7f7f"/>
<circle cx="379.0" cy="217.3" r="1.78" fill="#c5b0d5"/>
<circle cx="379.0" cy="220.0" r="1.78" fill="#7f7f7f"/>
<circle cx="382.0" cy="219.3" r="1.78" fill="#c49c94"/>
<circle cx="384.5" cy="218.1" r="1.78" fill="#d62728"/>
<circle cx="382.6" cy="220.0" r="1.78" fill="#aec7e8"/>
<circle cx="389.5" cy="219.6" r="1.78" fill="#8c564b"/>
<circle cx="392.7" cy="218.1" r="1.78" fill="#c5b0d5"/>
<circle cx="392.3" cy="224.8" r="1.78" fill="#9467bd"/>
<circle cx="396.5" cy="223.3" r="1.78" fill="#8c564b"/>
<circle cx="384.2" cy="223.3" r="1.78" fill="#1f77b4"/>
<circle cx="387.8" cy="223.6" r="1.78" fill="#ffbb78"/>
<circle cx="387.5" cy="220.8" r="1.78" fill="#ff9896"/>
<circle cx="357.7" cy="223.3" r="1.78" fill="#f7b6d2"/>
<circle cx="358.8" cy="224.0" r="1.78" fill="#f7b6d2"/>
<circle cx="361.5" cy="222.2" r="1.78" fill="#c49c94"/>
<circle cx="365.2" cy="221.5" r="1.78" fill="#c5b0d5"/>
<circle cx="363.3" cy="225.2" r="1.78" fill="#8c564b"/>
<circle cx="370.4" cy="223.3" r="1.78" fill="#8c564b"/>
<circle cx="371.1" cy="221.5" r="1.78" fill="#c49c94"/>
<circle cx="372.6" cy="224.3" r="1.78" fill="#c49c94"/>
<circle cx="374.6" cy="221.8" r="1.78" fill="#d62728"/>
<circle cx="374.9" cy="226.3" r="1.78" fill="#9467bd"/>
<circle cx="379.3" cy="223.0" r="1.78" fill="#d62728"/>
<circle cx="380.4" cy="226.0" r="1.78" fill="#d62728"/>
<circle cx="365.9" cy="226.3" r="1.78" fill="#7f7f7f"/>
<circle cx="371.1" cy="228.5" r="1.78" fill="#7f7f7f"/>
<circle cx="357.7" cy="227.8" r="1.78" fill="#aec7e8"/>
<circle cx="359.2" cy="229.2" r="1.78" fill="#aec7e8"/>
<circle cx="362.7" cy="230.0" r="1.78" fill="#2ca02c"/>
<circle cx="360.3" cy="231.9" r="1.78" fill="#8c564b"/>
<circle cx="368.6" cy="232.5" r="1.78" fill="#8c564b"/>
<circle cx="370.1" cy="234.9" r="1.78" fill="#2ca02c"/>
<circle cx="377.8" cy="226.7" r="1.78" fill="#c5b0d5"/>
<circle cx="378.6" cy="229.0" r="1.78" fill="#7f7f7f"/>
<circle cx="378.6" cy="231.0" r="1.78" fill="#7f7f7f"/>
<circle cx="374.6" cy="229.7" r="1.78" fill="#e377c2"/>
<circle cx="367.4" cy="230.4" r="1.78" fill="#98df8a"/>
<circle cx="392.4" cy="229.0" r="1.78" fill="#c5b0d5"/>
<circle cx="387.5" cy="229.5" r="1.78" fill="#d62728"/>
<circle cx="386.3" cy="231.5" r="1.78" fill="#ff7f0e"/>
<circle cx="387.5" cy="233.7" r="1.78" fill="#aec7e8"/>
<circle cx="376.8" cy="234.0" r="1.78" fill="#f7b6d2"/>
<circle cx="363.3" cy="235.2" r="1.78" fill="#aec7e8"/>
<circle cx="404.9" cy="226.3" r="1.78" fill="#7f7f7f"/>
<circle cx="407.6" cy="223.3" r="1.78" fill="#1f77b4"/>
<circle cx="409.9" cy="222.8" r="1.78" fill="#1f77b4"/>
<circle cx="402.4" cy="222.8" r="1.78" fill="#c5b0d5"/>
<circle cx="400.9" cy="221.5" r="1.78" fill="#aec7e8"/>
<circle cx="414.3" cy="224.5" r="1.78" fill="#1f77b4"/>
<circle cx="405.1" cy="231.2" r="1.78" fill="#1f77b4"/>
<circle cx="407.6" cy="229.2" r="1.78" fill="#aec7e8"/>
<circle cx="409.4" cy="231.2" r="1.78" fill="#aec7e8"/>
<circle cx="434.4" cy="232.2" r="1.78" fill="#f7b6d2"/>
<circle cx="435.2" cy="234.5" r="1.78" fill="#7f7f7f"/>
<circle cx="438.6" cy="233.4" r="1.78" fill="#e377c2"/>
<circle cx="441.1" cy="231.5" r="1.78" fill="#e377c2"/>
<circle cx="438.2" cy="236.4" r="1.78" fill="#7f7f7f"/>
<circle cx="441.9" cy="235.5" r="1.78" fill="#c49c94"/>
<circle cx="445.6" cy="234.9" r="1.78" fill="#f7b6d2"/>
<circle cx="441.1" cy="239.7" r="1.78" fill="#7f7f7f"/>
<circle cx="442.6" cy="239.2" r="1.78" fill="#7f7f7f"/>
<circle cx="444.9" cy="240.1" r="1.78" fill="#f7b6d2"/>
<circle cx="447.8" cy="239.4" r="1.78" fill="#c49c94"/>
<circle cx="447.1" cy="238.2" r="1.78" fill="#8c564b"/>
<circle cx="426.2" cy="238.2" r="1.78" fill="#ff9896"/>
<circle cx="426.2" cy="247.6" r="1.78" fill="#1f77b4"/>
<circle cx="437.4" cy="247.1" r="1.78" fill="#7f7f7f"/>
<circle cx="420.3" cy="249.8" r="1.78" fill="#d62728"/>
<circle cx="421.0" cy="251.6" r="1.78" fill="#ff9896"/>
<circle cx="423.7" cy="251.3" r="1.78" fill="#2ca02c"/>
<circle cx="426.2" cy="251.3" r="1.78" fill="#98df8a"/>
<circle cx="429.2" cy="250.1" r="1.78" fill="#ff9896"/>
<circle cx="432.9" cy="249.4" r="1.78" fill="#d62728"/>
<circle cx="435.6" cy="251.3" r="1.78" fill="#2ca02c"/>
<circle cx="431.5" cy="252.3" r="1.78" fill="#ffbb78"/>
<circle cx="433.7" cy="252.3" r="1.78" fill="#ffbb78"/>
<circle cx="422.2" cy="255.3" r="1.78" fill="#8c564b"/>
<circle cx="428.5" cy="254.6" r="1.78" fill="#1f77b4"/>
<circle cx="441.9" cy="250.1" r="1.78" fill="#9467bd"/>
<circle cx="443.4" cy="252.0" r="1.78" fill="#9467bd"/>
<circle cx="448.6" cy="253.4" r="1.78" fill="#9467bd"/>
<circle cx="441.9" cy="256.1" r="1.78" fill="#c5b0d5"/>
<circle cx="434.4" cy="255.3" r="1.78" fill="#aec7e8"/>
<circle cx="433.7" cy="257.8" r="1.78" fill="#aec7e8"/>
<circle cx="359.2" cy="256.1" r="1.78" fill="#1f77b4"/>
<circle cx="363.7" cy="261.3" r="1.78" fill="#aec7e8"/>
<circle cx="360.3" cy="263.5" r="1.78" fill="#7f7f7f"/>
<circle cx="361.2" cy="266.2" r="1.78" fill="#9467bd"/>
<circle cx="358.5" cy="268.0" r="1.78" fill="#9467bd"/>
<circle cx="361.5" cy="268.7" r="1.78" fill="#9467bd"/>
<circle cx="407.6" cy="258.7" r="1.78" fill="#e377c2"/>
<circle cx="408.4" cy="263.5" r="1.78" fill="#e377c2"/>
<circle cx="383.8" cy="265.0" r="1.78" fill="#8c564b"/>
<circle cx="410.6" cy="265.7" r="1.78" fill="#c49c94"/>
<circle cx="403.5" cy="266.5" r="1.78" fill="#ff9896"/>
<circle cx="404.9" cy="266.2" r="1.78" fill="#ffbb78"/>
<circle cx="423.3" cy="263.2" r="1.78" fill="#2ca02c"/>
<circle cx="427.0" cy="265.0" r="1.78" fill="#aec7e8"/>
<circle cx="418.1" cy="268.0" r="1.78" fill="#2ca02c"/>
<circle cx="393.9" cy="269.0" r="1.78" fill="#7f7f7f"/>
<circle cx="396.9" cy="269.0" r="1.78" fill="#9467bd"/>
<circle cx="399.4" cy="269.0" r="1.78" fill="#9467bd"/>
<circle cx="406.9" cy="269.2" r="1.78" fill="#8c564b"/>
<circle cx="414.3" cy="268.7" r="1.78" fill="#c5b0d5"/>
<circle cx="431.5" cy="268.0" r="1.78" fill="#98df8a"/>
<circle cx="434.4" cy="268.3" r="1.78" fill="#2ca02c"/>
<circle cx="441.6" cy="268.0" r="1.78" fill="#ff9896"/>
<circle cx="438.9" cy="269.5" r="1.78" fill="#98df8a"/>
<circle cx="423.3" cy="269.5" r="1.78" fill="#2ca02c"/>
<circle cx="383.8" cy="270.2" r="1.78" fill="#1f77b4"/>
<circle cx="440.4" cy="270.9" r="1.78" fill="#ff9896"/>
<circle cx="443.8" cy="270.9" r="1.78" fill="#d62728"/>
<circle cx="446.3" cy="270.9" r="1.78" fill="#ff7f0e"/>
<circle cx="276.6" cy="272.7" r="1.78" fill="#7f7f7f"/>
<circle cx="277.3" cy="275.0" r="1.78" fill="#1f77b4"/>
<circle cx="280.3" cy="273.2" r="1.78" fill="#ff7f0e"/>
<circle cx="280.3" cy="275.3" r="1.78" fill="#aec7e8"/>
<circle cx="266.2" cy="279.1" r="1.78" fill="#2ca02c"/>
<circle cx="264.7" cy="281.2" r="1.78" fill="#2ca02c"/>
<circle cx="286.3" cy="282.1" r="1.78" fill="#c5b0d5"/>
<circle cx="290.0" cy="282.4" r="1.78" fill="#7f7f7f"/>
<circle cx="281.5" cy="284.7" r="1.78" fill="#7f7f7f"/>
<circle cx="267.7" cy="285.8" r="1.78" fill="#9467bd"/>
<circle cx="274.4" cy="286.4" r="1.78" fill="#9467bd"/>
<circle cx="266.2" cy="288.7" r="1.78" fill="#9467bd"/>
<circle cx="265.1" cy="292.1" r="1.78" fill="#9467bd"/>
<circle cx="272.9" cy="290.6" r="1.78" fill="#8c564b"/>
<circle cx="275.8" cy="293.6" r="1.78" fill="#8c564b"/>
<circle cx="272.1" cy="295.4" r="1.78" fill="#8c564b"/>
<circle cx="264.7" cy="295.5" r="1.78" fill="#ffbb78"/>
<circle cx="270.6" cy="297.3" r="1.78" fill="#e377c2"/>
<circle cx="269.4" cy="302.5" r="1.78" fill="#c5b0d5"/>
<circle cx="272.6" cy="300.6" r="1.78" fill="#7f7f7f"/>
<circle cx="276.6" cy="301.3" r="1.78" fill="#7f7f7f"/>
<circle cx="279.6" cy="291.4" r="1.78" fill="#e377c2"/>
<circle cx="282.5" cy="291.4" r="1.78" fill="#e377c2"/>
<circle cx="278.1" cy="294.3" r="1.78" fill="#f7b6d2"/>
<circle cx="279.6" cy="288.4" r="1.78" fill="#c49c94"/>
<circle cx="284.0" cy="289.1" r="1.78" fill="#8c564b"/>
<circle cx="287.0" cy="286.9" r="1.78" fill="#7f7f7f"/>
<circle cx="288.5" cy="288.4" r="1.78" fill="#7f7f7f"/>
<circle cx="287.0" cy="290.6" r="1.78" fill="#7f7f7f"/>
<circle cx="289.2" cy="291.4" r="1.78" fill="#7f7f7f"/>
<circle cx="284.8" cy="293.6" r="1.78" fill="#7f7f7f"/>
<circle cx="283.3" cy="295.8" r="1.78" fill="#7f7f7f"/>
<circle cx="278.1" cy="298.1" r="1.78" fill="#f7b6d2"/>
<circle cx="281.1" cy="295.8" r="1.78" fill="#8c564b"/>
<circle cx="285.5" cy="295.8" r="1.78" fill="#8c564b"/>
<circle cx="280.3" cy="302.5" r="1.78" fill="#2ca02c"/>
<circle cx="282.5" cy="300.6" r="1.78" fill="#98df8a"/>
<circle cx="284.5" cy="304.0" r="1.78" fill="#ffbb78"/>
<circle cx="286.7" cy="302.5" r="1.78" fill="#c49c94"/>
<circle cx="288.5" cy="306.2" r="1.78" fill="#c5b0d5"/>
<circle cx="278.1" cy="307.0" r="1.78" fill="#7f7f7f"/>
<circle cx="290.0" cy="285.4" r="1.78" fill="#d62728"/>
<circle cx="291.9" cy="286.4" r="1.78" fill="#d62728"/>
<circle cx="294.0" cy="288.8" r="1.78" fill="#9467bd"/>
<circle cx="294.0" cy="294.0" r="1.78" fill="#e377c2"/>
<circle cx="289.2" cy="295.5" r="1.78" fill="#7f7f7f"/>
<circle cx="293.0" cy="295.8" r="1.78" fill="#9467bd"/>
<circle cx="293.7" cy="292.8" r="1.78" fill="#c49c94"/>
<circle cx="295.5" cy="289.6" r="1.78" fill="#8c564b"/>
<circle cx="294.9" cy="291.4" r="1.78" fill="#9467bd"/>
<circle cx="296.4" cy="297.6" r="1.78" fill="#e377c2"/>
<circle cx="293.4" cy="300.3" r="1.78" fill="#f7b6d2"/>
<circle cx="294.5" cy="301.5" r="1.78" fill="#f7b6d2"/>
<circle cx="294.9" cy="307.7" r="1.78" fill="#2ca02c"/>
<circle cx="295.9" cy="306.0" r="1.78" fill="#2ca02c"/>
<circle cx="292.2" cy="305.1" r="1.78" fill="#ff7f0e"/>
<circle cx="293.0" cy="308.5" r="1.78" fill="#ffbb78"/>
<circle cx="295.9" cy="304.0" r="1.78" fill="#1f77b4"/>
<circle cx="282.5" cy="312.5" r="1.78" fill="#ff7f0e"/>
<circle cx="286.3" cy="300.3" r="1.78" fill="#c5b0d5"/>
<circle cx="290.7" cy="298.8" r="1.78" fill="#c49c94"/>
<circle cx="297.0" cy="295.1" r="1.78" fill="#8c564b"/>
<circle cx="300.4" cy="279.4" r="1.78" fill="#8c564b"/>
<circle cx="302.4" cy="282.1" r="1.78" fill="#8c564b"/>
<circle cx="301.5" cy="283.2" r="1.78" fill="#8c564b"/>
<circle cx="298.2" cy="287.3" r="1.78" fill="#ff9896"/>
<circle cx="302.4" cy="288.1" r="1.78" fill="#7f7f7f"/>
<circle cx="300.4" cy="290.6" r="1.78" fill="#7f7f7f"/>
<circle cx="305.3" cy="289.9" r="1.78" fill="#c49c94"/>
<circle cx="307.1" cy="286.6" r="1.78" fill="#7f7f7f"/>
<circle cx="305.6" cy="292.8" r="1.78" fill="#7f7f7f"/>
<circle cx="307.4" cy="293.6" r="1.78" fill="#7f7f7f"/>
<circle cx="309.8" cy="292.4" r="1.78" fill="#7f7f7f"/>
<circle cx="313.8" cy="291.4" r="1.78" fill="#7f7f7f"/>
<circle cx="311.3" cy="288.4" r="1.78" fill="#9467bd"/>
<circle cx="315.0" cy="294.6" r="1.78" fill="#9467bd"/>
<circle cx="310.4" cy="296.6" r="1.78" fill="#e377c2"/>
<circle cx="300.1" cy="297.3" r="1.78" fill="#2ca02c"/>
<circle cx="299.7" cy="294.3" r="1.78" fill="#98df8a"/>
<circle cx="301.5" cy="300.3" r="1.78" fill="#ff7f0e"/>
<circle cx="300.1" cy="301.8" r="1.78" fill="#2ca02c"/>
<circle cx="301.6" cy="302.8" r="1.78" fill="#d62728"/>
<circle cx="304.1" cy="301.8" r="1.78" fill="#98df8a"/>
<circle cx="306.8" cy="302.2" r="1.78" fill="#2ca02c"/>
<circle cx="309.4" cy="299.8" r="1.78" fill="#d62728"/>
<circle cx="306.4" cy="296.6" r="1.78" fill="#ff9896"/>
<circle cx="317.5" cy="290.6" r="1.78" fill="#f7b6d2"/>
<circle cx="319.3" cy="292.5" r="1.78" fill="#f7b6d2"/>
<circle cx="316.8" cy="289.6" r="1.78" fill="#e377c2"/>
<circle cx="317.5" cy="301.8" r="1.78" fill="#c5b0d5"/>
<circle cx="319.3" cy="298.4" r="1.78" fill="#7f7f7f"/>
<circle cx="321.3" cy="303.0" r="1.78" fill="#ff9896"/>
<circle cx="314.3" cy="307.4" r="1.78" fill="#1f77b4"/>
<circle cx="309.8" cy="306.7" r="1.78" fill="#aec7e8"/>
<circle cx="303.4" cy="305.5" r="1.78" fill="#1f77b4"/>
<circle cx="302.4" cy="309.2" r="1.78" fill="#9467bd"/>
<circle cx="303.4" cy="311.5" r="1.78" fill="#aec7e8"/>
<circle cx="312.6" cy="281.4" r="1.78" fill="#d62728"/>
<circle cx="316.1" cy="282.4" r="1.78" fill="#98df8a"/>
<circle cx="315.6" cy="283.9" r="1.78" fill="#c49c94"/>
<circle cx="319.0" cy="279.4" r="1.78" fill="#ffbb78"/>
<circle cx="323.5" cy="284.7" r="1.78" fill="#c49c94"/>
<circle cx="319.8" cy="274.2" r="1.78" fill="#8c564b"/>
<circle cx="323.9" cy="273.5" r="1.78" fill="#8c564b"/>
<circle cx="323.2" cy="277.7" r="1.78" fill="#7f7f7f"/>
<circle cx="327.2" cy="278.7" r="1.78" fill="#f7b6d2"/>
<circle cx="332.4" cy="277.7" r="1.78" fill="#f7b6d2"/>
<circle cx="327.5" cy="283.2" r="1.78" fill="#9467bd"/>
<circle cx="333.2" cy="286.1" r="1.78" fill="#98df8a"/>
<circle cx="333.5" cy="281.2" r="1.78" fill="#aec7e8"/>
<circle cx="331.2" cy="273.5" r="1.78" fill="#2ca02c"/>
<circle cx="338.1" cy="273.8" r="1.78" fill="#ff9896"/>
<circle cx="340.6" cy="272.7" r="1.78" fill="#9467bd"/>
<circle cx="349.1" cy="274.2" r="1.78" fill="#8c564b"/>
<circle cx="352.1" cy="276.2" r="1.78" fill="#7f7f7f"/>
<circle cx="352.1" cy="272.7" r="1.78" fill="#9467bd"/>
<circle cx="350.3" cy="282.4" r="1.78" fill="#ff7f0e"/>
<circle cx="309.8" cy="275.0" r="1.78" fill="#c5b0d5"/>
<circle cx="327.5" cy="296.3" r="1.78" fill="#8c564b"/>
<circle cx="347.3" cy="292.4" r="1.78" fill="#2ca02c"/>
<circle cx="339.6" cy="291.1" r="1.78" fill="#7f7f7f"/>
<circle cx="337.6" cy="292.5" r="1.78" fill="#f7b6d2"/>
<circle cx="339.9" cy="288.8" r="1.78" fill="#f7b6d2"/>
<circle cx="295.2" cy="322.2" r="1.78" fill="#ff7f0e"/>
<circle cx="298.5" cy="321.1" r="1.78" fill="#2ca02c"/>
<circle cx="300.4" cy="321.4" r="1.78" fill="#ffbb78"/>
<circle cx="301.9" cy="322.3" r="1.78" fill="#1f77b4"/>
<circle cx="303.4" cy="322.3" r="1.78" fill="#1f77b4"/>
<circle cx="320.2" cy="314.4" r="1.78" fill="#c5b0d5"/>
<circle cx="311.3" cy="317.4" r="1.78" fill="#e377c2"/>
<circle cx="317.5" cy="320.8" r="1.78" fill="#2ca02c"/>
<circle cx="351.5" cy="303.3" r="1.78" fill="#9467bd"/>
<circle cx="356.0" cy="309.2" r="1.78" fill="#9467bd"/>
<circle cx="332.1" cy="310.4" r="1.78" fill="#2ca02c"/>
<circle cx="339.6" cy="307.0" r="1.78" fill="#2ca02c"/>
<circle cx="341.8" cy="308.2" r="1.78" fill="#98df8a"/>
<circle cx="343.6" cy="308.2" r="1.78" fill="#ffbb78"/>
<circle cx="338.4" cy="310.0" r="1.78" fill="#ff9896"/>
<circle cx="347.3" cy="311.5" r="1.78" fill="#f7b6d2"/>
<circle cx="350.7" cy="313.7" r="1.78" fill="#9467bd"/>
<circle cx="351.8" cy="315.9" r="1.78" fill="#98df8a"/>
<circle cx="329.9" cy="315.2" r="1.78" fill="#7f7f7f"/>
<circle cx="332.4" cy="314.4" r="1.78" fill="#7f7f7f"/>
<circle cx="338.4" cy="315.9" r="1.78" fill="#7f7f7f"/>
<circle cx="341.4" cy="315.2" r="1.78" fill="#8c564b"/>
<circle cx="345.5" cy="316.7" r="1.78" fill="#7f7f7f"/>
<circle cx="342.9" cy="319.4" r="1.78" fill="#7f7f7f"/>
<circle cx="342.6" cy="323.1" r="1.78" fill="#98df8a"/>
<circle cx="350.3" cy="320.4" r="1.78" fill="#8c564b"/>
<circle cx="355.5" cy="320.4" r="1.78" fill="#e377c2"/>
<circle cx="326.5" cy="317.9" r="1.78" fill="#2ca02c"/>
<circle cx="327.5" cy="321.1" r="1.78" fill="#8c564b"/>
<circle cx="333.6" cy="317.4" r="1.78" fill="#d62728"/>
<circle cx="323.2" cy="323.4" r="1.78" fill="#d62728"/>
<circle cx="325.3" cy="324.4" r="1.78" fill="#ff7f0e"/>
<circle cx="336.2" cy="320.4" r="1.78" fill="#7f7f7f"/>
<circle cx="339.9" cy="320.4" r="1.78" fill="#f7b6d2"/>
<circle cx="334.7" cy="322.6" r="1.78" fill="#7f7f7f"/>
<circle cx="335.4" cy="322.3" r="1.78" fill="#1f77b4"/>
<circle cx="338.4" cy="324.1" r="1.78" fill="#ffbb78"/>
<circle cx="343.6" cy="324.9" r="1.78" fill="#ff9896"/>
<circle cx="346.1" cy="324.1" r="1.78" fill="#f7b6d2"/>
<circle cx="348.5" cy="325.6" r="1.78" fill="#ff9896"/>
<circle cx="351.5" cy="326.4" r="1.78" fill="#ff9896"/>
<circle cx="353.6" cy="324.1" r="1.78" fill="#2ca02c"/>
<circle cx="320.2" cy="327.8" r="1.78" fill="#8c564b"/>
<circle cx="330.6" cy="326.8" r="1.78" fill="#aec7e8"/>
<circle cx="336.2" cy="327.1" r="1.78" fill="#ffbb78"/>
<circle cx="340.6" cy="327.4" r="1.78" fill="#ffbb78"/>
<circle cx="345.1" cy="326.4" r="1.78" fill="#7f7f7f"/>
<circle cx="353.3" cy="327.8" r="1.78" fill="#1f77b4"/>
<circle cx="326.2" cy="330.5" r="1.78" fill="#9467bd"/>
<circle cx="329.5" cy="329.3" r="1.78" fill="#9467bd"/>
<circle cx="331.7" cy="330.8" r="1.78" fill="#7f7f7f"/>
<circle cx="329.0" cy="333.1" r="1.78" fill="#7f7f7f"/>
<circle cx="333.5" cy="334.2" r="1.78" fill="#7f7f7f"/>
<circle cx="335.0" cy="331.6" r="1.78" fill="#9467bd"/>
<circle cx="338.1" cy="330.8" r="1.78" fill="#9467bd"/>
<circle cx="339.6" cy="333.1" r="1.78" fill="#d62728"/>
<circle cx="344.0" cy="333.1" r="1.78" fill="#ff7f0e"/>
<circle cx="341.4" cy="329.3" r="1.78" fill="#9467bd"/>
<circle cx="348.5" cy="331.6" r="1.78" fill="#7f7f7f"/>
<circle cx="351.5" cy="329.3" r="1.78" fill="#aec7e8"/>
<circle cx="352.5" cy="333.1" r="1.78" fill="#2ca02c"/>
<circle cx="354.5" cy="334.2" r="1.78" fill="#d62728"/>
<circle cx="356.3" cy="331.6" r="1.78" fill="#2ca02c"/>
<circle cx="335.4" cy="337.2" r="1.78" fill="#9467bd"/>
<circle cx="344.0" cy="336.3" r="1.78" fill="#c5b0d5"/>
<circle cx="347.3" cy="335.6" r="1.78" fill="#e377c2"/>
<circle cx="353.0" cy="336.3" r="1.78" fill="#2ca02c"/>
<circle cx="327.7" cy="337.5" r="1.78" fill="#8c564b"/>
<circle cx="342.1" cy="339.8" r="1.78" fill="#c49c94"/>
<circle cx="341.4" cy="337.5" r="1.78" fill="#c49c94"/>
<circle cx="371.6" cy="277.2" r="1.78" fill="#2ca02c"/>
<circle cx="377.5" cy="275.7" r="1.78" fill="#c5b0d5"/>
<circle cx="375.3" cy="280.9" r="1.78" fill="#9467bd"/>
<circle cx="379.6" cy="279.7" r="1.78" fill="#9467bd"/>
<circle cx="382.0" cy="277.7" r="1.78" fill="#ff9896"/>
<circle cx="385.0" cy="275.0" r="1.78" fill="#e377c2"/>
<circle cx="388.0" cy="277.7" r="1.78" fill="#8c564b"/>
<circle cx="389.0" cy="275.0" r="1.78" fill="#ffbb78"/>
<circle cx="391.5" cy="274.2" r="1.78" fill="#c49c94"/>
<circle cx="394.5" cy="275.3" r="1.78" fill="#ff9896"/>
<circle cx="393.2" cy="278.0" r="1.78" fill="#ff7f0e"/>
<circle cx="394.7" cy="280.2" r="1.78" fill="#2ca02c"/>
<circle cx="390.1" cy="280.6" r="1.78" fill="#1f77b4"/>
<circle cx="382.3" cy="283.2" r="1.78" fill="#ff9896"/>
<circle cx="385.3" cy="280.9" r="1.78" fill="#d62728"/>
<circle cx="386.8" cy="283.2" r="1.78" fill="#ffbb78"/>
<circle cx="390.5" cy="283.9" r="1.78" fill="#8c564b"/>
<circle cx="393.5" cy="283.2" r="1.78" fill="#c49c94"/>
<circle cx="372.6" cy="286.4" r="1.78" fill="#1f77b4"/>
<circle cx="376.7" cy="287.2" r="1.78" fill="#ff7f0e"/>
<circle cx="380.4" cy="286.4" r="1.78" fill="#2ca02c"/>
<circle cx="384.2" cy="287.2" r="1.78" fill="#c49c94"/>
<circle cx="386.5" cy="288.1" r="1.78" fill="#c49c94"/>
<circle cx="382.0" cy="289.1" r="1.78" fill="#7f7f7f"/>
<circle cx="375.2" cy="290.6" r="1.78" fill="#e377c2"/>
<circle cx="373.4" cy="292.8" r="1.78" fill="#8c564b"/>
<circle cx="380.5" cy="293.9" r="1.78" fill="#e377c2"/>
<circle cx="388.3" cy="289.9" r="1.78" fill="#ffbb78"/>
<circle cx="388.7" cy="291.7" r="1.78" fill="#ffbb78"/>
<circle cx="388.7" cy="286.1" r="1.78" fill="#2ca02c"/>
<circle cx="395.4" cy="287.3" r="1.78" fill="#e377c2"/>
<circle cx="397.9" cy="287.2" r="1.78" fill="#7f7f7f"/>
<circle cx="397.7" cy="283.2" r="1.78" fill="#ffbb78"/>
<circle cx="398.7" cy="279.1" r="1.78" fill="#9467bd"/>
<circle cx="400.2" cy="273.5" r="1.78" fill="#2ca02c"/>
<circle cx="400.9" cy="277.7" r="1.78" fill="#2ca02c"/>
<circle cx="402.4" cy="276.5" r="1.78" fill="#8c564b"/>
<circle cx="404.4" cy="278.3" r="1.78" fill="#98df8a"/>
<circle cx="401.7" cy="281.7" r="1.78" fill="#7f7f7f"/>
<circle cx="405.1" cy="281.7" r="1.78" fill="#7f7f7f"/>
<circle cx="410.2" cy="279.4" r="1.78" fill="#7f7f7f"/>
<circle cx="409.9" cy="283.2" r="1.78" fill="#c5b0d5"/>
<circle cx="412.1" cy="284.7" r="1.78" fill="#1f77b4"/>
<circle cx="407.6" cy="286.4" r="1.78" fill="#7f7f7f"/>
<circle cx="403.6" cy="287.2" r="1.78" fill="#2ca02c"/>
<circle cx="409.1" cy="289.9" r="1.78" fill="#1f77b4"/>
<circle cx="410.6" cy="291.1" r="1.78" fill="#2ca02c"/>
<circle cx="397.9" cy="292.8" r="1.78" fill="#c5b0d5"/>
<circle cx="419.2" cy="286.9" r="1.78" fill="#aec7e8"/>
<circle cx="404.4" cy="273.2" r="1.78" fill="#8c564b"/>
<circle cx="408.8" cy="273.8" r="1.78" fill="#8c564b"/>
<circle cx="413.6" cy="275.0" r="1.78" fill="#7f7f7f"/>
<circle cx="416.3" cy="278.0" r="1.78" fill="#7f7f7f"/>
<circle cx="418.3" cy="278.7" r="1.78" fill="#7f7f7f"/>
<circle cx="421.0" cy="279.4" r="1.78" fill="#8c564b"/>
<circle cx="416.6" cy="273.2" r="1.78" fill="#f7b6d2"/>
<circle cx="427.0" cy="275.0" r="1.78" fill="#e377c2"/>
<circle cx="438.2" cy="276.2" r="1.78" fill="#98df8a"/>
<circle cx="438.6" cy="273.8" r="1.78" fill="#ff9896"/>
<circle cx="441.9" cy="275.0" r="1.78" fill="#ffbb78"/>
<circle cx="446.3" cy="272.3" r="1.78" fill="#ff7f0e"/>
<circle cx="434.1" cy="278.7" r="1.78" fill="#9467bd"/>
<circle cx="366.2" cy="308.5" r="1.78" fill="#aec7e8"/>
<circle cx="365.5" cy="310.4" r="1.78" fill="#1f77b4"/>
<circle cx="363.3" cy="314.0" r="1.78" fill="#ff9896"/>
<circle cx="369.2" cy="314.4" r="1.78" fill="#ff7f0e"/>
<circle cx="368.2" cy="316.2" r="1.78" fill="#d62728"/>
<circle cx="371.6" cy="317.0" r="1.78" fill="#7f7f7f"/>
<circle cx="357.7" cy="309.2" r="1.78" fill="#9467bd"/>
<circle cx="362.2" cy="316.7" r="1.78" fill="#1f77b4"/>
<circle cx="362.7" cy="319.6" r="1.78" fill="#2ca02c"/>
<circle cx="366.7" cy="319.6" r="1.78" fill="#c5b0d5"/>
<circle cx="370.1" cy="319.9" r="1.78" fill="#8c564b"/>
<circle cx="370.7" cy="322.3" r="1.78" fill="#ff7f0e"/>
<circle cx="358.2" cy="322.3" r="1.78" fill="#c49c94"/>
<circle cx="362.2" cy="324.1" r="1.78" fill="#9467bd"/>
<circle cx="367.1" cy="324.4" r="1.78" fill="#c49c94"/>
<circle cx="365.2" cy="325.9" r="1.78" fill="#d62728"/>
<circle cx="370.4" cy="326.8" r="1.78" fill="#d62728"/>
<circle cx="375.3" cy="327.4" r="1.78" fill="#7f7f7f"/>
<circle cx="379.3" cy="328.1" r="1.78" fill="#2ca02c"/>
<circle cx="357.7" cy="326.4" r="1.78" fill="#1f77b4"/>
<circle cx="361.5" cy="328.3" r="1.78" fill="#e377c2"/>
<circle cx="365.2" cy="329.3" r="1.78" fill="#9467bd"/>
<circle cx="370.7" cy="330.1" r="1.78" fill="#9467bd"/>
<circle cx="362.2" cy="330.5" r="1.78" fill="#7f7f7f"/>
<circle cx="361.2" cy="333.1" r="1.78" fill="#7f7f7f"/>
<circle cx="365.9" cy="332.3" r="1.78" fill="#9467bd"/>
<circle cx="374.9" cy="332.3" r="1.78" fill="#98df8a"/>
<circle cx="377.1" cy="332.3" r="1.78" fill="#d62728"/>
<circle cx="359.7" cy="336.8" r="1.78" fill="#e377c2"/>
<circle cx="366.7" cy="337.5" r="1.78" fill="#aec7e8"/>
<circle cx="362.2" cy="340.8" r="1.78" fill="#8c564b"/>
<circle cx="379.3" cy="310.7" r="1.78" fill="#e377c2"/>
<circle cx="382.8" cy="318.2" r="1.78" fill="#8c564b"/>
<circle cx="376.1" cy="322.3" r="1.78" fill="#aec7e8"/>
</g>
<rect x="255.50" y="195.00" width="202.00" height="153.50" fill="none" stroke="#626262" stroke-width="1.25"/>
<text x="356.50" y="184.85" font-size="6.3" text-anchor="middle" fill="#000" stroke="#000" stroke-width="0.14" textLength="88.16" lengthAdjust="spacingAndGlyphs">t-SNE of BERT-Corrected Data</text>
<text x="356.50" y="191.40" font-size="6.3" text-anchor="middle" fill="#000" stroke="#000" stroke-width="0.14" textLength="87.98" lengthAdjust="spacingAndGlyphs">(GC-MS Arabidopsis Volatiles)</text>
<text x="356.50" y="355.70" font-size="6.3" text-anchor="middle" fill="#000" stroke="#000" stroke-width="0.14" textLength="22.18" lengthAdjust="spacingAndGlyphs">t-SNE 0</text>
<text x="252.00" y="271.75" font-size="6.3" text-anchor="middle" fill="#000" stroke="#000" stroke-width="0.14" textLength="22.18" lengthAdjust="spacingAndGlyphs" transform="rotate(-90 252.00 271.75)">t-SNE 1</text>
<g stroke="#fff" stroke-width="0.3">
<circle cx="607.4" cy="201.5" r="1.78" fill="#7570b3"/>
<circle cx="648.0" cy="209.2" r="1.78" fill="#7570b3"/>
<circle cx="565.0" cy="207.7" r="1.78" fill="#e7298a"/>
<circle cx="566.5" cy="211.9" r="1.78" fill="#e7298a"/>
<circle cx="579.8" cy="210.4" r="1.78" fill="#e7298a"/>
<circle cx="595.5" cy="209.2" r="1.78" fill="#e7298a"/>
<circle cx="599.7" cy="214.9" r="1.78" fill="#d95f02"/>
<circle cx="525.9" cy="211.3" r="1.78" fill="#e7298a"/>
<circle cx="519.6" cy="214.3" r="1.78" fill="#d95f02"/>
<circle cx="524.4" cy="212.2" r="1.78" fill="#d95f02"/>
<circle cx="572.4" cy="216.6" r="1.78" fill="#d95f02"/>
<circle cx="573.0" cy="221.1" r="1.78" fill="#1b9e77"/>
<circle cx="568.5" cy="220.2" r="1.78" fill="#7570b3"/>
<circle cx="570.9" cy="224.6" r="1.78" fill="#7570b3"/>
<circle cx="565.9" cy="222.6" r="1.78" fill="#e7298a"/>
<circle cx="557.6" cy="225.2" r="1.78" fill="#e7298a"/>
<circle cx="578.3" cy="224.6" r="1.78" fill="#7570b3"/>
<circle cx="582.2" cy="228.5" r="1.78" fill="#7570b3"/>
<circle cx="610.0" cy="216.6" r="1.78" fill="#e7298a"/>
<circle cx="611.8" cy="218.7" r="1.78" fill="#e7298a"/>
<circle cx="618.9" cy="217.8" r="1.78" fill="#1b9e77"/>
<circle cx="605.9" cy="224.0" r="1.78" fill="#e7298a"/>
<circle cx="610.3" cy="223.2" r="1.78" fill="#e7298a"/>
<circle cx="598.5" cy="222.6" r="1.78" fill="#7570b3"/>
<circle cx="614.8" cy="226.7" r="1.78" fill="#d95f02"/>
<circle cx="621.9" cy="225.2" r="1.78" fill="#e7298a"/>
<circle cx="610.0" cy="231.5" r="1.78" fill="#e7298a"/>
<circle cx="620.7" cy="235.0" r="1.78" fill="#e7298a"/>
<circle cx="631.1" cy="224.6" r="1.78" fill="#e7298a"/>
<circle cx="631.7" cy="231.5" r="1.78" fill="#7570b3"/>
<circle cx="636.1" cy="231.5" r="1.78" fill="#7570b3"/>
<circle cx="640.0" cy="235.6" r="1.78" fill="#e7298a"/>
<circle cx="648.0" cy="226.1" r="1.78" fill="#e7298a"/>
<circle cx="653.9" cy="227.6" r="1.78" fill="#e7298a"/>
<circle cx="649.4" cy="234.4" r="1.78" fill="#e7298a"/>
<circle cx="655.4" cy="228.2" r="1.78" fill="#d95f02"/>
<circle cx="659.2" cy="226.7" r="1.78" fill="#d95f02"/>
<circle cx="659.2" cy="224.0" r="1.78" fill="#1b9e77"/>
<circle cx="664.8" cy="224.0" r="1.78" fill="#d95f02"/>
<circle cx="660.4" cy="234.4" r="1.78" fill="#d95f02"/>
<circle cx="659.2" cy="238.0" r="1.78" fill="#1b9e77"/>
<circle cx="653.3" cy="236.5" r="1.78" fill="#7570b3"/>
<circle cx="653.3" cy="240.3" r="1.78" fill="#7570b3"/>
<circle cx="646.5" cy="241.8" r="1.78" fill="#e7298a"/>
<circle cx="657.7" cy="243.9" r="1.78" fill="#d95f02"/>
<circle cx="656.8" cy="249.2" r="1.78" fill="#e7298a"/>
<circle cx="668.1" cy="240.9" r="1.78" fill="#e7298a"/>
<circle cx="668.1" cy="251.3" r="1.78" fill="#7570b3"/>
<circle cx="510.7" cy="227.6" r="1.78" fill="#1b9e77"/>
<circle cx="509.3" cy="228.5" r="1.78" fill="#e7298a"/>
<circle cx="514.6" cy="230.6" r="1.78" fill="#e7298a"/>
<circle cx="514.6" cy="229.7" r="1.78" fill="#7570b3"/>
<circle cx="519.0" cy="233.5" r="1.78" fill="#7570b3"/>
<circle cx="533.6" cy="225.8" r="1.78" fill="#7570b3"/>
<circle cx="542.8" cy="222.3" r="1.78" fill="#d95f02"/>
<circle cx="560.5" cy="232.6" r="1.78" fill="#7570b3"/>
<circle cx="562.0" cy="233.5" r="1.78" fill="#d95f02"/>
<circle cx="565.9" cy="234.4" r="1.78" fill="#1b9e77"/>
<circle cx="569.4" cy="237.1" r="1.78" fill="#7570b3"/>
<circle cx="572.4" cy="236.5" r="1.78" fill="#7570b3"/>
<circle cx="544.2" cy="235.9" r="1.78" fill="#1b9e77"/>
<circle cx="541.3" cy="235.9" r="1.78" fill="#7570b3"/>
<circle cx="542.8" cy="241.8" r="1.78" fill="#d95f02"/>
<circle cx="542.2" cy="244.8" r="1.78" fill="#7570b3"/>
<circle cx="550.2" cy="238.6" r="1.78" fill="#1b9e77"/>
<circle cx="559.1" cy="240.3" r="1.78" fill="#e7298a"/>
<circle cx="560.5" cy="242.4" r="1.78" fill="#e7298a"/>
<circle cx="565.0" cy="241.5" r="1.78" fill="#e7298a"/>
<circle cx="583.4" cy="237.4" r="1.78" fill="#d95f02"/>
<circle cx="585.7" cy="239.5" r="1.78" fill="#e7298a"/>
<circle cx="586.3" cy="240.3" r="1.78" fill="#7570b3"/>
<circle cx="577.4" cy="242.4" r="1.78" fill="#1b9e77"/>
<circle cx="582.8" cy="246.0" r="1.78" fill="#e7298a"/>
<circle cx="580.7" cy="243.3" r="1.78" fill="#7570b3"/>
<circle cx="572.4" cy="238.6" r="1.78" fill="#7570b3"/>
<circle cx="629.6" cy="243.9" r="1.78" fill="#e7298a"/>
<circle cx="599.1" cy="238.6" r="1.78" fill="#d95f02"/>
<circle cx="605.9" cy="244.8" r="1.78" fill="#7570b3"/>
<circle cx="613.3" cy="243.9" r="1.78" fill="#1b9e77"/>
<circle cx="610.3" cy="249.8" r="1.78" fill="#d95f02"/>
<circle cx="594.0" cy="247.5" r="1.78" fill="#1b9e77"/>
<circle cx="589.3" cy="250.7" r="1.78" fill="#7570b3"/>
<circle cx="553.1" cy="255.2" r="1.78" fill="#d95f02"/>
<circle cx="561.4" cy="252.2" r="1.78" fill="#7570b3"/>
<circle cx="566.5" cy="255.8" r="1.78" fill="#7570b3"/>
<circle cx="561.4" cy="256.3" r="1.78" fill="#7570b3"/>
<circle cx="564.4" cy="259.6" r="1.78" fill="#7570b3"/>
<circle cx="556.7" cy="260.8" r="1.78" fill="#e7298a"/>
<circle cx="559.6" cy="260.8" r="1.78" fill="#d95f02"/>
<circle cx="567.3" cy="260.8" r="1.78" fill="#7570b3"/>
<circle cx="572.4" cy="252.8" r="1.78" fill="#d95f02"/>
<circle cx="578.3" cy="253.4" r="1.78" fill="#e7298a"/>
<circle cx="578.9" cy="257.2" r="1.78" fill="#7570b3"/>
<circle cx="587.2" cy="258.1" r="1.78" fill="#1b9e77"/>
<circle cx="600.5" cy="254.3" r="1.78" fill="#7570b3"/>
<circle cx="603.5" cy="252.2" r="1.78" fill="#7570b3"/>
<circle cx="602.0" cy="258.7" r="1.78" fill="#7570b3"/>
<circle cx="616.8" cy="254.9" r="1.78" fill="#d95f02"/>
<circle cx="609.4" cy="255.8" r="1.78" fill="#1b9e77"/>
<circle cx="622.8" cy="252.2" r="1.78" fill="#d95f02"/>
<circle cx="621.9" cy="258.7" r="1.78" fill="#7570b3"/>
<circle cx="632.2" cy="252.2" r="1.78" fill="#d95f02"/>
<circle cx="638.5" cy="253.4" r="1.78" fill="#e7298a"/>
<circle cx="633.1" cy="258.7" r="1.78" fill="#7570b3"/>
<circle cx="640.5" cy="259.6" r="1.78" fill="#7570b3"/>
<circle cx="646.5" cy="263.2" r="1.78" fill="#7570b3"/>
<circle cx="633.7" cy="264.0" r="1.78" fill="#7570b3"/>
<circle cx="639.1" cy="266.1" r="1.78" fill="#7570b3"/>
<circle cx="645.0" cy="270.6" r="1.78" fill="#7570b3"/>
<circle cx="642.0" cy="272.1" r="1.78" fill="#7570b3"/>
<circle cx="625.4" cy="265.5" r="1.78" fill="#e7298a"/>
<circle cx="613.9" cy="260.2" r="1.78" fill="#7570b3"/>
<circle cx="607.9" cy="260.8" r="1.78" fill="#7570b3"/>
<circle cx="516.1" cy="255.8" r="1.78" fill="#7570b3"/>
<circle cx="517.0" cy="258.1" r="1.78" fill="#7570b3"/>
<circle cx="524.4" cy="255.8" r="1.78" fill="#7570b3"/>
<circle cx="527.3" cy="256.6" r="1.78" fill="#7570b3"/>
<circle cx="513.1" cy="260.2" r="1.78" fill="#d95f02"/>
<circle cx="523.5" cy="261.7" r="1.78" fill="#1b9e77"/>
<circle cx="535.3" cy="264.0" r="1.78" fill="#7570b3"/>
<circle cx="512.5" cy="265.5" r="1.78" fill="#7570b3"/>
<circle cx="498.3" cy="263.8" r="1.78" fill="#7570b3"/>
<circle cx="501.9" cy="263.8" r="1.78" fill="#7570b3"/>
<circle cx="493.0" cy="266.1" r="1.78" fill="#7570b3"/>
<circle cx="490.9" cy="268.5" r="1.78" fill="#7570b3"/>
<circle cx="496.8" cy="271.2" r="1.78" fill="#1b9e77"/>
<circle cx="493.9" cy="275.0" r="1.78" fill="#e7298a"/>
<circle cx="519.9" cy="272.1" r="1.78" fill="#7570b3"/>
<circle cx="524.4" cy="275.0" r="1.78" fill="#1b9e77"/>
<circle cx="521.4" cy="267.0" r="1.78" fill="#e7298a"/>
<circle cx="531.8" cy="274.4" r="1.78" fill="#e7298a"/>
<circle cx="539.8" cy="273.5" r="1.78" fill="#d95f02"/>
<circle cx="587.2" cy="267.0" r="1.78" fill="#7570b3"/>
<circle cx="595.5" cy="263.2" r="1.78" fill="#7570b3"/>
<circle cx="594.6" cy="272.1" r="1.78" fill="#7570b3"/>
<circle cx="600.5" cy="273.5" r="1.78" fill="#7570b3"/>
<circle cx="603.5" cy="264.6" r="1.78" fill="#d95f02"/>
<circle cx="607.4" cy="270.0" r="1.78" fill="#1b9e77"/>
<circle cx="611.8" cy="270.6" r="1.78" fill="#d95f02"/>
<circle cx="613.3" cy="274.4" r="1.78" fill="#e7298a"/>
<circle cx="613.9" cy="278.9" r="1.78" fill="#d95f02"/>
<circle cx="601.1" cy="277.4" r="1.78" fill="#d95f02"/>
<circle cx="593.1" cy="280.3" r="1.78" fill="#7570b3"/>
<circle cx="564.4" cy="282.4" r="1.78" fill="#7570b3"/>
<circle cx="560.5" cy="286.0" r="1.78" fill="#7570b3"/>
<circle cx="560.5" cy="284.8" r="1.78" fill="#d95f02"/>
<circle cx="574.8" cy="275.9" r="1.78" fill="#d95f02"/>
<circle cx="547.2" cy="278.6" r="1.78" fill="#7570b3"/>
<circle cx="495.3" cy="281.8" r="1.78" fill="#e7298a"/>
<circle cx="498.3" cy="283.3" r="1.78" fill="#d95f02"/>
<circle cx="519.6" cy="281.8" r="1.78" fill="#e7298a"/>
<circle cx="515.2" cy="286.3" r="1.78" fill="#e7298a"/>
<circle cx="513.7" cy="287.5" r="1.78" fill="#e7298a"/>
<circle cx="505.1" cy="288.4" r="1.78" fill="#e7298a"/>
<circle cx="652.4" cy="274.4" r="1.78" fill="#7570b3"/>
<circle cx="653.9" cy="277.1" r="1.78" fill="#d95f02"/>
<circle cx="657.7" cy="280.1" r="1.78" fill="#d95f02"/>
<circle cx="664.3" cy="283.0" r="1.78" fill="#e7298a"/>
<circle cx="645.9" cy="277.4" r="1.78" fill="#1b9e77"/>
<circle cx="644.4" cy="274.4" r="1.78" fill="#d95f02"/>
<circle cx="673.1" cy="258.7" r="1.78" fill="#e7298a"/>
<circle cx="675.5" cy="263.2" r="1.78" fill="#1b9e77"/>
<circle cx="579.8" cy="289.2" r="1.78" fill="#e7298a"/>
<circle cx="579.8" cy="290.7" r="1.78" fill="#d95f02"/>
<circle cx="567.9" cy="295.8" r="1.78" fill="#e7298a"/>
<circle cx="569.4" cy="298.7" r="1.78" fill="#7570b3"/>
<circle cx="603.5" cy="285.4" r="1.78" fill="#7570b3"/>
<circle cx="599.7" cy="289.2" r="1.78" fill="#7570b3"/>
<circle cx="607.1" cy="288.9" r="1.78" fill="#e7298a"/>
<circle cx="614.5" cy="286.3" r="1.78" fill="#7570b3"/>
<circle cx="627.2" cy="286.3" r="1.78" fill="#7570b3"/>
<circle cx="497.7" cy="299.6" r="1.78" fill="#d95f02"/>
<circle cx="513.1" cy="301.1" r="1.78" fill="#1b9e77"/>
<circle cx="515.5" cy="303.2" r="1.78" fill="#d95f02"/>
<circle cx="523.5" cy="293.7" r="1.78" fill="#7570b3"/>
<circle cx="531.8" cy="293.7" r="1.78" fill="#7570b3"/>
<circle cx="523.5" cy="301.1" r="1.78" fill="#7570b3"/>
<circle cx="531.8" cy="301.1" r="1.78" fill="#7570b3"/>
<circle cx="530.3" cy="300.8" r="1.78" fill="#1b9e77"/>
<circle cx="536.8" cy="302.6" r="1.78" fill="#d95f02"/>
<circle cx="541.3" cy="302.6" r="1.78" fill="#d95f02"/>
<circle cx="547.8" cy="305.5" r="1.78" fill="#1b9e77"/>
<circle cx="591.6" cy="297.8" r="1.78" fill="#d95f02"/>
<circle cx="586.3" cy="300.2" r="1.78" fill="#d95f02"/>
<circle cx="599.9" cy="298.1" r="1.78" fill="#7570b3"/>
<circle cx="612.4" cy="300.2" r="1.78" fill="#e7298a"/>
<circle cx="621.3" cy="298.7" r="1.78" fill="#7570b3"/>
<circle cx="624.2" cy="297.8" r="1.78" fill="#7570b3"/>
<circle cx="627.2" cy="298.7" r="1.78" fill="#7570b3"/>
<circle cx="628.1" cy="293.7" r="1.78" fill="#e7298a"/>
<circle cx="635.2" cy="296.4" r="1.78" fill="#d95f02"/>
<circle cx="630.2" cy="302.6" r="1.78" fill="#e7298a"/>
<circle cx="640.0" cy="299.6" r="1.78" fill="#d95f02"/>
<circle cx="636.1" cy="300.2" r="1.78" fill="#d95f02"/>
<circle cx="644.4" cy="292.8" r="1.78" fill="#7570b3"/>
<circle cx="645.6" cy="296.4" r="1.78" fill="#d95f02"/>
<circle cx="654.8" cy="299.3" r="1.78" fill="#7570b3"/>
<circle cx="526.5" cy="308.5" r="1.78" fill="#7570b3"/>
<circle cx="532.4" cy="309.1" r="1.78" fill="#7570b3"/>
<circle cx="533.0" cy="314.1" r="1.78" fill="#7570b3"/>
<circle cx="536.2" cy="308.2" r="1.78" fill="#d95f02"/>
<circle cx="542.8" cy="311.5" r="1.78" fill="#e7298a"/>
<circle cx="547.2" cy="315.0" r="1.78" fill="#e7298a"/>
<circle cx="559.1" cy="300.2" r="1.78" fill="#1b9e77"/>
<circle cx="558.5" cy="307.0" r="1.78" fill="#1b9e77"/>
<circle cx="557.6" cy="315.0" r="1.78" fill="#1b9e77"/>
<circle cx="564.4" cy="315.0" r="1.78" fill="#e7298a"/>
<circle cx="567.9" cy="304.6" r="1.78" fill="#d95f02"/>
<circle cx="565.9" cy="308.5" r="1.78" fill="#d95f02"/>
<circle cx="570.0" cy="308.5" r="1.78" fill="#d95f02"/>
<circle cx="571.5" cy="316.5" r="1.78" fill="#7570b3"/>
<circle cx="574.8" cy="315.0" r="1.78" fill="#7570b3"/>
<circle cx="584.2" cy="303.2" r="1.78" fill="#7570b3"/>
<circle cx="567.9" cy="311.5" r="1.78" fill="#e7298a"/>
<circle cx="625.1" cy="307.0" r="1.78" fill="#e7298a"/>
<circle cx="631.7" cy="307.0" r="1.78" fill="#d95f02"/>
<circle cx="633.1" cy="310.6" r="1.78" fill="#e7298a"/>
<circle cx="639.1" cy="309.1" r="1.78" fill="#e7298a"/>
<circle cx="628.1" cy="313.5" r="1.78" fill="#e7298a"/>
<circle cx="668.7" cy="310.0" r="1.78" fill="#1b9e77"/>
<circle cx="655.4" cy="316.5" r="1.78" fill="#7570b3"/>
<circle cx="659.2" cy="318.0" r="1.78" fill="#7570b3"/>
<circle cx="662.2" cy="315.9" r="1.78" fill="#7570b3"/>
<circle cx="530.0" cy="321.5" r="1.78" fill="#1b9e77"/>
<circle cx="527.0" cy="323.3" r="1.78" fill="#d95f02"/>
<circle cx="533.0" cy="327.5" r="1.78" fill="#d95f02"/>
<circle cx="535.9" cy="318.9" r="1.78" fill="#e7298a"/>
<circle cx="604.1" cy="316.5" r="1.78" fill="#1b9e77"/>
<circle cx="610.3" cy="313.5" r="1.78" fill="#1b9e77"/>
<circle cx="611.5" cy="315.6" r="1.78" fill="#d95f02"/>
<circle cx="616.0" cy="313.5" r="1.78" fill="#e7298a"/>
<circle cx="608.8" cy="320.1" r="1.78" fill="#7570b3"/>
<circle cx="616.8" cy="323.3" r="1.78" fill="#7570b3"/>
<circle cx="582.8" cy="318.9" r="1.78" fill="#e7298a"/>
<circle cx="586.3" cy="325.4" r="1.78" fill="#1b9e77"/>
<circle cx="572.4" cy="326.3" r="1.78" fill="#d95f02"/>
<circle cx="574.8" cy="331.3" r="1.78" fill="#e7298a"/>
<circle cx="578.3" cy="331.9" r="1.78" fill="#1b9e77"/>
<circle cx="584.2" cy="330.7" r="1.78" fill="#e7298a"/>
<circle cx="595.5" cy="329.8" r="1.78" fill="#7570b3"/>
<circle cx="548.7" cy="331.3" r="1.78" fill="#7570b3"/>
<circle cx="550.8" cy="331.9" r="1.78" fill="#7570b3"/>
<circle cx="562.9" cy="334.3" r="1.78" fill="#1b9e77"/>
<circle cx="566.5" cy="333.4" r="1.78" fill="#7570b3"/>
<circle cx="594.6" cy="340.8" r="1.78" fill="#e7298a"/>
</g>
<rect x="482.50" y="195.00" width="201.90" height="153.50" fill="none" stroke="#626262" stroke-width="1.25"/>
<text x="583.45" y="184.85" font-size="6.3" text-anchor="middle" fill="#000" stroke="#000" stroke-width="0.14" textLength="88.16" lengthAdjust="spacingAndGlyphs">t-SNE of BERT-Corrected Data</text>
<text x="583.45" y="191.40" font-size="6.3" text-anchor="middle" fill="#000" stroke="#000" stroke-width="0.14" textLength="116.76" lengthAdjust="spacingAndGlyphs">(GC-ToF-MS Arabidopsis Polar Metabol.)</text>
<text x="583.45" y="355.70" font-size="6.3" text-anchor="middle" fill="#000" stroke="#000" stroke-width="0.14" textLength="22.18" lengthAdjust="spacingAndGlyphs">t-SNE 0</text>
<text x="479.00" y="271.75" font-size="6.3" text-anchor="middle" fill="#000" stroke="#000" stroke-width="0.14" textLength="22.18" lengthAdjust="spacingAndGlyphs" transform="rotate(-90 479.00 271.75)">t-SNE 1</text>
<text x="25.90" y="11.20" font-size="12.3" text-anchor="start" fill="#000" stroke="#000" stroke-width="0.14" textLength="18.66" lengthAdjust="spacingAndGlyphs">A.1</text>
<text x="255.90" y="11.20" font-size="12.3" text-anchor="start" fill="#000" stroke="#000" stroke-width="0.14" textLength="18.88" lengthAdjust="spacingAndGlyphs">B.1</text>
<text x="482.90" y="11.20" font-size="12.3" text-anchor="start" fill="#000" stroke="#000" stroke-width="0.14" textLength="19.02" lengthAdjust="spacingAndGlyphs">C.1</text>
<text x="25.90" y="191.20" font-size="12.3" text-anchor="start" fill="#000" stroke="#000" stroke-width="0.14" textLength="18.66" lengthAdjust="spacingAndGlyphs">A.2</text>
<text x="255.90" y="191.20" font-size="12.3" text-anchor="start" fill="#000" stroke="#000" stroke-width="0.14" textLength="18.88" lengthAdjust="spacingAndGlyphs">B.2</text>
<text x="482.90" y="191.20" font-size="12.3" text-anchor="start" fill="#000" stroke="#000" stroke-width="0.14" textLength="19.02" lengthAdjust="spacingAndGlyphs">C.2</text>
<text x="25.90" y="369.20" font-size="12.3" text-anchor="start" fill="#000" stroke="#000" stroke-width="0.14" textLength="19.84" lengthAdjust="spacingAndGlyphs">D.1</text>
<text x="255.90" y="369.20" font-size="12.3" text-anchor="start" fill="#000" stroke="#000" stroke-width="0.14" textLength="18.25" lengthAdjust="spacingAndGlyphs">E.1</text>
<text x="482.90" y="369.20" font-size="12.3" text-anchor="start" fill="#000" stroke="#000" stroke-width="0.14" textLength="15.75" lengthAdjust="spacingAndGlyphs">F.1</text>
<rect x="32.25" y="488.80" width="9.05" height="37.50" fill="#e1812c"/>
<rect x="41.25" y="477.60" width="9.05" height="48.70" fill="#3274a1"/>
<rect x="50.25" y="489.80" width="9.05" height="36.50" fill="#c03d3e"/>
<rect x="59.25" y="477.60" width="9.05" height="48.70" fill="#3a923a"/>
<rect x="68.25" y="490.40" width="9.05" height="35.90" fill="#7f7f7f"/>
<rect x="77.25" y="477.80" width="9.05" height="48.50" fill="#d684bd"/>
<line x1="59.25" y1="526.30" x2="59.25" y2="528.60" stroke="#626262" stroke-width="0.7"/>
<text x="59.25" y="535.30" font-size="6.3" text-anchor="middle" fill="#000" stroke="#000" stroke-width="0.14" textLength="18.56" lengthAdjust="spacingAndGlyphs">LC-MS</text>
<rect x="99.75" y="426.00" width="9.05" height="100.30" fill="#e1812c"/>
<rect x="108.75" y="381.40" width="9.05" height="144.90" fill="#3274a1"/>
<rect x="117.75" y="423.00" width="9.05" height="103.30" fill="#c03d3e"/>
<rect x="126.75" y="382.00" width="9.05" height="144.30" fill="#3a923a"/>
<rect x="135.75" y="421.60" width="9.05" height="104.70" fill="#7f7f7f"/>
<rect x="144.75" y="380.00" width="9.05" height="146.30" fill="#d684bd"/>
<line x1="126.75" y1="526.30" x2="126.75" y2="528.60" stroke="#626262" stroke-width="0.7"/>
<text x="126.75" y="535.30" font-size="6.3" text-anchor="middle" fill="#000" stroke="#000" stroke-width="0.14" textLength="19.86" lengthAdjust="spacingAndGlyphs">GC-MS</text>
<rect x="167.25" y="458.80" width="9.05" height="67.50" fill="#e1812c"/>
<rect x="176.25" y="450.00" width="9.05" height="76.30" fill="#3274a1"/>
<rect x="185.25" y="458.80" width="9.05" height="67.50" fill="#c03d3e"/>
<rect x="194.25" y="450.00" width="9.05" height="76.30" fill="#3a923a"/>
<rect x="203.25" y="458.80" width="9.05" height="67.50" fill="#7f7f7f"/>
<rect x="212.25" y="450.00" width="9.05" height="76.30" fill="#d684bd"/>
<line x1="194.25" y1="526.30" x2="194.25" y2="528.60" stroke="#626262" stroke-width="0.7"/>
<text x="194.25" y="535.30" font-size="6.3" text-anchor="middle" fill="#000" stroke="#000" stroke-width="0.14" textLength="31.16" lengthAdjust="spacingAndGlyphs">GC-ToF-MS</text>
<rect x="25.50" y="373.00" width="202.50" height="153.30" fill="none" stroke="#626262" stroke-width="1.25"/>
<text x="126.75" y="369.10" font-size="6.3" text-anchor="middle" fill="#000" stroke="#000" stroke-width="0.14" textLength="111.8" lengthAdjust="spacingAndGlyphs">ASW Batch Improvement per Dataset</text>
<text x="126.75" y="543.30" font-size="6.3" text-anchor="middle" fill="#000" stroke="#000" stroke-width="0.14" textLength="23.34" lengthAdjust="spacingAndGlyphs">Dataset</text>
<rect x="262.23" y="453.20" width="9.03" height="73.10" fill="#e1812c"/>
<rect x="271.21" y="453.20" width="9.03" height="73.10" fill="#3274a1"/>
<rect x="280.19" y="430.00" width="9.03" height="96.30" fill="#c03d3e"/>
<rect x="289.17" y="430.00" width="9.03" height="96.30" fill="#3a923a"/>
<rect x="298.14" y="403.00" width="9.03" height="123.30" fill="#7f7f7f"/>
<rect x="307.12" y="403.00" width="9.03" height="123.30" fill="#d684bd"/>
<line x1="289.17" y1="526.30" x2="289.17" y2="528.60" stroke="#626262" stroke-width="0.7"/>
<text x="289.17" y="535.30" font-size="6.3" text-anchor="middle" fill="#000" stroke="#000" stroke-width="0.14" textLength="18.56" lengthAdjust="spacingAndGlyphs">LC-MS</text>
<rect x="329.57" y="444.80" width="9.03" height="81.50" fill="#e1812c"/>
<rect x="338.54" y="444.80" width="9.03" height="81.50" fill="#3274a1"/>
<rect x="347.52" y="416.00" width="9.03" height="110.30" fill="#c03d3e"/>
<rect x="356.50" y="416.00" width="9.03" height="110.30" fill="#3a923a"/>
<rect x="365.48" y="379.80" width="9.03" height="146.50" fill="#7f7f7f"/>
<rect x="374.46" y="379.80" width="9.03" height="146.50" fill="#d684bd"/>
<line x1="356.50" y1="526.30" x2="356.50" y2="528.60" stroke="#626262" stroke-width="0.7"/>
<text x="356.50" y="535.30" font-size="6.3" text-anchor="middle" fill="#000" stroke="#000" stroke-width="0.14" textLength="19.86" lengthAdjust="spacingAndGlyphs">GC-MS</text>
<rect x="396.90" y="519.40" width="9.03" height="6.90" fill="#e1812c"/>
<rect x="405.88" y="519.40" width="9.03" height="6.90" fill="#3274a1"/>
<rect x="414.86" y="490.00" width="9.03" height="36.30" fill="#c03d3e"/>
<rect x="423.83" y="490.00" width="9.03" height="36.30" fill="#3a923a"/>
<rect x="432.81" y="490.00" width="9.03" height="36.30" fill="#7f7f7f"/>
<rect x="441.79" y="490.00" width="9.03" height="36.30" fill="#d684bd"/>
<line x1="423.83" y1="526.30" x2="423.83" y2="528.60" stroke="#626262" stroke-width="0.7"/>
<text x="423.83" y="535.30" font-size="6.3" text-anchor="middle" fill="#000" stroke="#000" stroke-width="0.14" textLength="31.16" lengthAdjust="spacingAndGlyphs">GC-ToF-MS</text>
<rect x="255.50" y="373.00" width="202.00" height="153.30" fill="none" stroke="#626262" stroke-width="1.25"/>
<text x="356.50" y="369.10" font-size="6.3" text-anchor="middle" fill="#000" stroke="#000" stroke-width="0.14" textLength="102.99" lengthAdjust="spacingAndGlyphs">Lost Numerical Values per Dataset</text>
<text x="356.50" y="543.30" font-size="6.3" text-anchor="middle" fill="#000" stroke="#000" stroke-width="0.14" textLength="23.34" lengthAdjust="spacingAndGlyphs">Dataset</text>
<rect x="489.23" y="505.00" width="9.02" height="21.30" fill="#e1812c"/>
<rect x="498.20" y="507.20" width="9.02" height="19.10" fill="#3274a1"/>
<rect x="507.18" y="452.80" width="9.02" height="73.50" fill="#c03d3e"/>
<rect x="516.15" y="456.00" width="9.02" height="70.30" fill="#3a923a"/>
<rect x="525.12" y="428.60" width="9.02" height="97.70" fill="#7f7f7f"/>
<rect x="534.10" y="429.80" width="9.02" height="96.50" fill="#d684bd"/>
<line x1="516.15" y1="526.30" x2="516.15" y2="528.60" stroke="#626262" stroke-width="0.7"/>
<text x="516.15" y="535.30" font-size="6.3" text-anchor="middle" fill="#000" stroke="#000" stroke-width="0.14" textLength="18.56" lengthAdjust="spacingAndGlyphs">LC-MS</text>
<rect x="556.53" y="497.00" width="9.02" height="29.30" fill="#e1812c"/>
<rect x="565.50" y="504.40" width="9.02" height="21.90" fill="#3274a1"/>
<rect x="574.48" y="426.00" width="9.02" height="100.30" fill="#c03d3e"/>
<rect x="583.45" y="430.00" width="9.02" height="96.30" fill="#3a923a"/>
<rect x="592.42" y="380.00" width="9.02" height="146.30" fill="#7f7f7f"/>
<rect x="601.40" y="382.80" width="9.02" height="143.50" fill="#d684bd"/>
<line x1="583.45" y1="526.30" x2="583.45" y2="528.60" stroke="#626262" stroke-width="0.7"/>
<text x="583.45" y="535.30" font-size="6.3" text-anchor="middle" fill="#000" stroke="#000" stroke-width="0.14" textLength="19.86" lengthAdjust="spacingAndGlyphs">GC-MS</text>
<rect x="623.83" y="525.20" width="9.02" height="1.10" fill="#e1812c"/>
<rect x="632.80" y="525.80" width="9.02" height="0.50" fill="#3274a1"/>
<rect x="641.78" y="522.80" width="9.02" height="3.50" fill="#c03d3e"/>
<rect x="650.75" y="523.60" width="9.02" height="2.70" fill="#3a923a"/>
<rect x="659.72" y="522.00" width="9.02" height="4.30" fill="#7f7f7f"/>
<rect x="668.70" y="522.80" width="9.02" height="3.50" fill="#d684bd"/>
<line x1="650.75" y1="526.30" x2="650.75" y2="528.60" stroke="#626262" stroke-width="0.7"/>
<text x="650.75" y="535.30" font-size="6.3" text-anchor="middle" fill="#000" stroke="#000" stroke-width="0.14" textLength="31.16" lengthAdjust="spacingAndGlyphs">GC-ToF-MS</text>
<rect x="482.50" y="373.00" width="201.90" height="153.30" fill="none" stroke="#626262" stroke-width="1.25"/>
<text x="583.45" y="369.10" font-size="6.3" text-anchor="middle" fill="#000" stroke="#000" stroke-width="0.14" textLength="95.57" lengthAdjust="spacingAndGlyphs">Sequential Runtime per Dataset</text>
<text x="583.45" y="543.30" font-size="6.3" text-anchor="middle" fill="#000" stroke="#000" stroke-width="0.14" textLength="23.34" lengthAdjust="spacingAndGlyphs">Dataset</text>
<line x1="23.20" y1="526.30" x2="25.50" y2="526.30" stroke="#626262" stroke-width="0.7"/>
<text x="21.20" y="528.50" font-size="6.3" text-anchor="end" fill="#000" stroke="#000" stroke-width="0.14" textLength="13.27" lengthAdjust="spacingAndGlyphs">0.00</text>
<line x1="23.20" y1="507.60" x2="25.50" y2="507.60" stroke="#626262" stroke-width="0.7"/>
<text x="21.20" y="509.80" font-size="6.3" text-anchor="end" fill="#000" stroke="#000" stroke-width="0.14" textLength="13.27" lengthAdjust="spacingAndGlyphs">0.02</text>
<line x1="23.20" y1="488.90" x2="25.50" y2="488.90" stroke="#626262" stroke-width="0.7"/>
<text x="21.20" y="491.10" font-size="6.3" text-anchor="end" fill="#000" stroke="#000" stroke-width="0.14" textLength="13.27" lengthAdjust="spacingAndGlyphs">0.04</text>
<line x1="23.20" y1="470.20" x2="25.50" y2="470.20" stroke="#626262" stroke-width="0.7"/>
<text x="21.20" y="472.40" font-size="6.3" text-anchor="end" fill="#000" stroke="#000" stroke-width="0.14" textLength="13.27" lengthAdjust="spacingAndGlyphs">0.06</text>
<line x1="23.20" y1="451.50" x2="25.50" y2="451.50" stroke="#626262" stroke-width="0.7"/>
<text x="21.20" y="453.70" font-size="6.3" text-anchor="end" fill="#000" stroke="#000" stroke-width="0.14" textLength="13.27" lengthAdjust="spacingAndGlyphs">0.08</text>
<line x1="23.20" y1="432.80" x2="25.50" y2="432.80" stroke="#626262" stroke-width="0.7"/>
<text x="21.20" y="435.00" font-size="6.3" text-anchor="end" fill="#000" stroke="#000" stroke-width="0.14" textLength="13.27" lengthAdjust="spacingAndGlyphs">0.10</text>
<line x1="23.20" y1="414.10" x2="25.50" y2="414.10" stroke="#626262" stroke-width="0.7"/>
<text x="21.20" y="416.30" font-size="6.3" text-anchor="end" fill="#000" stroke="#000" stroke-width="0.14" textLength="13.27" lengthAdjust="spacingAndGlyphs">0.12</text>
<line x1="23.20" y1="395.40" x2="25.50" y2="395.40" stroke="#626262" stroke-width="0.7"/>
<text x="21.20" y="397.60" font-size="6.3" text-anchor="end" fill="#000" stroke="#000" stroke-width="0.14" textLength="13.27" lengthAdjust="spacingAndGlyphs">0.14</text>
<line x1="23.20" y1="376.70" x2="25.50" y2="376.70" stroke="#626262" stroke-width="0.7"/>
<text x="21.20" y="378.90" font-size="6.3" text-anchor="end" fill="#000" stroke="#000" stroke-width="0.14" textLength="13.27" lengthAdjust="spacingAndGlyphs">0.16</text>
<text x="5.30" y="449.65" font-size="6.3" text-anchor="middle" fill="#000" stroke="#000" stroke-width="0.14" textLength="110.35" lengthAdjust="spacingAndGlyphs" transform="rotate(-90 5.30 449.65)">Absolute Improvement of ASW Batch</text>
<line x1="253.20" y1="503.95" x2="255.50" y2="503.95" stroke="#626262" stroke-width="0.7"/>
<text x="248.50" y="506.25" font-size="6.3" text-anchor="end" fill="#000" stroke="#000" stroke-width="0.14" textLength="7.58" lengthAdjust="spacingAndGlyphs">10</text>
<text x="248.80" y="503.65" font-size="4.3" text-anchor="start" fill="#000" stroke="#000" stroke-width="0.05" textLength="2.65" lengthAdjust="spacingAndGlyphs">1</text>
<line x1="253.20" y1="465.10" x2="255.50" y2="465.10" stroke="#626262" stroke-width="0.7"/>
<text x="248.50" y="467.40" font-size="6.3" text-anchor="end" fill="#000" stroke="#000" stroke-width="0.14" textLength="7.58" lengthAdjust="spacingAndGlyphs">10</text>
<text x="248.80" y="464.80" font-size="4.3" text-anchor="start" fill="#000" stroke="#000" stroke-width="0.05" textLength="2.65" lengthAdjust="spacingAndGlyphs">2</text>
<line x1="253.20" y1="426.25" x2="255.50" y2="426.25" stroke="#626262" stroke-width="0.7"/>
<text x="248.50" y="428.55" font-size="6.3" text-anchor="end" fill="#000" stroke="#000" stroke-width="0.14" textLength="7.58" lengthAdjust="spacingAndGlyphs">10</text>
<text x="248.80" y="425.95" font-size="4.3" text-anchor="start" fill="#000" stroke="#000" stroke-width="0.05" textLength="2.65" lengthAdjust="spacingAndGlyphs">3</text>
<line x1="253.20" y1="387.40" x2="255.50" y2="387.40" stroke="#626262" stroke-width="0.7"/>
<text x="248.50" y="389.70" font-size="6.3" text-anchor="end" fill="#000" stroke="#000" stroke-width="0.14" textLength="7.58" lengthAdjust="spacingAndGlyphs">10</text>
<text x="248.80" y="387.10" font-size="4.3" text-anchor="start" fill="#000" stroke="#000" stroke-width="0.05" textLength="2.65" lengthAdjust="spacingAndGlyphs">4</text>
<line x1="254.20" y1="524.26" x2="255.50" y2="524.26" stroke="#626262" stroke-width="0.45"/>
<line x1="254.20" y1="519.41" x2="255.50" y2="519.41" stroke="#626262" stroke-width="0.45"/>
<line x1="254.20" y1="515.65" x2="255.50" y2="515.65" stroke="#626262" stroke-width="0.45"/>
<line x1="254.20" y1="512.57" x2="255.50" y2="512.57" stroke="#626262" stroke-width="0.45"/>
<line x1="254.20" y1="509.97" x2="255.50" y2="509.97" stroke="#626262" stroke-width="0.45"/>
<line x1="254.20" y1="507.71" x2="255.50" y2="507.71" stroke="#626262" stroke-width="0.45"/>
<line x1="254.20" y1="505.73" x2="255.50" y2="505.73" stroke="#626262" stroke-width="0.45"/>
<line x1="254.20" y1="492.25" x2="255.50" y2="492.25" stroke="#626262" stroke-width="0.45"/>
<line x1="254.20" y1="485.41" x2="255.50" y2="485.41" stroke="#626262" stroke-width="0.45"/>
<line x1="254.20" y1="480.56" x2="255.50" y2="480.56" stroke="#626262" stroke-width="0.45"/>
<line x1="254.20" y1="476.80" x2="255.50" y2="476.80" stroke="#626262" stroke-width="0.45"/>
<line x1="254.20" y1="473.72" x2="255.50" y2="473.72" stroke="#626262" stroke-width="0.45"/>
<line x1="254.20" y1="471.12" x2="255.50" y2="471.12" stroke="#626262" stroke-width="0.45"/>
<line x1="254.20" y1="468.86" x2="255.50" y2="468.86" stroke="#626262" stroke-width="0.45"/>
<line x1="254.20" y1="466.88" x2="255.50" y2="466.88" stroke="#626262" stroke-width="0.45"/>
<line x1="254.20" y1="453.40" x2="255.50" y2="453.40" stroke="#626262" stroke-width="0.45"/>
<line x1="254.20" y1="446.56" x2="255.50" y2="446.56" stroke="#626262" stroke-width="0.45"/>
<line x1="254.20" y1="441.71" x2="255.50" y2="441.71" stroke="#626262" stroke-width="0.45"/>
<line x1="254.20" y1="437.95" x2="255.50" y2="437.95" stroke="#626262" stroke-width="0.45"/>
<line x1="254.20" y1="434.87" x2="255.50" y2="434.87" stroke="#626262" stroke-width="0.45"/>
<line x1="254.20" y1="432.27" x2="255.50" y2="432.27" stroke="#626262" stroke-width="0.45"/>
<line x1="254.20" y1="430.01" x2="255.50" y2="430.01" stroke="#626262" stroke-width="0.45"/>
<line x1="254.20" y1="428.03" x2="255.50" y2="428.03" stroke="#626262" stroke-width="0.45"/>
<line x1="254.20" y1="414.55" x2="255.50" y2="414.55" stroke="#626262" stroke-width="0.45"/>
<line x1="254.20" y1="407.71" x2="255.50" y2="407.71" stroke="#626262" stroke-width="0.45"/>
<line x1="254.20" y1="402.86" x2="255.50" y2="402.86" stroke="#626262" stroke-width="0.45"/>
<line x1="254.20" y1="399.10" x2="255.50" y2="399.10" stroke="#626262" stroke-width="0.45"/>
<line x1="254.20" y1="396.02" x2="255.50" y2="396.02" stroke="#626262" stroke-width="0.45"/>
<line x1="254.20" y1="393.42" x2="255.50" y2="393.42" stroke="#626262" stroke-width="0.45"/>
<line x1="254.20" y1="391.16" x2="255.50" y2="391.16" stroke="#626262" stroke-width="0.45"/>
<line x1="254.20" y1="389.18" x2="255.50" y2="389.18" stroke="#626262" stroke-width="0.45"/>
<line x1="254.20" y1="375.70" x2="255.50" y2="375.70" stroke="#626262" stroke-width="0.45"/>
<text x="237.00" y="449.65" font-size="6.3" text-anchor="middle" fill="#000" stroke="#000" stroke-width="0.14" textLength="112.92" lengthAdjust="spacingAndGlyphs" transform="rotate(-90 237.00 449.65)">Absolute Number of Lost Num. Values</text>
<line x1="480.20" y1="526.00" x2="482.50" y2="526.00" stroke="#626262" stroke-width="0.7"/>
<text x="478.20" y="528.20" font-size="6.3" text-anchor="end" fill="#000" stroke="#000" stroke-width="0.14" textLength="3.79" lengthAdjust="spacingAndGlyphs">0</text>
<line x1="480.20" y1="492.40" x2="482.50" y2="492.40" stroke="#626262" stroke-width="0.7"/>
<text x="478.20" y="494.60" font-size="6.3" text-anchor="end" fill="#000" stroke="#000" stroke-width="0.14" textLength="3.79" lengthAdjust="spacingAndGlyphs">5</text>
<line x1="480.20" y1="458.80" x2="482.50" y2="458.80" stroke="#626262" stroke-width="0.7"/>
<text x="478.20" y="461.00" font-size="6.3" text-anchor="end" fill="#000" stroke="#000" stroke-width="0.14" textLength="7.58" lengthAdjust="spacingAndGlyphs">10</text>
<line x1="480.20" y1="425.20" x2="482.50" y2="425.20" stroke="#626262" stroke-width="0.7"/>
<text x="478.20" y="427.40" font-size="6.3" text-anchor="end" fill="#000" stroke="#000" stroke-width="0.14" textLength="7.58" lengthAdjust="spacingAndGlyphs">15</text>
<line x1="480.20" y1="391.60" x2="482.50" y2="391.60" stroke="#626262" stroke-width="0.7"/>
<text x="478.20" y="393.80" font-size="6.3" text-anchor="end" fill="#000" stroke="#000" stroke-width="0.14" textLength="7.58" lengthAdjust="spacingAndGlyphs">20</text>
<text x="467.70" y="449.65" font-size="6.3" text-anchor="middle" fill="#000" stroke="#000" stroke-width="0.14" textLength="70.87" lengthAdjust="spacingAndGlyphs" transform="rotate(-90 467.70 449.65)">Sequential Runtime in s</text>
<text x="642.40" y="474.00" font-size="5.1" text-anchor="middle" fill="#000" stroke="#000" stroke-width="0.14" textLength="34.02" lengthAdjust="spacingAndGlyphs" transform="rotate(-90 642.40 474.00)">BERT: &lt;0.12 s</text>
<line x1="640.2" y1="493" x2="636.3" y2="512.5" stroke="#000" stroke-width="0.7"/>
<polygon points="634.6,519.8 632.2,512.2 638.6,513.4" fill="#000"/>
<rect x="2.3" y="549.3" width="515.6" height="18.3" rx="1.4" fill="#fff" stroke="#d4d4d4" stroke-width="0.6"/>
<line x1="2.6" y1="554.1" x2="17.0" y2="554.1" stroke="#1f77b4" stroke-width="1.6"/>
<text x="20.60" y="556.30" font-size="6.3" text-anchor="start" fill="#000" stroke="#000" stroke-width="0.14" textLength="61.51" lengthAdjust="spacingAndGlyphs">BERT + limma (B+L)</text>
<line x1="2.6" y1="562.9" x2="17.0" y2="562.9" stroke="#ff7f0e" stroke-width="1.6"/>
<text x="20.60" y="565.10" font-size="6.3" text-anchor="start" fill="#000" stroke="#000" stroke-width="0.14" textLength="67.47" lengthAdjust="spacingAndGlyphs">BERT + ComBat (B+C)</text>
<line x1="99.2" y1="554.1" x2="113.60000000000001" y2="554.1" stroke="#2ca02c" stroke-width="1.6"/>
<text x="116.80" y="556.30" font-size="6.3" text-anchor="start" fill="#000" stroke="#000" stroke-width="0.14" textLength="79.33" lengthAdjust="spacingAndGlyphs">HarmonizR + limma (H+L)</text>
<line x1="99.2" y1="562.9" x2="113.60000000000001" y2="562.9" stroke="#d62728" stroke-width="1.6"/>
<text x="116.80" y="565.10" font-size="6.3" text-anchor="start" fill="#000" stroke="#000" stroke-width="0.14" textLength="85.29" lengthAdjust="spacingAndGlyphs">HarmonizR + ComBat (H+C)</text>
<line x1="213" y1="554.1" x2="227.4" y2="554.1" stroke="#e377c2" stroke-width="1.6"/>
<text x="231.00" y="556.30" font-size="6.3" text-anchor="start" fill="#000" stroke="#000" stroke-width="0.14" textLength="121.76" lengthAdjust="spacingAndGlyphs">HarmonizR (de-activ. UR) + limma (H+L)</text>
<line x1="213" y1="562.9" x2="227.4" y2="562.9" stroke="#7f7f7f" stroke-width="1.6"/>
<text x="231.00" y="565.10" font-size="6.3" text-anchor="start" fill="#000" stroke="#000" stroke-width="0.14" textLength="127.72" lengthAdjust="spacingAndGlyphs">HarmonizR (de-activ. UR) + ComBat (H+C)</text>
<circle cx="376.7" cy="554.3" r="2.8" fill="none" stroke="#222" stroke-width="0.7"/>
<text x="388.00" y="556.50" font-size="6.3" text-anchor="start" fill="#000" stroke="#000" stroke-width="0.14" textLength="127.69" lengthAdjust="spacingAndGlyphs">Arabidopsis Sample (color indicates batch)</text>
</svg></body></html>
